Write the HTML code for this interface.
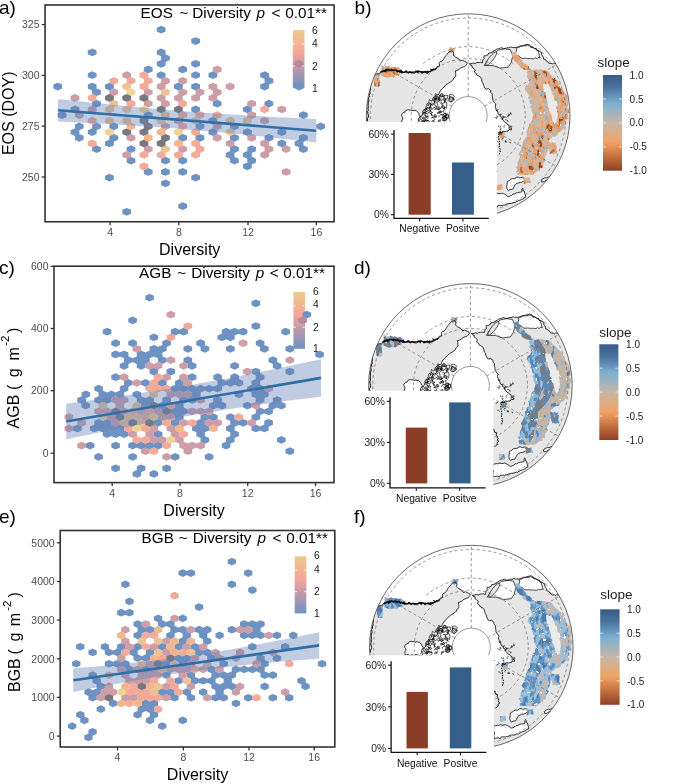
<!DOCTYPE html>
<html><head><meta charset="utf-8"><style>html,body{margin:0;padding:0;background:#fff;}svg{display:block;}</style></head>
<body><svg width="685" height="784" viewBox="0 0 685 784" style="will-change:transform">
<rect width="685" height="784" fill="#fff"/>
<defs><linearGradient id="lga" x1="0" y1="1" x2="0" y2="0"><stop offset="0" stop-color="#6e92c3"/><stop offset="0.38" stop-color="#c79aa8"/><stop offset="0.6" stop-color="#f4a69b"/><stop offset="0.77" stop-color="#f2b794"/><stop offset="1" stop-color="#ebcb8e"/></linearGradient></defs>
<rect x="292.8" y="30.2" width="11.699999999999989" height="57.7" fill="url(#lga)"/>
<text x="312" y="33.8" font-family="Liberation Sans, sans-serif" font-size="10.3" fill="#1a1a1a">6</text>
<text x="312" y="47.1" font-family="Liberation Sans, sans-serif" font-size="10.3" fill="#1a1a1a">4</text>
<text x="312" y="70.0" font-family="Liberation Sans, sans-serif" font-size="10.3" fill="#1a1a1a">2</text>
<text x="312" y="91.5" font-family="Liberation Sans, sans-serif" font-size="10.3" fill="#1a1a1a">1</text>
<path fill="#6e93c3" d="M92.20,48.53L96.59,50.46L96.59,54.34L92.20,56.27L87.81,54.34L87.81,50.46ZM92.20,71.30L96.59,73.24L96.59,77.11L92.20,79.04L87.81,77.11L87.81,73.24ZM57.72,82.69L62.11,84.62L62.11,88.49L57.72,90.43L53.34,88.49L53.34,84.62ZM92.20,82.69L96.59,84.62L96.59,88.49L92.20,90.43L87.81,88.49L87.81,84.62ZM96.51,88.38L100.90,90.32L100.90,94.19L96.51,96.12L92.12,94.19L92.12,90.32ZM109.44,82.69L113.83,84.62L113.83,88.49L109.44,90.43L105.05,88.49L105.05,84.62ZM96.51,99.77L100.90,101.70L100.90,105.57L96.51,107.51L92.12,105.57L92.12,101.70ZM74.96,105.46L79.35,107.39L79.35,111.27L74.96,113.20L70.58,111.27L70.58,107.39ZM62.03,111.15L66.42,113.09L66.42,116.96L62.03,118.89L57.65,116.96L57.65,113.09ZM79.27,122.54L83.66,124.47L83.66,128.34L79.27,130.28L74.89,128.34L74.89,124.47ZM96.51,122.54L100.90,124.47L100.90,128.34L96.51,130.28L92.12,128.34L92.12,124.47ZM113.75,122.54L118.14,124.47L118.14,128.34L113.75,130.28L109.36,128.34L109.36,124.47ZM74.96,128.23L79.35,130.17L79.35,134.04L74.96,135.97L70.58,134.04L70.58,130.17ZM92.20,128.23L96.59,130.17L96.59,134.04L92.20,135.97L87.81,134.04L87.81,130.17ZM79.27,133.92L83.66,135.86L83.66,139.73L79.27,141.67L74.89,139.73L74.89,135.86ZM113.75,133.92L118.14,135.86L118.14,139.73L113.75,141.67L109.36,139.73L109.36,135.86ZM109.44,139.62L113.83,141.55L113.83,145.42L109.44,147.36L105.05,145.42L105.05,141.55ZM96.51,145.31L100.90,147.25L100.90,151.12L96.51,153.05L92.12,151.12L92.12,147.25ZM130.99,145.31L135.38,147.25L135.38,151.12L130.99,153.05L126.61,151.12L126.61,147.25ZM130.99,156.70L135.38,158.63L135.38,162.50L130.99,164.44L126.61,162.50L126.61,158.63ZM148.23,168.08L152.61,170.02L152.61,173.89L148.23,175.82L143.84,173.89L143.84,170.02ZM109.44,173.78L113.83,175.71L113.83,179.58L109.44,181.52L105.05,179.58L105.05,175.71ZM126.68,207.93L131.06,209.87L131.06,213.74L126.68,215.67L122.30,213.74L122.30,209.87ZM161.16,25.76L165.54,27.69L165.54,31.56L161.16,33.50L156.78,31.56L156.78,27.69ZM195.64,37.14L200.02,39.08L200.02,42.95L195.64,44.88L191.25,42.95L191.25,39.08ZM161.16,48.53L165.54,50.46L165.54,54.34L161.16,56.27L156.78,54.34L156.78,50.46ZM165.47,54.22L169.85,56.16L169.85,60.03L165.47,61.96L161.09,60.03L161.09,56.16ZM161.16,59.92L165.54,61.85L165.54,65.72L161.16,67.66L156.78,65.72L156.78,61.85ZM148.23,65.61L152.61,67.54L152.61,71.41L148.23,73.35L143.84,71.41L143.84,67.54ZM182.71,65.61L187.09,67.54L187.09,71.41L182.71,73.35L178.32,71.41L178.32,67.54ZM195.64,59.92L200.02,61.85L200.02,65.72L195.64,67.66L191.25,65.72L191.25,61.85ZM161.16,71.30L165.54,73.24L165.54,77.11L161.16,79.04L156.78,77.11L156.78,73.24ZM195.64,71.30L200.02,73.24L200.02,77.11L195.64,79.04L191.25,77.11L191.25,73.24ZM212.88,71.30L217.26,73.24L217.26,77.11L212.88,79.04L208.50,77.11L208.50,73.24ZM178.40,82.69L182.78,84.62L182.78,88.49L178.40,90.43L174.01,88.49L174.01,84.62ZM195.64,82.69L200.02,84.62L200.02,88.49L195.64,90.43L191.25,88.49L191.25,84.62ZM217.19,99.77L221.57,101.70L221.57,105.57L217.19,107.51L212.81,105.57L212.81,101.70ZM195.64,105.46L200.02,107.39L200.02,111.27L195.64,113.20L191.25,111.27L191.25,107.39ZM148.23,111.15L152.61,113.09L152.61,116.96L148.23,118.89L143.84,116.96L143.84,113.09ZM212.88,116.85L217.26,118.78L217.26,122.65L212.88,124.59L208.50,122.65L208.50,118.78ZM199.95,122.54L204.33,124.47L204.33,128.34L199.95,130.28L195.56,128.34L195.56,124.47ZM234.43,122.54L238.81,124.47L238.81,128.34L234.43,130.28L230.05,128.34L230.05,124.47ZM212.88,128.23L217.26,130.17L217.26,134.04L212.88,135.97L208.50,134.04L208.50,130.17ZM182.71,133.92L187.09,135.86L187.09,139.73L182.71,141.67L178.32,139.73L178.32,135.86ZM199.95,133.92L204.33,135.86L204.33,139.73L199.95,141.67L195.56,139.73L195.56,135.86ZM234.43,133.92L238.81,135.86L238.81,139.73L234.43,141.67L230.05,139.73L230.05,135.86ZM234.43,145.31L238.81,147.25L238.81,151.12L234.43,153.05L230.05,151.12L230.05,147.25ZM230.12,151.00L234.50,152.94L234.50,156.81L230.12,158.74L225.74,156.81L225.74,152.94ZM165.47,156.70L169.85,158.63L169.85,162.50L165.47,164.44L161.09,162.50L161.09,158.63ZM182.71,156.70L187.09,158.63L187.09,162.50L182.71,164.44L178.32,162.50L178.32,158.63ZM234.43,156.70L238.81,158.63L238.81,162.50L234.43,164.44L230.05,162.50L230.05,158.63ZM165.47,168.08L169.85,170.02L169.85,173.89L165.47,175.82L161.09,173.89L161.09,170.02ZM182.71,168.08L187.09,170.02L187.09,173.89L182.71,175.82L178.32,173.89L178.32,170.02ZM195.64,173.78L200.02,175.71L200.02,179.58L195.64,181.52L191.25,179.58L191.25,175.71ZM165.47,179.47L169.85,181.40L169.85,185.27L165.47,187.21L161.09,185.27L161.09,181.40ZM182.71,202.24L187.09,204.18L187.09,208.05L182.71,209.98L178.32,208.05L178.32,204.18ZM264.60,71.30L268.98,73.24L268.98,77.11L264.60,79.04L260.21,77.11L260.21,73.24ZM268.91,76.99L273.29,78.93L273.29,82.80L268.91,84.74L264.52,82.80L264.52,78.93ZM264.60,82.69L268.98,84.62L268.98,88.49L264.60,90.43L260.21,88.49L260.21,84.62ZM299.08,82.69L303.46,84.62L303.46,88.49L299.08,90.43L294.69,88.49L294.69,84.62ZM268.91,99.77L273.29,101.70L273.29,105.57L268.91,107.51L264.52,105.57L264.52,101.70ZM247.36,105.46L251.75,107.39L251.75,111.27L247.36,113.20L242.98,111.27L242.98,107.39ZM303.39,111.15L307.77,113.09L307.77,116.96L303.39,118.89L299.00,116.96L299.00,113.09ZM320.63,122.54L325.01,124.47L325.01,128.34L320.63,130.28L316.25,128.34L316.25,124.47ZM247.36,128.23L251.75,130.17L251.75,134.04L247.36,135.97L242.98,134.04L242.98,130.17ZM281.84,128.23L286.22,130.17L286.22,134.04L281.84,135.97L277.45,134.04L277.45,130.17ZM268.91,133.92L273.29,135.86L273.29,139.73L268.91,141.67L264.52,139.73L264.52,135.86ZM303.39,133.92L307.77,135.86L307.77,139.73L303.39,141.67L299.00,139.73L299.00,135.86ZM281.84,139.62L286.22,141.55L286.22,145.42L281.84,147.36L277.45,145.42L277.45,141.55ZM299.08,139.62L303.46,141.55L303.46,145.42L299.08,147.36L294.69,145.42L294.69,141.55ZM251.67,145.31L256.06,147.25L256.06,151.12L251.67,153.05L247.29,151.12L247.29,147.25ZM303.39,145.31L307.77,147.25L307.77,151.12L303.39,153.05L299.00,151.12L299.00,147.25ZM247.36,151.00L251.75,152.94L251.75,156.81L247.36,158.74L242.98,156.81L242.98,152.94ZM251.67,156.70L256.06,158.63L256.06,162.50L251.67,164.44L247.29,162.50L247.29,158.63ZM247.36,162.39L251.75,164.32L251.75,168.20L247.36,170.13L242.98,168.20L242.98,164.32Z"/>
<path fill="#f4aa98" d="M113.75,76.99L118.14,78.93L118.14,82.80L113.75,84.74L109.36,82.80L109.36,78.93ZM130.99,76.99L135.38,78.93L135.38,82.80L130.99,84.74L126.61,82.80L126.61,78.93ZM143.92,71.30L148.31,73.24L148.31,77.11L143.92,79.04L139.54,77.11L139.54,73.24ZM143.92,82.69L148.31,84.62L148.31,88.49L143.92,90.43L139.54,88.49L139.54,84.62ZM92.20,94.07L96.59,96.01L96.59,99.88L92.20,101.81L87.81,99.88L87.81,96.01ZM130.99,99.77L135.38,101.70L135.38,105.57L130.99,107.51L126.61,105.57L126.61,101.70ZM92.20,116.85L96.59,118.78L96.59,122.65L92.20,124.59L87.81,122.65L87.81,118.78ZM92.20,139.62L96.59,141.55L96.59,145.42L92.20,147.36L87.81,145.42L87.81,141.55ZM143.92,151.00L148.31,152.94L148.31,156.81L143.92,158.74L139.54,156.81L139.54,152.94ZM143.92,162.39L148.31,164.32L148.31,168.20L143.92,170.13L139.54,168.20L139.54,164.32ZM148.23,76.99L152.61,78.93L152.61,82.80L148.23,84.74L143.84,82.80L143.84,78.93ZM182.71,99.77L187.09,101.70L187.09,105.57L182.71,107.51L178.32,105.57L178.32,101.70ZM182.71,111.15L187.09,113.09L187.09,116.96L182.71,118.89L178.32,116.96L178.32,113.09ZM199.95,111.15L204.33,113.09L204.33,116.96L199.95,118.89L195.56,116.96L195.56,113.09ZM217.19,111.15L221.57,113.09L221.57,116.96L217.19,118.89L212.81,116.96L212.81,113.09ZM182.71,122.54L187.09,124.47L187.09,128.34L182.71,130.28L178.32,128.34L178.32,124.47ZM195.64,128.23L200.02,130.17L200.02,134.04L195.64,135.97L191.25,134.04L191.25,130.17ZM195.64,139.62L200.02,141.55L200.02,145.42L195.64,147.36L191.25,145.42L191.25,141.55ZM199.95,145.31L204.33,147.25L204.33,151.12L199.95,153.05L195.56,151.12L195.56,147.25ZM161.16,151.00L165.54,152.94L165.54,156.81L161.16,158.74L156.78,156.81L156.78,152.94ZM178.40,151.00L182.78,152.94L182.78,156.81L178.40,158.74L174.01,156.81L174.01,152.94ZM195.64,151.00L200.02,152.94L200.02,156.81L195.64,158.74L191.25,156.81L191.25,152.94ZM264.60,105.46L268.98,107.39L268.98,111.27L264.60,113.20L260.21,111.27L260.21,107.39Z"/>
<path fill="#cd9ea8" d="M126.68,71.30L131.06,73.24L131.06,77.11L126.68,79.04L122.30,77.11L122.30,73.24ZM113.75,88.38L118.14,90.32L118.14,94.19L113.75,96.12L109.36,94.19L109.36,90.32ZM74.96,94.07L79.35,96.01L79.35,99.88L74.96,101.81L70.58,99.88L70.58,96.01ZM92.20,105.46L96.59,107.39L96.59,111.27L92.20,113.20L87.81,111.27L87.81,107.39ZM79.27,111.15L83.66,113.09L83.66,116.96L79.27,118.89L74.89,116.96L74.89,113.09ZM130.99,133.92L135.38,135.86L135.38,139.73L130.99,141.67L126.61,139.73L126.61,135.86ZM126.68,151.00L131.06,152.94L131.06,156.81L126.68,158.74L122.30,156.81L122.30,152.94ZM217.19,65.61L221.57,67.54L221.57,71.41L217.19,73.35L212.81,71.41L212.81,67.54ZM165.47,76.99L169.85,78.93L169.85,82.80L165.47,84.74L161.09,82.80L161.09,78.93ZM182.71,76.99L187.09,78.93L187.09,82.80L182.71,84.74L178.32,82.80L178.32,78.93ZM161.16,82.69L165.54,84.62L165.54,88.49L161.16,90.43L156.78,88.49L156.78,84.62ZM212.88,82.69L217.26,84.62L217.26,88.49L212.88,90.43L208.50,88.49L208.50,84.62ZM230.12,82.69L234.50,84.62L234.50,88.49L230.12,90.43L225.74,88.49L225.74,84.62ZM148.23,88.38L152.61,90.32L152.61,94.19L148.23,96.12L143.84,94.19L143.84,90.32ZM182.71,88.38L187.09,90.32L187.09,94.19L182.71,96.12L178.32,94.19L178.32,90.32ZM199.95,88.38L204.33,90.32L204.33,94.19L199.95,96.12L195.56,94.19L195.56,90.32ZM217.19,88.38L221.57,90.32L221.57,94.19L217.19,96.12L212.81,94.19L212.81,90.32ZM161.16,94.07L165.54,96.01L165.54,99.88L161.16,101.81L156.78,99.88L156.78,96.01ZM178.40,94.07L182.78,96.01L182.78,99.88L178.40,101.81L174.01,99.88L174.01,96.01ZM195.64,94.07L200.02,96.01L200.02,99.88L195.64,101.81L191.25,99.88L191.25,96.01ZM212.88,94.07L217.26,96.01L217.26,99.88L212.88,101.81L208.50,99.88L208.50,96.01ZM148.23,99.77L152.61,101.70L152.61,105.57L148.23,107.51L143.84,105.57L143.84,101.70ZM165.47,99.77L169.85,101.70L169.85,105.57L165.47,107.51L161.09,105.57L161.09,101.70ZM178.40,116.85L182.78,118.78L182.78,122.65L178.40,124.59L174.01,122.65L174.01,118.78ZM165.47,122.54L169.85,124.47L169.85,128.34L165.47,130.28L161.09,128.34L161.09,124.47ZM217.19,122.54L221.57,124.47L221.57,128.34L217.19,130.28L212.81,128.34L212.81,124.47ZM217.19,133.92L221.57,135.86L221.57,139.73L217.19,141.67L212.81,139.73L212.81,135.86ZM230.12,139.62L234.50,141.55L234.50,145.42L230.12,147.36L225.74,145.42L225.74,141.55ZM148.23,145.31L152.61,147.25L152.61,151.12L148.23,153.05L143.84,151.12L143.84,147.25ZM182.71,145.31L187.09,147.25L187.09,151.12L182.71,153.05L178.32,151.12L178.32,147.25ZM251.67,99.77L256.06,101.70L256.06,105.57L251.67,107.51L247.29,105.57L247.29,101.70ZM281.84,105.46L286.22,107.39L286.22,111.27L281.84,113.20L277.45,111.27L277.45,107.39ZM251.67,111.15L256.06,113.09L256.06,116.96L251.67,118.89L247.29,116.96L247.29,113.09ZM264.60,116.85L268.98,118.78L268.98,122.65L264.60,124.59L260.21,122.65L260.21,118.78ZM251.67,133.92L256.06,135.86L256.06,139.73L251.67,141.67L247.29,139.73L247.29,135.86ZM264.60,139.62L268.98,141.55L268.98,145.42L264.60,147.36L260.21,145.42L260.21,141.55ZM268.91,145.31L273.29,147.25L273.29,151.12L268.91,153.05L264.52,151.12L264.52,147.25ZM286.15,145.31L290.53,147.25L290.53,151.12L286.15,153.05L281.76,151.12L281.76,147.25ZM264.60,151.00L268.98,152.94L268.98,156.81L264.60,158.74L260.21,156.81L260.21,152.94ZM286.15,168.08L290.53,170.02L290.53,173.89L286.15,175.82L281.76,173.89L281.76,170.02Z"/>
<path fill="#edc393" d="M126.68,82.69L131.06,84.62L131.06,88.49L126.68,90.43L122.30,88.49L122.30,84.62ZM113.75,99.77L118.14,101.70L118.14,105.57L113.75,107.51L109.36,105.57L109.36,101.70ZM109.44,105.46L113.83,107.39L113.83,111.27L109.44,113.20L105.05,111.27L105.05,107.39ZM126.68,105.46L131.06,107.39L131.06,111.27L126.68,113.20L122.30,111.27L122.30,107.39ZM109.44,116.85L113.83,118.78L113.83,122.65L109.44,124.59L105.05,122.65L105.05,118.78ZM126.68,116.85L131.06,118.78L131.06,122.65L126.68,124.59L122.30,122.65L122.30,118.78ZM165.47,88.38L169.85,90.32L169.85,94.19L165.47,96.12L161.09,94.19L161.09,90.32ZM165.47,111.15L169.85,113.09L169.85,116.96L165.47,118.89L161.09,116.96L161.09,113.09ZM161.16,116.85L165.54,118.78L165.54,122.65L161.16,124.59L156.78,122.65L156.78,118.78ZM195.64,116.85L200.02,118.78L200.02,122.65L195.64,124.59L191.25,122.65L191.25,118.78ZM230.12,116.85L234.50,118.78L234.50,122.65L230.12,124.59L225.74,122.65L225.74,118.78ZM230.12,128.23L234.50,130.17L234.50,134.04L230.12,135.97L225.74,134.04L225.74,130.17ZM165.47,145.31L169.85,147.25L169.85,151.12L165.47,153.05L161.09,151.12L161.09,147.25ZM247.36,116.85L251.75,118.78L251.75,122.65L247.36,124.59L242.98,122.65L242.98,118.78Z"/>
<path fill="#eed592" d="M130.99,88.38L135.38,90.32L135.38,94.19L130.99,96.12L126.61,94.19L126.61,90.32ZM143.92,105.46L148.31,107.39L148.31,111.27L143.92,113.20L139.54,111.27L139.54,107.39ZM109.44,128.23L113.83,130.17L113.83,134.04L109.44,135.97L105.05,134.04L105.05,130.17ZM178.40,128.23L182.78,130.17L182.78,134.04L178.40,135.97L174.01,134.04L174.01,130.17Z"/>
<path fill="#78787c" d="M109.44,94.07L113.83,96.01L113.83,99.88L109.44,101.81L105.05,99.88L105.05,96.01ZM126.68,94.07L131.06,96.01L131.06,99.88L126.68,101.81L122.30,99.88L122.30,96.01ZM143.92,94.07L148.31,96.01L148.31,99.88L143.92,101.81L139.54,99.88L139.54,96.01ZM143.92,116.85L148.31,118.78L148.31,122.65L143.92,124.59L139.54,122.65L139.54,118.78ZM126.68,128.23L131.06,130.17L131.06,134.04L126.68,135.97L122.30,134.04L122.30,130.17ZM143.92,128.23L148.31,130.17L148.31,134.04L143.92,135.97L139.54,134.04L139.54,130.17ZM143.92,139.62L148.31,141.55L148.31,145.42L143.92,147.36L139.54,145.42L139.54,141.55ZM161.16,105.46L165.54,107.39L165.54,111.27L161.16,113.20L156.78,111.27L156.78,107.39ZM178.40,105.46L182.78,107.39L182.78,111.27L178.40,113.20L174.01,111.27L174.01,107.39ZM148.23,122.54L152.61,124.47L152.61,128.34L148.23,130.28L143.84,128.34L143.84,124.47ZM165.47,133.92L169.85,135.86L169.85,139.73L165.47,141.67L161.09,139.73L161.09,135.86ZM161.16,139.62L165.54,141.55L165.54,145.42L161.16,147.36L156.78,145.42L156.78,141.55Z"/>
<path fill="#f3b58c" d="M130.99,122.54L135.38,124.47L135.38,128.34L130.99,130.28L126.61,128.34L126.61,124.47ZM161.16,128.23L165.54,130.17L165.54,134.04L161.16,135.97L156.78,134.04L156.78,130.17ZM148.23,133.92L152.61,135.86L152.61,139.73L148.23,141.67L143.84,139.73L143.84,135.86ZM178.40,139.62L182.78,141.55L182.78,145.42L178.40,147.36L174.01,145.42L174.01,141.55Z"/>
<path fill="#b98a9e" d="M299.08,59.92L303.46,61.85L303.46,65.72L299.08,67.66L294.69,65.72L294.69,61.85Z"/>
<path d="M292.8,66.0h2.3M302.2,66.0h2.3" stroke="#fff" stroke-width="0.8"/>
<path d="M292.8,44.1h2.3M302.2,44.1h2.3" stroke="#fff" stroke-width="0.8"/>
<path fill="#6180b6" fill-opacity="0.4" d="M58.0,98.9L68.8,100.1L79.5,101.3L90.3,102.5L101.1,103.6L111.8,104.7L122.6,105.8L133.3,106.8L144.1,107.8L154.9,108.8L165.6,109.7L176.4,110.6L187.2,111.4L197.9,112.2L208.7,113.0L219.4,113.7L230.2,114.4L241.0,115.1L251.7,115.7L262.5,116.3L273.2,116.9L284.0,117.4L294.8,117.9L305.5,118.4L316.3,118.9L316.3,142.5L305.5,141.3L294.8,140.1L284.0,138.9L273.2,137.7L262.5,136.5L251.7,135.4L241.0,134.3L230.2,133.3L219.4,132.3L208.7,131.3L197.9,130.4L187.2,129.5L176.4,128.6L165.6,127.8L154.9,127.0L144.1,126.3L133.3,125.6L122.6,124.9L111.8,124.2L101.1,123.6L90.3,123.1L79.5,122.5L68.8,122.0L58.0,121.5Z"/>
<line x1="58" y1="110.2" x2="316.3" y2="130.7" stroke="#2f6fa8" stroke-width="2.6"/>
<rect x="45.05" y="5.0" width="289.05" height="216.75" fill="none" stroke="#333333" stroke-width="1.6"/>
<line x1="41.75" y1="24.6" x2="45.05" y2="24.6" stroke="#333333" stroke-width="1.3"/>
<text x="39.55" y="28.4" font-family="Liberation Sans, sans-serif" font-size="10.5" fill="#4d4d4d" text-anchor="end">325</text>
<line x1="41.75" y1="75.4" x2="45.05" y2="75.4" stroke="#333333" stroke-width="1.3"/>
<text x="39.55" y="79.2" font-family="Liberation Sans, sans-serif" font-size="10.5" fill="#4d4d4d" text-anchor="end">300</text>
<line x1="41.75" y1="126.2" x2="45.05" y2="126.2" stroke="#333333" stroke-width="1.3"/>
<text x="39.55" y="129.9" font-family="Liberation Sans, sans-serif" font-size="10.5" fill="#4d4d4d" text-anchor="end">275</text>
<line x1="41.75" y1="177.0" x2="45.05" y2="177.0" stroke="#333333" stroke-width="1.3"/>
<text x="39.55" y="180.8" font-family="Liberation Sans, sans-serif" font-size="10.5" fill="#4d4d4d" text-anchor="end">250</text>
<line x1="110.1" y1="221.75" x2="110.1" y2="225.25" stroke="#333333" stroke-width="1.3"/>
<text x="110.1" y="235.9" font-family="Liberation Sans, sans-serif" font-size="10.5" fill="#4d4d4d" text-anchor="middle">4</text>
<line x1="178.8" y1="221.75" x2="178.8" y2="225.25" stroke="#333333" stroke-width="1.3"/>
<text x="178.8" y="235.9" font-family="Liberation Sans, sans-serif" font-size="10.5" fill="#4d4d4d" text-anchor="middle">8</text>
<line x1="248" y1="221.75" x2="248" y2="225.25" stroke="#333333" stroke-width="1.3"/>
<text x="248" y="235.9" font-family="Liberation Sans, sans-serif" font-size="10.5" fill="#4d4d4d" text-anchor="middle">12</text>
<line x1="316.4" y1="221.75" x2="316.4" y2="225.25" stroke="#333333" stroke-width="1.3"/>
<text x="316.4" y="235.9" font-family="Liberation Sans, sans-serif" font-size="10.5" fill="#4d4d4d" text-anchor="middle">16</text>
<text x="189.7" y="254.8" font-family="Liberation Sans, sans-serif" font-size="16" fill="#000" text-anchor="middle">Diversity</text>
<text transform="translate(14.2,113.3) rotate(-90)" font-family="Liberation Sans, sans-serif" font-size="16" fill="#000" text-anchor="middle">EOS (DOY)</text>
<text x="-1" y="14" font-family="Liberation Sans, sans-serif" font-size="19" fill="#000">a)</text>
<text x="140.6" y="17.8" font-family="Liberation Sans, sans-serif" font-size="15.3" fill="#000" >EOS</text>
<text x="179.6" y="17.8" font-family="Liberation Sans, sans-serif" font-size="15.3" fill="#000" >~</text>
<text x="192.3" y="17.8" font-family="Liberation Sans, sans-serif" font-size="15.3" fill="#000" >Diversity</text>
<text x="256.5" y="17.8" font-family="Liberation Sans, sans-serif" font-size="15.3" fill="#000" font-style="italic">p</text>
<text x="271.6" y="17.8" font-family="Liberation Sans, sans-serif" font-size="15.3" fill="#000" >&lt;</text>
<text x="285.2" y="17.8" font-family="Liberation Sans, sans-serif" font-size="15.3" fill="#000" >0.01**</text>
<defs><linearGradient id="lgc" x1="0" y1="1" x2="0" y2="0"><stop offset="0" stop-color="#6e92c3"/><stop offset="0.38" stop-color="#c79aa8"/><stop offset="0.6" stop-color="#f4a69b"/><stop offset="0.77" stop-color="#f2b794"/><stop offset="1" stop-color="#ebcb8e"/></linearGradient></defs>
<rect x="293.4" y="292" width="11.600000000000023" height="56.80000000000001" fill="url(#lgc)"/>
<text x="313" y="294.9" font-family="Liberation Sans, sans-serif" font-size="10.3" fill="#1a1a1a">6</text>
<text x="313" y="308.1" font-family="Liberation Sans, sans-serif" font-size="10.3" fill="#1a1a1a">4</text>
<text x="313" y="330.6" font-family="Liberation Sans, sans-serif" font-size="10.3" fill="#1a1a1a">2</text>
<text x="313" y="352.4" font-family="Liberation Sans, sans-serif" font-size="10.3" fill="#1a1a1a">1</text>
<path fill="#6e93c3" d="M132.60,316.47L136.92,318.41L136.92,322.27L132.60,324.21L128.28,322.27L128.28,318.41ZM107.10,327.85L111.42,329.79L111.42,333.65L107.10,335.59L102.77,333.65L102.77,329.79ZM115.60,339.23L119.92,341.17L119.92,345.03L115.60,346.97L111.27,345.03L111.27,341.17ZM132.60,339.23L136.92,341.17L136.92,345.03L132.60,346.97L128.28,345.03L128.28,341.17ZM115.60,350.61L119.92,352.55L119.92,356.41L115.60,358.35L111.27,356.41L111.27,352.55ZM124.10,350.61L128.42,352.55L128.42,356.41L124.10,358.35L119.77,356.41L119.77,352.55ZM141.10,350.61L145.42,352.55L145.42,356.41L141.10,358.35L136.78,356.41L136.78,352.55ZM128.35,356.30L132.67,358.24L132.67,362.10L128.35,364.04L124.02,362.10L124.02,358.24ZM153.85,333.54L158.17,335.48L158.17,339.34L153.85,341.28L149.53,339.34L149.53,335.48ZM153.85,344.92L158.17,346.86L158.17,350.72L153.85,352.66L149.53,350.72L149.53,346.86ZM149.60,350.61L153.92,352.55L153.92,356.41L149.60,358.35L145.28,356.41L145.28,352.55ZM158.10,350.61L162.42,352.55L162.42,356.41L158.10,358.35L153.78,356.41L153.78,352.55ZM136.85,356.30L141.17,358.24L141.17,362.10L136.85,364.04L132.53,362.10L132.53,358.24ZM145.35,356.30L149.67,358.24L149.67,362.10L145.35,364.04L141.03,362.10L141.03,358.24ZM124.10,361.99L128.42,363.93L128.42,367.79L124.10,369.73L119.77,367.79L119.77,363.93ZM141.10,361.99L145.42,363.93L145.42,367.79L141.10,369.73L136.78,367.79L136.78,363.93ZM153.85,367.68L158.17,369.62L158.17,373.48L153.85,375.42L149.53,373.48L149.53,369.62ZM115.60,373.37L119.92,375.31L119.92,379.17L115.60,381.11L111.27,379.17L111.27,375.31ZM128.35,379.06L132.67,381.00L132.67,384.86L128.35,386.80L124.02,384.86L124.02,381.00ZM145.35,379.06L149.67,381.00L149.67,384.86L145.35,386.80L141.03,384.86L141.03,381.00ZM162.35,379.06L166.67,381.00L166.67,384.86L162.35,386.80L158.03,384.86L158.03,381.00ZM98.60,384.75L102.92,386.69L102.92,390.55L98.60,392.49L94.27,390.55L94.27,386.69ZM124.10,384.75L128.42,386.69L128.42,390.55L124.10,392.49L119.77,390.55L119.77,386.69ZM149.60,293.71L153.92,295.65L153.92,299.51L149.60,301.45L145.28,299.51L145.28,295.65ZM175.10,327.85L179.42,329.79L179.42,333.65L175.10,335.59L170.78,333.65L170.78,329.79ZM183.60,327.85L187.92,329.79L187.92,333.65L183.60,335.59L179.28,333.65L179.28,329.79ZM166.60,339.23L170.92,341.17L170.92,345.03L166.60,346.97L162.28,345.03L162.28,341.17ZM200.60,339.23L204.92,341.17L204.92,345.03L200.60,346.97L196.28,345.03L196.28,341.17ZM204.85,344.92L209.17,346.86L209.17,350.72L204.85,352.66L200.53,350.72L200.53,346.86ZM187.85,344.92L192.17,346.86L192.17,350.72L187.85,352.66L183.53,350.72L183.53,346.86ZM162.35,344.92L166.67,346.86L166.67,350.72L162.35,352.66L158.03,350.72L158.03,346.86ZM187.85,356.30L192.17,358.24L192.17,362.10L187.85,364.04L183.53,362.10L183.53,358.24ZM162.35,356.30L166.67,358.24L166.67,362.10L162.35,364.04L158.03,362.10L158.03,358.24ZM255.85,299.40L260.18,301.34L260.18,305.20L255.85,307.14L251.53,305.20L251.53,301.34ZM255.85,322.16L260.18,324.10L260.18,327.96L255.85,329.90L251.53,327.96L251.53,324.10ZM226.10,327.85L230.42,329.79L230.42,333.65L226.10,335.59L221.78,333.65L221.78,329.79ZM234.60,327.85L238.92,329.79L238.92,333.65L234.60,335.59L230.28,333.65L230.28,329.79ZM243.10,327.85L247.42,329.79L247.42,333.65L243.10,335.59L238.78,333.65L238.78,329.79ZM221.85,333.54L226.17,335.48L226.17,339.34L221.85,341.28L217.53,339.34L217.53,335.48ZM230.35,333.54L234.67,335.48L234.67,339.34L230.35,341.28L226.03,339.34L226.03,335.48ZM285.60,327.85L289.93,329.79L289.93,333.65L285.60,335.59L281.28,333.65L281.28,329.79ZM260.10,339.23L264.43,341.17L264.43,345.03L260.10,346.97L255.78,345.03L255.78,341.17ZM264.35,344.92L268.68,346.86L268.68,350.72L264.35,352.66L260.03,350.72L260.03,346.86ZM230.35,344.92L234.67,346.86L234.67,350.72L230.35,352.66L226.03,350.72L226.03,346.86ZM289.85,344.92L294.18,346.86L294.18,350.72L289.85,352.66L285.53,350.72L285.53,346.86ZM272.85,356.30L277.18,358.24L277.18,362.10L272.85,364.04L268.53,362.10L268.53,358.24ZM306.85,310.78L311.18,312.72L311.18,316.58L306.85,318.52L302.53,316.58L302.53,312.72ZM319.60,350.61L323.93,352.55L323.93,356.41L319.60,358.35L315.28,356.41L315.28,352.55ZM277.10,361.99L281.43,363.93L281.43,367.79L277.10,369.73L272.78,367.79L272.78,363.93ZM234.60,361.99L238.92,363.93L238.92,367.79L234.60,369.73L230.28,367.79L230.28,363.93ZM255.85,367.68L260.18,369.62L260.18,373.48L255.85,375.42L251.53,373.48L251.53,369.62ZM260.10,373.37L264.43,375.31L264.43,379.17L260.10,381.11L255.78,379.17L255.78,375.31ZM289.85,367.68L294.18,369.62L294.18,373.48L289.85,375.42L285.53,373.48L285.53,369.62ZM192.10,361.99L196.42,363.93L196.42,367.79L192.10,369.73L187.78,367.79L187.78,363.93ZM170.85,367.68L175.17,369.62L175.17,373.48L170.85,375.42L166.53,373.48L166.53,369.62ZM192.10,373.37L196.42,375.31L196.42,379.17L192.10,381.11L187.78,379.17L187.78,375.31ZM179.35,379.06L183.67,381.00L183.67,384.86L179.35,386.80L175.03,384.86L175.03,381.00ZM175.10,384.75L179.42,386.69L179.42,390.55L175.10,392.49L170.78,390.55L170.78,386.69ZM183.60,384.75L187.92,386.69L187.92,390.55L183.60,392.49L179.28,390.55L179.28,386.69ZM192.10,384.75L196.42,386.69L196.42,390.55L192.10,392.49L187.78,390.55L187.78,386.69ZM200.60,384.75L204.92,386.69L204.92,390.55L200.60,392.49L196.28,390.55L196.28,386.69ZM209.10,384.75L213.42,386.69L213.42,390.55L209.10,392.49L204.78,390.55L204.78,386.69ZM136.85,390.44L141.17,392.38L141.17,396.24L136.85,398.18L132.53,396.24L132.53,392.38ZM196.35,390.44L200.67,392.38L200.67,396.24L196.35,398.18L192.03,396.24L192.03,392.38ZM141.10,396.13L145.42,398.07L145.42,401.93L141.10,403.87L136.78,401.93L136.78,398.07ZM149.60,396.13L153.92,398.07L153.92,401.93L149.60,403.87L145.28,401.93L145.28,398.07ZM166.60,396.13L170.92,398.07L170.92,401.93L166.60,403.87L162.28,401.93L162.28,398.07ZM183.60,396.13L187.92,398.07L187.92,401.93L183.60,403.87L179.28,401.93L179.28,398.07ZM192.10,396.13L196.42,398.07L196.42,401.93L192.10,403.87L187.78,401.93L187.78,398.07ZM145.35,401.82L149.67,403.76L149.67,407.62L145.35,409.56L141.03,407.62L141.03,403.76ZM162.35,401.82L166.67,403.76L166.67,407.62L162.35,409.56L158.03,407.62L158.03,403.76ZM179.35,401.82L183.67,403.76L183.67,407.62L179.35,409.56L175.03,407.62L175.03,403.76ZM175.10,407.51L179.42,409.45L179.42,413.31L175.10,415.25L170.78,413.31L170.78,409.45ZM183.60,407.51L187.92,409.45L187.92,413.31L183.60,415.25L179.28,413.31L179.28,409.45ZM179.35,413.20L183.67,415.14L183.67,419.00L179.35,420.94L175.03,419.00L175.03,415.14ZM204.85,413.20L209.17,415.14L209.17,419.00L204.85,420.94L200.53,419.00L200.53,415.14ZM158.10,418.89L162.42,420.83L162.42,424.69L158.10,426.63L153.78,424.69L153.78,420.83ZM175.10,418.89L179.42,420.83L179.42,424.69L175.10,426.63L170.78,424.69L170.78,420.83ZM200.60,418.89L204.92,420.83L204.92,424.69L200.60,426.63L196.28,424.69L196.28,420.83ZM85.85,390.44L90.17,392.38L90.17,396.24L85.85,398.18L81.52,396.24L81.52,392.38ZM102.85,390.44L107.17,392.38L107.17,396.24L102.85,398.18L98.52,396.24L98.52,392.38ZM111.35,390.44L115.67,392.38L115.67,396.24L111.35,398.18L107.02,396.24L107.02,392.38ZM119.85,390.44L124.17,392.38L124.17,396.24L119.85,398.18L115.52,396.24L115.52,392.38ZM81.60,396.13L85.92,398.07L85.92,401.93L81.60,403.87L77.27,401.93L77.27,398.07ZM98.60,396.13L102.92,398.07L102.92,401.93L98.60,403.87L94.27,401.93L94.27,398.07ZM107.10,396.13L111.42,398.07L111.42,401.93L107.10,403.87L102.77,401.93L102.77,398.07ZM85.85,401.82L90.17,403.76L90.17,407.62L85.85,409.56L81.52,407.62L81.52,403.76ZM98.60,418.89L102.92,420.83L102.92,424.69L98.60,426.63L94.27,424.69L94.27,420.83ZM107.10,418.89L111.42,420.83L111.42,424.69L107.10,426.63L102.77,424.69L102.77,420.83ZM77.35,424.58L81.67,426.52L81.67,430.38L77.35,432.32L73.02,430.38L73.02,426.52ZM94.35,424.58L98.67,426.52L98.67,430.38L94.35,432.32L90.02,430.38L90.02,426.52ZM102.85,424.58L107.17,426.52L107.17,430.38L102.85,432.32L98.52,430.38L98.52,426.52ZM111.35,424.58L115.67,426.52L115.67,430.38L111.35,432.32L107.02,430.38L107.02,426.52ZM119.85,424.58L124.17,426.52L124.17,430.38L119.85,432.32L115.52,430.38L115.52,426.52ZM107.10,430.27L111.42,432.21L111.42,436.07L107.10,438.01L102.77,436.07L102.77,432.21ZM115.60,430.27L119.92,432.21L119.92,436.07L115.60,438.01L111.27,436.07L111.27,432.21ZM124.10,430.27L128.42,432.21L128.42,436.07L124.10,438.01L119.77,436.07L119.77,432.21ZM196.35,424.58L200.67,426.52L200.67,430.38L196.35,432.32L192.03,430.38L192.03,426.52ZM158.10,430.27L162.42,432.21L162.42,436.07L158.10,438.01L153.78,436.07L153.78,432.21ZM200.60,430.27L204.92,432.21L204.92,436.07L200.60,438.01L196.28,436.07L196.28,432.21ZM90.10,441.65L94.42,443.59L94.42,447.45L90.10,449.39L85.77,447.45L85.77,443.59ZM115.60,441.65L119.92,443.59L119.92,447.45L115.60,449.39L111.27,447.45L111.27,443.59ZM132.60,441.65L136.92,443.59L136.92,447.45L132.60,449.39L128.28,447.45L128.28,443.59ZM141.10,441.65L145.42,443.59L145.42,447.45L141.10,449.39L136.78,447.45L136.78,443.59ZM149.60,441.65L153.92,443.59L153.92,447.45L149.60,449.39L145.28,447.45L145.28,443.59ZM158.10,441.65L162.42,443.59L162.42,447.45L158.10,449.39L153.78,447.45L153.78,443.59ZM98.60,453.03L102.92,454.97L102.92,458.83L98.60,460.77L94.27,458.83L94.27,454.97ZM132.60,453.03L136.92,454.97L136.92,458.83L132.60,460.77L128.28,458.83L128.28,454.97ZM175.10,453.03L179.42,454.97L179.42,458.83L175.10,460.77L170.78,458.83L170.78,454.97ZM115.60,464.41L119.92,466.35L119.92,470.21L115.60,472.15L111.27,470.21L111.27,466.35ZM141.10,464.41L145.42,466.35L145.42,470.21L141.10,472.15L136.78,470.21L136.78,466.35ZM166.60,464.41L170.92,466.35L170.92,470.21L166.60,472.15L162.28,470.21L162.28,466.35ZM136.85,470.10L141.17,472.04L141.17,475.90L136.85,477.84L132.53,475.90L132.53,472.04ZM153.85,470.10L158.17,472.04L158.17,475.90L153.85,477.84L149.53,475.90L149.53,472.04ZM213.35,413.20L217.67,415.14L217.67,419.00L213.35,420.94L209.03,419.00L209.03,415.14ZM230.35,413.20L234.67,415.14L234.67,419.00L230.35,420.94L226.03,419.00L226.03,415.14ZM255.85,413.20L260.18,415.14L260.18,419.00L255.85,420.94L251.53,419.00L251.53,415.14ZM234.60,418.89L238.92,420.83L238.92,424.69L234.60,426.63L230.28,424.69L230.28,420.83ZM243.10,418.89L247.42,420.83L247.42,424.69L243.10,426.63L238.78,424.69L238.78,420.83ZM204.85,424.58L209.17,426.52L209.17,430.38L204.85,432.32L200.53,430.38L200.53,426.52ZM230.35,424.58L234.67,426.52L234.67,430.38L230.35,432.32L226.03,430.38L226.03,426.52ZM255.85,424.58L260.18,426.52L260.18,430.38L255.85,432.32L251.53,430.38L251.53,426.52ZM264.35,424.58L268.68,426.52L268.68,430.38L264.35,432.32L260.03,430.38L260.03,426.52ZM234.60,430.27L238.92,432.21L238.92,436.07L234.60,438.01L230.28,436.07L230.28,432.21ZM204.85,435.96L209.17,437.90L209.17,441.76L204.85,443.70L200.53,441.76L200.53,437.90ZM230.35,435.96L234.67,437.90L234.67,441.76L230.35,443.70L226.03,441.76L226.03,437.90ZM226.10,441.65L230.42,443.59L230.42,447.45L226.10,449.39L221.78,447.45L221.78,443.59ZM209.10,453.03L213.42,454.97L213.42,458.83L209.10,460.77L204.78,458.83L204.78,454.97ZM217.60,373.37L221.92,375.31L221.92,379.17L217.60,381.11L213.28,379.17L213.28,375.31ZM234.60,373.37L238.92,375.31L238.92,379.17L234.60,381.11L230.28,379.17L230.28,375.31ZM221.85,379.06L226.17,381.00L226.17,384.86L221.85,386.80L217.53,384.86L217.53,381.00ZM230.35,379.06L234.67,381.00L234.67,384.86L230.35,386.80L226.03,384.86L226.03,381.00ZM238.85,379.06L243.17,381.00L243.17,384.86L238.85,386.80L234.53,384.86L234.53,381.00ZM255.85,379.06L260.18,381.00L260.18,384.86L255.85,386.80L251.53,384.86L251.53,381.00ZM217.60,384.75L221.92,386.69L221.92,390.55L217.60,392.49L213.28,390.55L213.28,386.69ZM251.60,384.75L255.92,386.69L255.92,390.55L251.60,392.49L247.28,390.55L247.28,386.69ZM260.10,384.75L264.43,386.69L264.43,390.55L260.10,392.49L255.78,390.55L255.78,386.69ZM238.85,390.44L243.17,392.38L243.17,396.24L238.85,398.18L234.53,396.24L234.53,392.38ZM255.85,390.44L260.18,392.38L260.18,396.24L255.85,398.18L251.53,396.24L251.53,392.38ZM217.60,396.13L221.92,398.07L221.92,401.93L217.60,403.87L213.28,401.93L213.28,398.07ZM260.10,396.13L264.43,398.07L264.43,401.93L260.10,403.87L255.78,401.93L255.78,398.07ZM213.35,401.82L217.67,403.76L217.67,407.62L213.35,409.56L209.03,407.62L209.03,403.76ZM221.85,401.82L226.17,403.76L226.17,407.62L221.85,409.56L217.53,407.62L217.53,403.76ZM247.35,401.82L251.67,403.76L251.67,407.62L247.35,409.56L243.03,407.62L243.03,403.76ZM260.10,407.51L264.43,409.45L264.43,413.31L260.10,415.25L255.78,413.31L255.78,409.45ZM264.35,390.44L268.68,392.38L268.68,396.24L264.35,398.18L260.03,396.24L260.03,392.38ZM277.10,396.13L281.43,398.07L281.43,401.93L277.10,403.87L272.78,401.93L272.78,398.07ZM272.85,401.82L277.18,403.76L277.18,407.62L272.85,409.56L268.53,407.62L268.53,403.76ZM281.35,401.82L285.68,403.76L285.68,407.62L281.35,409.56L277.03,407.62L277.03,403.76ZM268.60,407.51L272.93,409.45L272.93,413.31L268.60,415.25L264.28,413.31L264.28,409.45ZM268.60,418.89L272.93,420.83L272.93,424.69L268.60,426.63L264.28,424.69L264.28,420.83ZM281.35,435.96L285.68,437.90L285.68,441.76L281.35,443.70L277.03,441.76L277.03,437.90ZM289.85,447.34L294.18,449.28L294.18,453.14L289.85,455.08L285.53,453.14L285.53,449.28Z"/>
<path fill="#cd9ea8" d="M136.85,344.92L141.17,346.86L141.17,350.72L136.85,352.66L132.53,350.72L132.53,346.86ZM149.60,361.99L153.92,363.93L153.92,367.79L149.60,369.73L145.28,367.79L145.28,363.93ZM158.10,361.99L162.42,363.93L162.42,367.79L158.10,369.73L153.78,367.79L153.78,363.93ZM124.10,373.37L128.42,375.31L128.42,379.17L124.10,381.11L119.77,379.17L119.77,375.31ZM136.85,379.06L141.17,381.00L141.17,384.86L136.85,386.80L132.53,384.86L132.53,381.00ZM170.85,310.78L175.17,312.72L175.17,316.58L170.85,318.52L166.53,316.58L166.53,312.72ZM170.85,356.30L175.17,358.24L175.17,362.10L170.85,364.04L166.53,362.10L166.53,358.24ZM243.10,339.23L247.42,341.17L247.42,345.03L243.10,346.97L238.78,345.03L238.78,341.17ZM289.85,356.30L294.18,358.24L294.18,362.10L289.85,364.04L285.53,362.10L285.53,358.24ZM247.35,367.68L251.67,369.62L251.67,373.48L247.35,375.42L243.03,373.48L243.03,369.62ZM183.60,361.99L187.92,363.93L187.92,367.79L183.60,369.73L179.28,367.79L179.28,363.93ZM166.60,373.37L170.92,375.31L170.92,379.17L166.60,381.11L162.28,379.17L162.28,375.31ZM183.60,373.37L187.92,375.31L187.92,379.17L183.60,381.11L179.28,379.17L179.28,375.31ZM187.85,379.06L192.17,381.00L192.17,384.86L187.85,386.80L183.53,384.86L183.53,381.00ZM170.85,390.44L175.17,392.38L175.17,396.24L170.85,398.18L166.53,396.24L166.53,392.38ZM179.35,390.44L183.67,392.38L183.67,396.24L179.35,398.18L175.03,396.24L175.03,392.38ZM187.85,390.44L192.17,392.38L192.17,396.24L187.85,398.18L183.53,396.24L183.53,392.38ZM200.60,396.13L204.92,398.07L204.92,401.93L200.60,403.87L196.28,401.93L196.28,398.07ZM141.10,407.51L145.42,409.45L145.42,413.31L141.10,415.25L136.78,413.31L136.78,409.45ZM158.10,407.51L162.42,409.45L162.42,413.31L158.10,415.25L153.78,413.31L153.78,409.45ZM192.10,407.51L196.42,409.45L196.42,413.31L192.10,415.25L187.78,413.31L187.78,409.45ZM200.60,407.51L204.92,409.45L204.92,413.31L200.60,415.25L196.28,413.31L196.28,409.45ZM209.10,407.51L213.42,409.45L213.42,413.31L209.10,415.25L204.78,413.31L204.78,409.45ZM162.35,413.20L166.67,415.14L166.67,419.00L162.35,420.94L158.03,419.00L158.03,415.14ZM170.85,413.20L175.17,415.14L175.17,419.00L170.85,420.94L166.53,419.00L166.53,415.14ZM183.60,418.89L187.92,420.83L187.92,424.69L183.60,426.63L179.28,424.69L179.28,420.83ZM209.10,418.89L213.42,420.83L213.42,424.69L209.10,426.63L204.78,424.69L204.78,420.83ZM115.60,396.13L119.92,398.07L119.92,401.93L115.60,403.87L111.27,401.93L111.27,398.07ZM124.10,396.13L128.42,398.07L128.42,401.93L124.10,403.87L119.77,401.93L119.77,398.07ZM119.85,401.82L124.17,403.76L124.17,407.62L119.85,409.56L115.52,407.62L115.52,403.76ZM98.60,407.51L102.92,409.45L102.92,413.31L98.60,415.25L94.27,413.31L94.27,409.45ZM107.10,407.51L111.42,409.45L111.42,413.31L107.10,415.25L102.77,413.31L102.77,409.45ZM124.10,407.51L128.42,409.45L128.42,413.31L124.10,415.25L119.77,413.31L119.77,409.45ZM68.85,413.20L73.17,415.14L73.17,419.00L68.85,420.94L64.52,419.00L64.52,415.14ZM111.35,413.20L115.67,415.14L115.67,419.00L111.35,420.94L107.02,419.00L107.02,415.14ZM81.60,418.89L85.92,420.83L85.92,424.69L81.60,426.63L77.27,424.69L77.27,420.83ZM115.60,418.89L119.92,420.83L119.92,424.69L115.60,426.63L111.27,424.69L111.27,420.83ZM68.85,424.58L73.17,426.52L73.17,430.38L68.85,432.32L64.52,430.38L64.52,426.52ZM132.60,430.27L136.92,432.21L136.92,436.07L132.60,438.01L128.28,436.07L128.28,432.21ZM153.85,424.58L158.17,426.52L158.17,430.38L153.85,432.32L149.53,430.38L149.53,426.52ZM170.85,424.58L175.17,426.52L175.17,430.38L170.85,432.32L166.53,430.38L166.53,426.52ZM149.60,430.27L153.92,432.21L153.92,436.07L149.60,438.01L145.28,436.07L145.28,432.21ZM175.10,430.27L179.42,432.21L179.42,436.07L175.10,438.01L170.78,436.07L170.78,432.21ZM153.85,435.96L158.17,437.90L158.17,441.76L153.85,443.70L149.53,441.76L149.53,437.90ZM162.35,435.96L166.67,437.90L166.67,441.76L162.35,443.70L158.03,441.76L158.03,437.90ZM179.35,435.96L183.67,437.90L183.67,441.76L179.35,443.70L175.03,441.76L175.03,437.90ZM81.60,441.65L85.92,443.59L85.92,447.45L81.60,449.39L77.27,447.45L77.27,443.59ZM183.60,441.65L187.92,443.59L187.92,447.45L183.60,449.39L179.28,447.45L179.28,443.59ZM192.10,441.65L196.42,443.59L196.42,447.45L192.10,449.39L187.78,447.45L187.78,443.59ZM200.60,441.65L204.92,443.59L204.92,447.45L200.60,449.39L196.28,447.45L196.28,443.59ZM145.35,447.34L149.67,449.28L149.67,453.14L145.35,455.08L141.03,453.14L141.03,449.28ZM187.85,447.34L192.17,449.28L192.17,453.14L187.85,455.08L183.53,453.14L183.53,449.28ZM166.60,453.03L170.92,454.97L170.92,458.83L166.60,460.77L162.28,458.83L162.28,454.97ZM217.60,418.89L221.92,420.83L221.92,424.69L217.60,426.63L213.28,424.69L213.28,420.83ZM251.60,418.89L255.92,420.83L255.92,424.69L251.60,426.63L247.28,424.69L247.28,420.83ZM255.85,401.82L260.18,403.76L260.18,407.62L255.85,409.56L251.53,407.62L251.53,403.76ZM268.60,384.75L272.93,386.69L272.93,390.55L268.60,392.49L264.28,390.55L264.28,386.69Z"/>
<path fill="#f4aa98" d="M158.10,373.37L162.42,375.31L162.42,379.17L158.10,381.11L153.78,379.17L153.78,375.31ZM153.85,379.06L158.17,381.00L158.17,384.86L153.85,386.80L149.53,384.86L149.53,381.00ZM149.60,384.75L153.92,386.69L153.92,390.55L149.60,392.49L145.28,390.55L145.28,386.69ZM158.10,384.75L162.42,386.69L162.42,390.55L158.10,392.49L153.78,390.55L153.78,386.69ZM187.85,322.16L192.17,324.10L192.17,327.96L187.85,329.90L183.53,327.96L183.53,324.10ZM170.85,333.54L175.17,335.48L175.17,339.34L170.85,341.28L166.53,339.34L166.53,335.48ZM166.60,384.75L170.92,386.69L170.92,390.55L166.60,392.49L162.28,390.55L162.28,386.69ZM170.85,401.82L175.17,403.76L175.17,407.62L170.85,409.56L166.53,407.62L166.53,403.76ZM132.60,407.51L136.92,409.45L136.92,413.31L132.60,415.25L128.28,413.31L128.28,409.45ZM149.60,407.51L153.92,409.45L153.92,413.31L149.60,415.25L145.28,413.31L145.28,409.45ZM145.35,413.20L149.67,415.14L149.67,419.00L145.35,420.94L141.03,419.00L141.03,415.14ZM166.60,418.89L170.92,420.83L170.92,424.69L166.60,426.63L162.28,424.69L162.28,420.83ZM192.10,418.89L196.42,420.83L196.42,424.69L192.10,426.63L187.78,424.69L187.78,420.83ZM128.35,424.58L132.67,426.52L132.67,430.38L128.35,432.32L124.02,430.38L124.02,426.52ZM145.35,424.58L149.67,426.52L149.67,430.38L145.35,432.32L141.03,430.38L141.03,426.52ZM183.60,430.27L187.92,432.21L187.92,436.07L183.60,438.01L179.28,436.07L179.28,432.21ZM136.85,435.96L141.17,437.90L141.17,441.76L136.85,443.70L132.53,441.76L132.53,437.90ZM145.35,435.96L149.67,437.90L149.67,441.76L145.35,443.70L141.03,441.76L141.03,437.90ZM166.60,441.65L170.92,443.59L170.92,447.45L166.60,449.39L162.28,447.45L162.28,443.59ZM153.85,447.34L158.17,449.28L158.17,453.14L153.85,455.08L149.53,453.14L149.53,449.28ZM238.85,413.20L243.17,415.14L243.17,419.00L238.85,420.94L234.53,419.00L234.53,415.14Z"/>
<path fill="#b98a9e" d="M302.60,316.47L306.93,318.41L306.93,322.27L302.60,324.21L298.28,322.27L298.28,318.41Z"/>
<path fill="#edc393" d="M153.85,390.44L158.17,392.38L158.17,396.24L153.85,398.18L149.53,396.24L149.53,392.38ZM136.85,401.82L141.17,403.76L141.17,407.62L136.85,409.56L132.53,407.62L132.53,403.76ZM128.35,413.20L132.67,415.14L132.67,419.00L128.35,420.94L124.02,419.00L124.02,415.14ZM136.85,413.20L141.17,415.14L141.17,419.00L136.85,420.94L132.53,419.00L132.53,415.14ZM141.10,418.89L145.42,420.83L145.42,424.69L141.10,426.63L136.78,424.69L136.78,420.83ZM102.85,401.82L107.17,403.76L107.17,407.62L102.85,409.56L98.52,407.62L98.52,403.76ZM124.10,418.89L128.42,420.83L128.42,424.69L124.10,426.63L119.77,424.69L119.77,420.83Z"/>
<path fill="#78787c" d="M153.85,401.82L158.17,403.76L158.17,407.62L153.85,409.56L149.53,407.62L149.53,403.76ZM166.60,407.51L170.92,409.45L170.92,413.31L166.60,415.25L162.28,413.31L162.28,409.45ZM132.60,418.89L136.92,420.83L136.92,424.69L132.60,426.63L128.28,424.69L128.28,420.83ZM149.60,418.89L153.92,420.83L153.92,424.69L149.60,426.63L145.28,424.69L145.28,420.83ZM115.60,407.51L119.92,409.45L119.92,413.31L115.60,415.25L111.27,413.31L111.27,409.45ZM119.85,413.20L124.17,415.14L124.17,419.00L119.85,420.94L115.52,419.00L115.52,415.14Z"/>
<path fill="#eed592" d="M153.85,413.20L158.17,415.14L158.17,419.00L153.85,420.94L149.53,419.00L149.53,415.14ZM102.85,413.20L107.17,415.14L107.17,419.00L102.85,420.94L98.52,419.00L98.52,415.14ZM136.85,424.58L141.17,426.52L141.17,430.38L136.85,432.32L132.53,430.38L132.53,426.52ZM170.85,435.96L175.17,437.90L175.17,441.76L170.85,443.70L166.53,441.76L166.53,437.90Z"/>
<path fill="#f3b58c" d="M179.35,424.58L183.67,426.52L183.67,430.38L179.35,432.32L175.03,430.38L175.03,426.52ZM213.35,424.58L217.67,426.52L217.67,430.38L213.35,432.32L209.03,430.38L209.03,426.52Z"/>
<path d="M293.4,327.2h2.3M302.7,327.2h2.3" stroke="#fff" stroke-width="0.8"/>
<path d="M293.4,305.6h2.3M302.7,305.6h2.3" stroke="#fff" stroke-width="0.8"/>
<path fill="#6180b6" fill-opacity="0.4" d="M66.2,403.6L76.8,402.2L87.4,400.8L98.1,399.3L108.7,397.8L119.3,396.2L129.9,394.7L140.5,393.0L151.1,391.4L161.8,389.7L172.4,388.0L183.0,386.2L193.6,384.4L204.2,382.5L214.8,380.6L225.4,378.7L236.1,376.7L246.7,374.6L257.3,372.5L267.9,370.4L278.5,368.3L289.2,366.1L299.8,363.8L310.4,361.5L321.0,359.2L321.0,396.6L310.4,397.9L299.8,399.3L289.2,400.6L278.5,402.1L267.9,403.5L257.3,405.1L246.7,406.6L236.1,408.2L225.4,409.8L214.8,411.5L204.2,413.2L193.6,415.0L183.0,416.8L172.4,418.7L161.8,420.6L151.1,422.5L140.5,424.5L129.9,426.5L119.3,428.6L108.7,430.7L98.1,432.8L87.4,435.0L76.8,437.1L66.2,439.4Z"/>
<line x1="66.2" y1="421.5" x2="321" y2="377.9" stroke="#2f6fa8" stroke-width="2.6"/>
<rect x="54" y="266.2" width="280" height="216.40000000000003" fill="none" stroke="#333333" stroke-width="1.6"/>
<line x1="50.7" y1="266.3" x2="54" y2="266.3" stroke="#333333" stroke-width="1.3"/>
<text x="48.5" y="270.1" font-family="Liberation Sans, sans-serif" font-size="10.5" fill="#4d4d4d" text-anchor="end">600</text>
<line x1="50.7" y1="328.5" x2="54" y2="328.5" stroke="#333333" stroke-width="1.3"/>
<text x="48.5" y="332.2" font-family="Liberation Sans, sans-serif" font-size="10.5" fill="#4d4d4d" text-anchor="end">400</text>
<line x1="50.7" y1="390.7" x2="54" y2="390.7" stroke="#333333" stroke-width="1.3"/>
<text x="48.5" y="394.4" font-family="Liberation Sans, sans-serif" font-size="10.5" fill="#4d4d4d" text-anchor="end">200</text>
<line x1="50.7" y1="453.2" x2="54" y2="453.2" stroke="#333333" stroke-width="1.3"/>
<text x="48.5" y="456.9" font-family="Liberation Sans, sans-serif" font-size="10.5" fill="#4d4d4d" text-anchor="end">0</text>
<line x1="112.2" y1="482.6" x2="112.2" y2="486.1" stroke="#333333" stroke-width="1.3"/>
<text x="112.2" y="496.8" font-family="Liberation Sans, sans-serif" font-size="10.5" fill="#4d4d4d" text-anchor="middle">4</text>
<line x1="180" y1="482.6" x2="180" y2="486.1" stroke="#333333" stroke-width="1.3"/>
<text x="180" y="496.8" font-family="Liberation Sans, sans-serif" font-size="10.5" fill="#4d4d4d" text-anchor="middle">8</text>
<line x1="247.7" y1="482.6" x2="247.7" y2="486.1" stroke="#333333" stroke-width="1.3"/>
<text x="247.7" y="496.8" font-family="Liberation Sans, sans-serif" font-size="10.5" fill="#4d4d4d" text-anchor="middle">12</text>
<line x1="315.5" y1="482.6" x2="315.5" y2="486.1" stroke="#333333" stroke-width="1.3"/>
<text x="315.5" y="496.8" font-family="Liberation Sans, sans-serif" font-size="10.5" fill="#4d4d4d" text-anchor="middle">16</text>
<text x="194" y="515.6" font-family="Liberation Sans, sans-serif" font-size="16" fill="#000" text-anchor="middle">Diversity</text>
<text transform="translate(19.1,428.4) rotate(-90)" font-family="Liberation Sans, sans-serif" font-size="16" fill="#000">AGB</text>
<text transform="translate(19.1,390.1) rotate(-90)" font-family="Liberation Sans, sans-serif" font-size="16" fill="#000">(</text>
<text transform="translate(19.1,377.3) rotate(-90)" font-family="Liberation Sans, sans-serif" font-size="16" fill="#000">g</text>
<text transform="translate(19.1,360.6) rotate(-90)" font-family="Liberation Sans, sans-serif" font-size="16" fill="#000">m</text>
<text transform="translate(9.2,345.8) rotate(-90)" font-family="Liberation Sans, sans-serif" font-size="11.5" fill="#000">-2</text>
<text transform="translate(19.1,333.0) rotate(-90)" font-family="Liberation Sans, sans-serif" font-size="16" fill="#000">)</text>
<text x="-1" y="274.3" font-family="Liberation Sans, sans-serif" font-size="19" fill="#000">c)</text>
<text x="139.1" y="278.4" font-family="Liberation Sans, sans-serif" font-size="15.3" fill="#000" >AGB</text>
<text x="177.3" y="278.4" font-family="Liberation Sans, sans-serif" font-size="15.3" fill="#000" >~</text>
<text x="191.2" y="278.4" font-family="Liberation Sans, sans-serif" font-size="15.3" fill="#000" >Diversity</text>
<text x="255.7" y="278.4" font-family="Liberation Sans, sans-serif" font-size="15.3" fill="#000" font-style="italic">p</text>
<text x="269.7" y="278.4" font-family="Liberation Sans, sans-serif" font-size="15.3" fill="#000" >&lt;</text>
<text x="283.2" y="278.4" font-family="Liberation Sans, sans-serif" font-size="15.3" fill="#000" >0.01**</text>
<defs><linearGradient id="lge" x1="0" y1="1" x2="0" y2="0"><stop offset="0" stop-color="#6e92c3"/><stop offset="0.38" stop-color="#c79aa8"/><stop offset="0.6" stop-color="#f4a69b"/><stop offset="0.77" stop-color="#f2b794"/><stop offset="1" stop-color="#ebcb8e"/></linearGradient></defs>
<rect x="294.7" y="556.3" width="11.600000000000023" height="57.10000000000002" fill="url(#lge)"/>
<text x="313.9" y="559.4" font-family="Liberation Sans, sans-serif" font-size="10.3" fill="#1a1a1a">6</text>
<text x="313.9" y="572.8" font-family="Liberation Sans, sans-serif" font-size="10.3" fill="#1a1a1a">4</text>
<text x="313.9" y="594.7" font-family="Liberation Sans, sans-serif" font-size="10.3" fill="#1a1a1a">2</text>
<text x="313.9" y="617.0" font-family="Liberation Sans, sans-serif" font-size="10.3" fill="#1a1a1a">1</text>
<path fill="#6e93c3" d="M125.37,580.50L129.54,582.43L129.54,586.29L125.37,588.22L121.20,586.29L121.20,582.43ZM129.46,597.51L133.63,599.44L133.63,603.30L129.46,605.23L125.29,603.30L125.29,599.44ZM121.27,608.86L125.44,610.78L125.44,614.64L121.27,616.57L117.10,614.64L117.10,610.78ZM129.46,608.86L133.63,610.78L133.63,614.64L129.46,616.57L125.29,614.64L125.29,610.78ZM158.14,614.52L162.31,616.45L162.31,620.31L158.14,622.24L153.97,620.31L153.97,616.45ZM231.86,557.82L236.03,559.75L236.03,563.61L231.86,565.53L227.69,563.61L227.69,559.75ZM182.71,569.16L186.88,571.09L186.88,574.95L182.71,576.88L178.54,574.95L178.54,571.09ZM190.90,569.16L195.07,571.09L195.07,574.95L190.90,576.88L186.73,574.95L186.73,571.09ZM248.25,569.16L252.42,571.09L252.42,574.95L248.25,576.88L244.08,574.95L244.08,571.09ZM231.86,580.50L236.03,582.43L236.03,586.29L231.86,588.22L227.69,586.29L227.69,582.43ZM252.34,586.17L256.51,588.10L256.51,591.96L252.34,593.88L248.17,591.96L248.17,588.10ZM199.10,603.18L203.27,605.11L203.27,608.97L199.10,610.89L194.93,608.97L194.93,605.11ZM182.71,614.52L186.88,616.45L186.88,620.31L182.71,622.24L178.54,620.31L178.54,616.45ZM80.31,642.88L84.48,644.80L84.48,648.66L80.31,650.59L76.14,648.66L76.14,644.80ZM104.89,642.88L109.06,644.80L109.06,648.66L104.89,650.59L100.72,648.66L100.72,644.80ZM121.27,642.88L125.44,644.80L125.44,648.66L121.27,650.59L117.10,648.66L117.10,644.80ZM92.60,648.54L96.77,650.47L96.77,654.33L92.60,656.25L88.43,654.33L88.43,650.47ZM108.98,648.54L113.16,650.47L113.16,654.33L108.98,656.25L104.81,654.33L104.81,650.47ZM117.18,648.54L121.35,650.47L121.35,654.33L117.18,656.25L113.00,654.33L113.00,650.47ZM76.22,659.88L80.39,661.81L80.39,665.67L76.22,667.60L72.04,665.67L72.04,661.81ZM108.98,659.88L113.16,661.81L113.16,665.67L108.98,667.60L104.81,665.67L104.81,661.81ZM117.18,659.88L121.35,661.81L121.35,665.67L117.18,667.60L113.00,665.67L113.00,661.81ZM92.60,671.22L96.77,673.15L96.77,677.01L92.60,678.93L88.43,677.01L88.43,673.15ZM137.66,620.19L141.83,622.12L141.83,625.98L137.66,627.90L133.49,625.98L133.49,622.12ZM162.23,620.19L166.40,622.12L166.40,625.98L162.23,627.90L158.06,625.98L158.06,622.12ZM170.42,620.19L174.59,622.12L174.59,625.98L170.42,627.90L166.25,625.98L166.25,622.12ZM141.75,625.87L145.92,627.79L145.92,631.65L141.75,633.58L137.58,631.65L137.58,627.79ZM149.94,625.87L154.11,627.79L154.11,631.65L149.94,633.58L145.77,631.65L145.77,627.79ZM174.52,625.87L178.69,627.79L178.69,631.65L174.52,633.58L170.35,631.65L170.35,627.79ZM137.66,631.53L141.83,633.46L141.83,637.32L137.66,639.25L133.49,637.32L133.49,633.46ZM170.42,631.53L174.59,633.46L174.59,637.32L170.42,639.25L166.25,637.32L166.25,633.46ZM137.66,642.88L141.83,644.80L141.83,648.66L137.66,650.59L133.49,648.66L133.49,644.80ZM162.23,642.88L166.40,644.80L166.40,648.66L162.23,650.59L158.06,648.66L158.06,644.80ZM133.56,648.54L137.73,650.47L137.73,654.33L133.56,656.25L129.39,654.33L129.39,650.47ZM149.94,648.54L154.11,650.47L154.11,654.33L149.94,656.25L145.77,654.33L145.77,650.47ZM137.66,654.21L141.83,656.14L141.83,660.00L137.66,661.92L133.49,660.00L133.49,656.14ZM145.85,654.21L150.02,656.14L150.02,660.00L145.85,661.92L141.68,660.00L141.68,656.14ZM125.37,659.88L129.54,661.81L129.54,665.67L125.37,667.60L121.20,665.67L121.20,661.81ZM166.33,659.88L170.50,661.81L170.50,665.67L166.33,667.60L162.16,665.67L162.16,661.81ZM129.46,665.55L133.63,667.48L133.63,671.34L129.46,673.26L125.29,671.34L125.29,667.48ZM145.85,665.55L150.02,667.48L150.02,671.34L145.85,673.26L141.68,671.34L141.68,667.48ZM182.71,625.87L186.88,627.79L186.88,631.65L182.71,633.58L178.54,631.65L178.54,627.79ZM199.10,625.87L203.27,627.79L203.27,631.65L199.10,633.58L194.93,631.65L194.93,627.79ZM207.29,625.87L211.46,627.79L211.46,631.65L207.29,633.58L203.12,631.65L203.12,627.79ZM231.86,625.87L236.03,627.79L236.03,631.65L231.86,633.58L227.69,631.65L227.69,627.79ZM186.81,631.53L190.98,633.46L190.98,637.32L186.81,639.25L182.64,637.32L182.64,633.46ZM203.19,631.53L207.36,633.46L207.36,637.32L203.19,639.25L199.02,637.32L199.02,633.46ZM219.58,631.53L223.75,633.46L223.75,637.32L219.58,639.25L215.41,637.32L215.41,633.46ZM182.71,637.20L186.88,639.13L186.88,642.99L182.71,644.91L178.54,642.99L178.54,639.13ZM207.29,637.20L211.46,639.13L211.46,642.99L207.29,644.91L203.12,642.99L203.12,639.13ZM178.62,642.88L182.79,644.80L182.79,648.66L178.62,650.59L174.44,648.66L174.44,644.80ZM195.00,642.88L199.17,644.80L199.17,648.66L195.00,650.59L190.83,648.66L190.83,644.80ZM199.10,648.54L203.27,650.47L203.27,654.33L199.10,656.25L194.93,654.33L194.93,650.47ZM207.29,648.54L211.46,650.47L211.46,654.33L207.29,656.25L203.12,654.33L203.12,650.47ZM178.62,654.21L182.79,656.14L182.79,660.00L178.62,661.92L174.44,660.00L174.44,656.14ZM186.81,654.21L190.98,656.14L190.98,660.00L186.81,661.92L182.64,660.00L182.64,656.14ZM211.38,654.21L215.56,656.14L215.56,660.00L211.38,661.92L207.21,660.00L207.21,656.14ZM223.67,659.88L227.84,661.81L227.84,665.67L223.67,667.60L219.50,665.67L219.50,661.81ZM244.15,620.19L248.32,622.12L248.32,625.98L244.15,627.90L239.98,625.98L239.98,622.12ZM252.34,620.19L256.51,622.12L256.51,625.98L252.34,627.90L248.17,625.98L248.17,622.12ZM260.54,620.19L264.71,622.12L264.71,625.98L260.54,627.90L256.37,625.98L256.37,622.12ZM256.44,625.87L260.61,627.79L260.61,631.65L256.44,633.58L252.27,631.65L252.27,627.79ZM244.15,631.53L248.32,633.46L248.32,637.32L244.15,639.25L239.98,637.32L239.98,633.46ZM252.34,631.53L256.51,633.46L256.51,637.32L252.34,639.25L248.17,637.32L248.17,633.46ZM260.54,631.53L264.71,633.46L264.71,637.32L260.54,639.25L256.37,637.32L256.37,633.46ZM276.92,631.53L281.09,633.46L281.09,637.32L276.92,639.25L272.75,637.32L272.75,633.46ZM252.34,642.88L256.51,644.80L256.51,648.66L252.34,650.59L248.17,648.66L248.17,644.80ZM285.11,642.88L289.28,644.80L289.28,648.66L285.11,650.59L280.94,648.66L280.94,644.80ZM260.54,654.21L264.71,656.14L264.71,660.00L260.54,661.92L256.37,660.00L256.37,656.14ZM276.92,654.21L281.09,656.14L281.09,660.00L276.92,661.92L272.75,660.00L272.75,656.14ZM264.63,659.88L268.80,661.81L268.80,665.67L264.63,667.60L260.46,665.67L260.46,661.81ZM235.96,665.55L240.13,667.48L240.13,671.34L235.96,673.26L231.79,671.34L231.79,667.48ZM244.15,665.55L248.32,667.48L248.32,671.34L244.15,673.26L239.98,671.34L239.98,667.48ZM252.34,665.55L256.51,667.48L256.51,671.34L252.34,673.26L248.17,671.34L248.17,667.48ZM260.54,665.55L264.71,667.48L264.71,671.34L260.54,673.26L256.37,671.34L256.37,667.48ZM293.30,631.53L297.47,633.46L297.47,637.32L293.30,639.25L289.13,637.32L289.13,633.46ZM321.98,659.88L326.15,661.81L326.15,665.67L321.98,667.60L317.81,665.67L317.81,661.81ZM272.82,671.22L276.99,673.15L276.99,677.01L272.82,678.93L268.65,677.01L268.65,673.15ZM301.50,676.89L305.67,678.82L305.67,682.68L301.50,684.61L297.32,682.68L297.32,678.82ZM305.59,682.56L309.76,684.49L309.76,688.35L305.59,690.27L301.42,688.35L301.42,684.49ZM166.33,671.22L170.50,673.15L170.50,677.01L166.33,678.93L162.16,677.01L162.16,673.15ZM162.23,688.23L166.40,690.16L166.40,694.02L162.23,695.94L158.06,694.02L158.06,690.16ZM170.42,688.23L174.59,690.16L174.59,694.02L170.42,695.94L166.25,694.02L166.25,690.16ZM174.52,693.90L178.69,695.83L178.69,699.69L174.52,701.62L170.35,699.69L170.35,695.83ZM113.08,699.57L117.25,701.50L117.25,705.36L113.08,707.28L108.91,705.36L108.91,701.50ZM145.85,699.57L150.02,701.50L150.02,705.36L145.85,707.28L141.68,705.36L141.68,701.50ZM154.04,699.57L158.21,701.50L158.21,705.36L154.04,707.28L149.87,705.36L149.87,701.50ZM141.75,705.25L145.92,707.17L145.92,711.03L141.75,712.96L137.58,711.03L137.58,707.17ZM149.94,705.25L154.11,707.17L154.11,711.03L149.94,712.96L145.77,711.03L145.77,707.17ZM137.66,710.91L141.83,712.84L141.83,716.70L137.66,718.62L133.49,716.70L133.49,712.84ZM154.04,710.91L158.21,712.84L158.21,716.70L154.04,718.62L149.87,716.70L149.87,712.84ZM149.94,716.58L154.11,718.51L154.11,722.37L149.94,724.29L145.77,722.37L145.77,718.51ZM162.23,722.25L166.40,724.18L166.40,728.04L162.23,729.97L158.06,728.04L158.06,724.18ZM96.70,676.89L100.87,678.82L100.87,682.68L96.70,684.61L92.52,682.68L92.52,678.82ZM100.79,682.56L104.96,684.49L104.96,688.35L100.79,690.27L96.62,688.35L96.62,684.49ZM88.50,688.23L92.67,690.16L92.67,694.02L88.50,695.94L84.33,694.02L84.33,690.16ZM96.70,688.23L100.87,690.16L100.87,694.02L96.70,695.94L92.52,694.02L92.52,690.16ZM92.60,693.90L96.77,695.83L96.77,699.69L92.60,701.62L88.43,699.69L88.43,695.83ZM100.79,705.25L104.96,707.17L104.96,711.03L100.79,712.96L96.62,711.03L96.62,707.17ZM80.31,710.91L84.48,712.84L84.48,716.70L80.31,718.62L76.14,716.70L76.14,712.84ZM84.41,716.58L88.58,718.51L88.58,722.37L84.41,724.29L80.24,722.37L80.24,718.51ZM72.12,722.25L76.29,724.18L76.29,728.04L72.12,729.97L67.95,728.04L67.95,724.18ZM92.60,727.92L96.77,729.85L96.77,733.71L92.60,735.63L88.43,733.71L88.43,729.85ZM88.50,733.59L92.67,735.52L92.67,739.38L88.50,741.30L84.33,739.38L84.33,735.52ZM211.38,665.55L215.56,667.48L215.56,671.34L211.38,673.26L207.21,671.34L207.21,667.48ZM190.90,671.22L195.07,673.15L195.07,677.01L190.90,678.93L186.73,677.01L186.73,673.15ZM215.48,671.22L219.65,673.15L219.65,677.01L215.48,678.93L211.31,677.01L211.31,673.15ZM223.67,671.22L227.84,673.15L227.84,677.01L223.67,678.93L219.50,677.01L219.50,673.15ZM178.62,676.89L182.79,678.82L182.79,682.68L178.62,684.61L174.44,682.68L174.44,678.82ZM195.00,676.89L199.17,678.82L199.17,682.68L195.00,684.61L190.83,682.68L190.83,678.82ZM203.19,676.89L207.36,678.82L207.36,682.68L203.19,684.61L199.02,682.68L199.02,678.82ZM211.38,676.89L215.56,678.82L215.56,682.68L211.38,684.61L207.21,682.68L207.21,678.82ZM227.77,676.89L231.94,678.82L231.94,682.68L227.77,684.61L223.60,682.68L223.60,678.82ZM215.48,682.56L219.65,684.49L219.65,688.35L215.48,690.27L211.31,688.35L211.31,684.49ZM223.67,682.56L227.84,684.49L227.84,688.35L223.67,690.27L219.50,688.35L219.50,684.49ZM186.81,688.23L190.98,690.16L190.98,694.02L186.81,695.94L182.64,694.02L182.64,690.16ZM203.19,688.23L207.36,690.16L207.36,694.02L203.19,695.94L199.02,694.02L199.02,690.16ZM219.58,688.23L223.75,690.16L223.75,694.02L219.58,695.94L215.41,694.02L215.41,690.16ZM190.90,693.90L195.07,695.83L195.07,699.69L190.90,701.62L186.73,699.69L186.73,695.83ZM215.48,693.90L219.65,695.83L219.65,699.69L215.48,701.62L211.31,699.69L211.31,695.83ZM223.67,693.90L227.84,695.83L227.84,699.69L223.67,701.62L219.50,699.69L219.50,695.83ZM182.71,716.58L186.88,718.51L186.88,722.37L182.71,724.29L178.54,722.37L178.54,718.51ZM231.86,671.22L236.03,673.15L236.03,677.01L231.86,678.93L227.69,677.01L227.69,673.15ZM264.63,671.22L268.80,673.15L268.80,677.01L264.63,678.93L260.46,677.01L260.46,673.15ZM231.86,682.56L236.03,684.49L236.03,688.35L231.86,690.27L227.69,688.35L227.69,684.49ZM264.63,682.56L268.80,684.49L268.80,688.35L264.63,690.27L260.46,688.35L260.46,684.49ZM248.25,693.90L252.42,695.83L252.42,699.69L248.25,701.62L244.08,699.69L244.08,695.83ZM272.82,693.90L276.99,695.83L276.99,699.69L272.82,701.62L268.65,699.69L268.65,695.83ZM289.21,693.90L293.38,695.83L293.38,699.69L289.21,701.62L285.04,699.69L285.04,695.83ZM235.96,699.57L240.13,701.50L240.13,705.36L235.96,707.28L231.79,705.36L231.79,701.50ZM182.71,659.88L186.88,661.81L186.88,665.67L182.71,667.60L178.54,665.67L178.54,661.81Z"/>
<path fill="#f4aa98" d="M174.52,591.84L178.69,593.77L178.69,597.63L174.52,599.55L170.35,597.63L170.35,593.77ZM108.98,671.22L113.16,673.15L113.16,677.01L108.98,678.93L104.81,677.01L104.81,673.15ZM145.85,631.53L150.02,633.46L150.02,637.32L145.85,639.25L141.68,637.32L141.68,633.46ZM154.04,631.53L158.21,633.46L158.21,637.32L154.04,639.25L149.87,637.32L149.87,633.46ZM145.85,642.88L150.02,644.80L150.02,648.66L145.85,650.59L141.68,648.66L141.68,644.80ZM125.37,648.54L129.54,650.47L129.54,654.33L125.37,656.25L121.20,654.33L121.20,650.47ZM162.23,654.21L166.40,656.14L166.40,660.00L162.23,661.92L158.06,660.00L158.06,656.14ZM182.71,648.54L186.88,650.47L186.88,654.33L182.71,656.25L178.54,654.33L178.54,650.47ZM289.21,659.88L293.38,661.81L293.38,665.67L289.21,667.60L285.04,665.67L285.04,661.81ZM154.04,676.89L158.21,678.82L158.21,682.68L154.04,684.61L149.87,682.68L149.87,678.82ZM170.42,676.89L174.59,678.82L174.59,682.68L170.42,684.61L166.25,682.68L166.25,678.82ZM133.56,682.56L137.73,684.49L137.73,688.35L133.56,690.27L129.39,688.35L129.39,684.49ZM174.52,682.56L178.69,684.49L178.69,688.35L174.52,690.27L170.35,688.35L170.35,684.49ZM129.46,688.23L133.63,690.16L133.63,694.02L129.46,695.94L125.29,694.02L125.29,690.16ZM137.66,688.23L141.83,690.16L141.83,694.02L137.66,695.94L133.49,694.02L133.49,690.16ZM145.85,688.23L150.02,690.16L150.02,694.02L145.85,695.94L141.68,694.02L141.68,690.16ZM141.75,693.90L145.92,695.83L145.92,699.69L141.75,701.62L137.58,699.69L137.58,695.83ZM149.94,693.90L154.11,695.83L154.11,699.69L149.94,701.62L145.77,699.69L145.77,695.83ZM158.14,693.90L162.31,695.83L162.31,699.69L158.14,701.62L153.97,699.69L153.97,695.83ZM129.46,699.57L133.63,701.50L133.63,705.36L129.46,707.28L125.29,705.36L125.29,701.50ZM158.14,705.25L162.31,707.17L162.31,711.03L158.14,712.96L153.97,711.03L153.97,707.17ZM195.00,665.55L199.17,667.48L199.17,671.34L195.00,673.26L190.83,671.34L190.83,667.48ZM178.62,688.23L182.79,690.16L182.79,694.02L178.62,695.94L174.44,694.02L174.44,690.16ZM256.44,693.90L260.61,695.83L260.61,699.69L256.44,701.62L252.27,699.69L252.27,695.83ZM207.29,659.88L211.46,661.81L211.46,665.67L207.29,667.60L203.12,665.67L203.12,661.81Z"/>
<path fill="#cd9ea8" d="M174.52,614.52L178.69,616.45L178.69,620.31L174.52,622.24L170.35,620.31L170.35,616.45ZM121.27,654.21L125.44,656.14L125.44,660.00L121.27,661.92L117.10,660.00L117.10,656.14ZM145.85,620.19L150.02,622.12L150.02,625.98L145.85,627.90L141.68,625.98L141.68,622.12ZM125.37,625.87L129.54,627.79L129.54,631.65L125.37,633.58L121.20,631.65L121.20,627.79ZM125.37,637.20L129.54,639.13L129.54,642.99L125.37,644.91L121.20,642.99L121.20,639.13ZM166.33,637.20L170.50,639.13L170.50,642.99L166.33,644.91L162.16,642.99L162.16,639.13ZM129.46,642.88L133.63,644.80L133.63,648.66L129.46,650.59L125.29,648.66L125.29,644.80ZM154.04,642.88L158.21,644.80L158.21,648.66L154.04,650.59L149.87,648.66L149.87,644.80ZM166.33,648.54L170.50,650.47L170.50,654.33L166.33,656.25L162.16,654.33L162.16,650.47ZM149.94,659.88L154.11,661.81L154.11,665.67L149.94,667.60L145.77,665.67L145.77,661.81ZM137.66,665.55L141.83,667.48L141.83,671.34L137.66,673.26L133.49,671.34L133.49,667.48ZM190.90,625.87L195.07,627.79L195.07,631.65L190.90,633.58L186.73,631.65L186.73,627.79ZM186.81,642.88L190.98,644.80L190.98,648.66L186.81,650.59L182.64,648.66L182.64,644.80ZM203.19,642.88L207.36,644.80L207.36,648.66L203.19,650.59L199.02,648.66L199.02,644.80ZM215.48,648.54L219.65,650.47L219.65,654.33L215.48,656.25L211.31,654.33L211.31,650.47ZM195.00,654.21L199.17,656.14L199.17,660.00L195.00,661.92L190.83,660.00L190.83,656.14ZM240.06,625.87L244.23,627.79L244.23,631.65L240.06,633.58L235.89,631.65L235.89,627.79ZM248.25,625.87L252.42,627.79L252.42,631.65L248.25,633.58L244.08,631.65L244.08,627.79ZM268.73,631.53L272.90,633.46L272.90,637.32L268.73,639.25L264.56,637.32L264.56,633.46ZM240.06,648.54L244.23,650.47L244.23,654.33L240.06,656.25L235.89,654.33L235.89,650.47ZM272.82,648.54L276.99,650.47L276.99,654.33L272.82,656.25L268.65,654.33L268.65,650.47ZM235.96,654.21L240.13,656.14L240.13,660.00L235.96,661.92L231.79,660.00L231.79,656.14ZM256.44,659.88L260.61,661.81L260.61,665.67L256.44,667.60L252.27,665.67L252.27,661.81ZM121.27,665.55L125.44,667.48L125.44,671.34L121.27,673.26L117.10,671.34L117.10,667.48ZM154.04,665.55L158.21,667.48L158.21,671.34L154.04,673.26L149.87,671.34L149.87,667.48ZM170.42,665.55L174.59,667.48L174.59,671.34L170.42,673.26L166.25,671.34L166.25,667.48ZM125.37,671.22L129.54,673.15L129.54,677.01L125.37,678.93L121.20,677.01L121.20,673.15ZM141.75,671.22L145.92,673.15L145.92,677.01L141.75,678.93L137.58,677.01L137.58,673.15ZM149.94,671.22L154.11,673.15L154.11,677.01L149.94,678.93L145.77,677.01L145.77,673.15ZM158.14,671.22L162.31,673.15L162.31,677.01L158.14,678.93L153.97,677.01L153.97,673.15ZM129.46,676.89L133.63,678.82L133.63,682.68L129.46,684.61L125.29,682.68L125.29,678.82ZM137.66,676.89L141.83,678.82L141.83,682.68L137.66,684.61L133.49,682.68L133.49,678.82ZM145.85,676.89L150.02,678.82L150.02,682.68L145.85,684.61L141.68,682.68L141.68,678.82ZM166.33,682.56L170.50,684.49L170.50,688.35L166.33,690.27L162.16,688.35L162.16,684.49ZM113.08,688.23L117.25,690.16L117.25,694.02L113.08,695.94L108.91,694.02L108.91,690.16ZM125.37,693.90L129.54,695.83L129.54,699.69L125.37,701.62L121.20,699.69L121.20,695.83ZM133.56,693.90L137.73,695.83L137.73,699.69L133.56,701.62L129.39,699.69L129.39,695.83ZM166.33,693.90L170.50,695.83L170.50,699.69L166.33,701.62L162.16,699.69L162.16,695.83ZM108.98,682.56L113.16,684.49L113.16,688.35L108.98,690.27L104.81,688.35L104.81,684.49ZM104.89,688.23L109.06,690.16L109.06,694.02L104.89,695.94L100.72,694.02L100.72,690.16ZM100.79,693.90L104.96,695.83L104.96,699.69L100.79,701.62L96.62,699.69L96.62,695.83ZM178.62,665.55L182.79,667.48L182.79,671.34L178.62,673.26L174.44,671.34L174.44,667.48ZM186.81,665.55L190.98,667.48L190.98,671.34L186.81,673.26L182.64,671.34L182.64,667.48ZM203.19,665.55L207.36,667.48L207.36,671.34L203.19,673.26L199.02,671.34L199.02,667.48ZM219.58,665.55L223.75,667.48L223.75,671.34L219.58,673.26L215.41,671.34L215.41,667.48ZM182.71,671.22L186.88,673.15L186.88,677.01L182.71,678.93L178.54,677.01L178.54,673.15ZM190.90,682.56L195.07,684.49L195.07,688.35L190.90,690.27L186.73,688.35L186.73,684.49ZM207.29,693.90L211.46,695.83L211.46,699.69L207.29,701.62L203.12,699.69L203.12,695.83ZM240.06,682.56L244.23,684.49L244.23,688.35L240.06,690.27L235.89,688.35L235.89,684.49ZM235.96,688.23L240.13,690.16L240.13,694.02L235.96,695.94L231.79,694.02L231.79,690.16ZM285.11,688.23L289.28,690.16L289.28,694.02L285.11,695.94L280.94,694.02L280.94,690.16ZM190.90,659.88L195.07,661.81L195.07,665.67L190.90,667.60L186.73,665.67L186.73,661.81ZM219.58,654.21L223.75,656.14L223.75,660.00L219.58,661.92L215.41,660.00L215.41,656.14Z"/>
<path fill="#f3b58c" d="M121.27,631.53L125.44,633.46L125.44,637.32L121.27,639.25L117.10,637.32L117.10,633.46ZM158.14,625.87L162.31,627.79L162.31,631.65L158.14,633.58L153.97,631.65L153.97,627.79ZM174.52,637.20L178.69,639.13L178.69,642.99L174.52,644.91L170.35,642.99L170.35,639.13ZM170.42,642.88L174.59,644.80L174.59,648.66L170.42,650.59L166.25,648.66L166.25,644.80ZM174.52,648.54L178.69,650.47L178.69,654.33L174.52,656.25L170.35,654.33L170.35,650.47ZM154.04,654.21L158.21,656.14L158.21,660.00L154.04,661.92L149.87,660.00L149.87,656.14ZM190.90,637.20L195.07,639.13L195.07,642.99L190.90,644.91L186.73,642.99L186.73,639.13ZM125.37,682.56L129.54,684.49L129.54,688.35L125.37,690.27L121.20,688.35L121.20,684.49ZM149.94,682.56L154.11,684.49L154.11,688.35L149.94,690.27L145.77,688.35L145.77,684.49ZM121.27,699.57L125.44,701.50L125.44,705.36L121.27,707.28L117.10,705.36L117.10,701.50ZM137.66,699.57L141.83,701.50L141.83,705.36L137.66,707.28L133.49,705.36L133.49,701.50Z"/>
<path fill="#edc393" d="M141.75,637.20L145.92,639.13L145.92,642.99L141.75,644.91L137.58,642.99L137.58,639.13ZM158.14,637.20L162.31,639.13L162.31,642.99L158.14,644.91L153.97,642.99L153.97,639.13ZM158.14,648.54L162.31,650.47L162.31,654.33L158.14,656.25L153.97,654.33L153.97,650.47ZM141.75,659.88L145.92,661.81L145.92,665.67L141.75,667.60L137.58,665.67L137.58,661.81ZM174.52,659.88L178.69,661.81L178.69,665.67L174.52,667.60L170.35,665.67L170.35,661.81ZM190.90,648.54L195.07,650.47L195.07,654.33L190.90,656.25L186.73,654.33L186.73,650.47ZM162.23,665.55L166.40,667.48L166.40,671.34L162.23,673.26L158.06,671.34L158.06,667.48ZM158.14,682.56L162.31,684.49L162.31,688.35L158.14,690.27L153.97,688.35L153.97,684.49ZM154.04,688.23L158.21,690.16L158.21,694.02L154.04,695.94L149.87,694.02L149.87,690.16ZM186.81,676.89L190.98,678.82L190.98,682.68L186.81,684.61L182.64,682.68L182.64,678.82Z"/>
<path fill="#78787c" d="M170.42,654.21L174.59,656.14L174.59,660.00L170.42,661.92L166.25,660.00L166.25,656.14ZM158.14,659.88L162.31,661.81L162.31,665.67L158.14,667.60L153.97,665.67L153.97,661.81ZM141.75,682.56L145.92,684.49L145.92,688.35L141.75,690.27L137.58,688.35L137.58,684.49ZM108.98,693.90L113.16,695.83L113.16,699.69L108.98,701.62L104.81,699.69L104.81,695.83Z"/>
<path fill="#eed592" d="M121.27,688.23L125.44,690.16L125.44,694.02L121.27,695.94L117.10,694.02L117.10,690.16Z"/>
<path d="M294.7,591.7h2.3M304.0,591.7h2.3" stroke="#fff" stroke-width="0.8"/>
<path d="M294.7,570.0h2.3M304.0,570.0h2.3" stroke="#fff" stroke-width="0.8"/>
<path fill="#6180b6" fill-opacity="0.4" d="M73.3,668.5L83.5,667.6L93.8,666.7L104.0,665.7L114.3,664.7L124.5,663.7L134.8,662.6L145.0,661.4L155.2,660.3L165.5,659.0L175.7,657.7L186.0,656.3L196.2,654.8L206.4,653.3L216.7,651.7L226.9,649.9L237.2,648.2L247.4,646.3L257.7,644.4L267.9,642.5L278.1,640.5L288.4,638.4L298.6,636.4L308.9,634.3L319.1,632.2L319.1,658.6L308.9,659.4L298.6,660.2L288.4,661.1L278.1,662.0L267.9,662.9L257.7,663.8L247.4,664.8L237.2,665.9L226.9,667.0L216.7,668.2L206.4,669.5L196.2,670.9L186.0,672.3L175.7,673.8L165.5,675.4L155.2,677.1L145.0,678.8L134.8,680.6L124.5,682.4L114.3,684.3L104.0,686.2L93.8,688.1L83.5,690.1L73.3,692.1Z"/>
<line x1="73.3" y1="680.3" x2="319.1" y2="645.4" stroke="#2f6fa8" stroke-width="2.6"/>
<rect x="60.2" y="530.5" width="274.6" height="216.5" fill="none" stroke="#333333" stroke-width="1.6"/>
<line x1="56.900000000000006" y1="542.8" x2="60.2" y2="542.8" stroke="#333333" stroke-width="1.3"/>
<text x="54.7" y="546.5" font-family="Liberation Sans, sans-serif" font-size="10.5" fill="#4d4d4d" text-anchor="end">5000</text>
<line x1="56.900000000000006" y1="581.5" x2="60.2" y2="581.5" stroke="#333333" stroke-width="1.3"/>
<text x="54.7" y="585.2" font-family="Liberation Sans, sans-serif" font-size="10.5" fill="#4d4d4d" text-anchor="end">4000</text>
<line x1="56.900000000000006" y1="620.1" x2="60.2" y2="620.1" stroke="#333333" stroke-width="1.3"/>
<text x="54.7" y="623.9" font-family="Liberation Sans, sans-serif" font-size="10.5" fill="#4d4d4d" text-anchor="end">3000</text>
<line x1="56.900000000000006" y1="658.8" x2="60.2" y2="658.8" stroke="#333333" stroke-width="1.3"/>
<text x="54.7" y="662.5" font-family="Liberation Sans, sans-serif" font-size="10.5" fill="#4d4d4d" text-anchor="end">2000</text>
<line x1="56.900000000000006" y1="697.4" x2="60.2" y2="697.4" stroke="#333333" stroke-width="1.3"/>
<text x="54.7" y="701.1" font-family="Liberation Sans, sans-serif" font-size="10.5" fill="#4d4d4d" text-anchor="end">1000</text>
<line x1="56.900000000000006" y1="736.1" x2="60.2" y2="736.1" stroke="#333333" stroke-width="1.3"/>
<text x="54.7" y="739.9" font-family="Liberation Sans, sans-serif" font-size="10.5" fill="#4d4d4d" text-anchor="end">0</text>
<line x1="117.5" y1="747" x2="117.5" y2="750.5" stroke="#333333" stroke-width="1.3"/>
<text x="117.5" y="761.2" font-family="Liberation Sans, sans-serif" font-size="10.5" fill="#4d4d4d" text-anchor="middle">4</text>
<line x1="183.4" y1="747" x2="183.4" y2="750.5" stroke="#333333" stroke-width="1.3"/>
<text x="183.4" y="761.2" font-family="Liberation Sans, sans-serif" font-size="10.5" fill="#4d4d4d" text-anchor="middle">8</text>
<line x1="249" y1="747" x2="249" y2="750.5" stroke="#333333" stroke-width="1.3"/>
<text x="249" y="761.2" font-family="Liberation Sans, sans-serif" font-size="10.5" fill="#4d4d4d" text-anchor="middle">12</text>
<line x1="314.2" y1="747" x2="314.2" y2="750.5" stroke="#333333" stroke-width="1.3"/>
<text x="314.2" y="761.2" font-family="Liberation Sans, sans-serif" font-size="10.5" fill="#4d4d4d" text-anchor="middle">16</text>
<text x="197.5" y="779.8" font-family="Liberation Sans, sans-serif" font-size="16" fill="#000" text-anchor="middle">Diversity</text>
<text transform="translate(20.4,692.0) rotate(-90)" font-family="Liberation Sans, sans-serif" font-size="16" fill="#000">BGB</text>
<text transform="translate(20.4,654.5) rotate(-90)" font-family="Liberation Sans, sans-serif" font-size="16" fill="#000">(</text>
<text transform="translate(20.4,641.4) rotate(-90)" font-family="Liberation Sans, sans-serif" font-size="16" fill="#000">g</text>
<text transform="translate(20.4,626.3) rotate(-90)" font-family="Liberation Sans, sans-serif" font-size="16" fill="#000">m</text>
<text transform="translate(10.7,610.8) rotate(-90)" font-family="Liberation Sans, sans-serif" font-size="11.5" fill="#000">-2</text>
<text transform="translate(20.4,597.6) rotate(-90)" font-family="Liberation Sans, sans-serif" font-size="16" fill="#000">)</text>
<text x="-1" y="522.6" font-family="Liberation Sans, sans-serif" font-size="19" fill="#000">e)</text>
<text x="141.6" y="542.9" font-family="Liberation Sans, sans-serif" font-size="15.3" fill="#000" >BGB</text>
<text x="178.8" y="542.9" font-family="Liberation Sans, sans-serif" font-size="15.3" fill="#000" >~</text>
<text x="192.7" y="542.9" font-family="Liberation Sans, sans-serif" font-size="15.3" fill="#000" >Diversity</text>
<text x="257.5" y="542.9" font-family="Liberation Sans, sans-serif" font-size="15.3" fill="#000" font-style="italic">p</text>
<text x="272.6" y="542.9" font-family="Liberation Sans, sans-serif" font-size="15.3" fill="#000" >&lt;</text>
<text x="286.2" y="542.9" font-family="Liberation Sans, sans-serif" font-size="15.3" fill="#000" >0.01**</text>
<g transform="translate(468.2,115.6)">
<defs><clipPath id="mcb"><circle r="101.8"/></clipPath></defs>
<g clip-path="url(#mcb)">
<path fill="#e6e6e6" d="M-97.0,-36.0L-95.8,-39.6L-88.0,-43.0L-80.0,-46.0L-74.0,-45.0L-68.0,-44.4L-57.0,-43.0L-48.0,-44.0L-41.0,-43.0L-31.5,-47.3L-26.3,-54.3L-21.0,-61.3L-17.0,-64.5L-15.8,-64.8L-14.0,-59.6L-8.8,-56.1L-3.5,-54.3L-1.0,-52.0L-3.5,-49.0L-8.8,-46.4L-13.1,-44.7L-12.3,-39.4L-15.8,-35.0L-21.0,-31.5L-26.3,-26.3L-28.9,-22.8L-33.3,-19.3L-36.8,-14.0L-40.3,-8.8L-43.8,-3.5L-49.0,1.8L-50.8,7.0L-50.8,20.0L-110.0,20.0L-110.0,-36.0Z"/>
<path fill="#e6e6e6" d="M1.0,-52.0L5.3,-52.6L14.0,-52.6L15.7,-58.5L20.5,-62.5L28.5,-66.5L39.7,-68.1L47.8,-68.1L54.2,-69.7L59.0,-71.3L63.8,-68.9L70.3,-64.9L73.5,-63.3L75.1,-58.5L81.5,-52.0L87.9,-52.0L95.0,-50.0L110.0,-50.0L110.0,110.0L18.0,110.0L18.0,18.0L30.0,17.0L43.4,14.2L38.4,7.6L31.8,0.9L28.0,-5.0L26.8,-12.3L24.5,-17.5L21.8,-25.6L16.6,-27.3L14.0,-33.3L12.3,-38.5L8.8,-40.3L5.3,-47.3L1.8,-50.8L1.0,-52.0Z"/>
<path fill="#fff" stroke="#000" stroke-width="0.7" d="M16.0,-50.0L20.0,-56.0L26.0,-62.0L30.0,-65.5L36.0,-66.8L42.0,-66.0L44.5,-60.0L43.0,-53.0L40.0,-48.5L32.0,-47.5L25.0,-50.0Z"/>
<path fill="#fff" stroke="#000" stroke-width="0.7" d="M47.8,-67.3L49.3,-67.7L51.4,-68.6L52.3,-69.2L53.7,-69.7L55.4,-69.6L58.0,-69.8L59.0,-70.5L60.3,-69.9L62.1,-69.3L62.7,-68.0L64.8,-68.2L65.5,-67.5L68.0,-66.8L69.0,-65.0L70.3,-64.9L70.1,-63.2L71.1,-60.8L71.1,-59.8L71.9,-57.7L70.0,-58.1L68.9,-57.0L67.0,-57.8L65.7,-56.8L63.8,-56.9L62.4,-57.2L61.0,-57.0L59.1,-57.2L57.1,-57.4L56.2,-57.3L54.0,-57.2L52.6,-57.7L51.4,-59.3L49.0,-60.2L47.8,-60.9L47.2,-62.2L48.0,-64.0L48.4,-65.9L47.8,-67.3Z"/>
<ellipse cx="23" cy="-57" rx="8.5" ry="2.2" transform="rotate(-52 23 -57)" fill="#e6e6e6" stroke="#000" stroke-width="0.6"/>
<path fill="#fff" stroke="#000" stroke-width="0.8" d="M39.1,66.0L40.0,65.4L41.2,65.0L42.7,63.5L44.0,63.0L46.1,63.1L47.6,62.5L48.0,61.7L50.0,61.5L51.1,62.1L52.2,62.2L54.0,61.6L56.0,62.0L56.5,63.8L56.5,65.0L55.0,65.8L53.6,66.5L52.0,67.0L50.1,67.2L48.7,68.1L47.9,68.1L47.0,69.0L45.9,71.0L44.9,72.1L45.4,72.3L44.0,74.0L43.2,73.8L41.6,74.1L40.0,75.0L39.2,73.7L38.8,72.9L38.5,71.0L38.9,68.6L39.0,67.0L39.1,66.0Z"/>
<path fill="#fff" stroke="#000" stroke-width="0.8" d="M22.8,78.7L24.2,78.7L26.1,78.1L26.7,78.6L28.4,77.9L29.6,77.7L30.7,78.1L33.2,78.0L34.0,77.6L35.5,78.1L36.4,78.6L38.2,79.6L39.1,80.7L40.1,81.0L41.6,80.6L43.4,79.8L44.8,78.4L46.0,78.5L47.6,77.7L48.4,77.1L49.1,77.1L50.3,76.8L52.4,76.6L53.7,76.0L53.7,73.2L54.5,72.5L54.8,73.2L55.0,75.4L56.2,75.9L56.5,77.8L56.8,78.7L57.5,80.7L57.0,82.0L55.6,82.0L54.8,83.5L53.4,83.8L52.7,84.3L50.2,85.0L49.4,85.8L48.7,85.6L47.1,87.1L45.9,86.7L43.9,87.7L43.0,87.9L40.8,87.9L40.0,88.0L38.9,88.1L36.5,89.5L35.6,89.3L34.0,89.9L32.6,89.8L30.8,89.8L29.6,90.1L29.0,91.7L27.1,90.6L25.8,90.9L24.0,91.1L22.8,92.0L22.8,90.0L22.4,88.9L22.7,88.7L22.9,87.1L23.2,85.4L22.1,83.3L22.2,82.7L22.5,82.0L22.3,79.4L22.8,78.7Z"/>
<path fill="#fff" stroke="#000" stroke-width="0.8" d="M72.9,64.5L75.0,63.1L76.4,62.4L77.0,62.0L78.6,62.4L80.1,61.5L82.0,61.3L81.0,63.5L79.2,64.9L79.3,64.2L76.6,65.3L76.0,66.0L73.5,66.4L72.9,64.5Z"/>
<path fill="#fff" stroke="#000" stroke-width="0.8" d="M-66.0,-2.0L-64.9,-3.1L-62.9,-3.5L-63.1,-3.9L-61.9,-5.5L-60.0,-5.8L-59.3,-5.5L-56.8,-5.4L-56.4,-4.8L-54.1,-5.5L-53.7,-4.9L-52.0,-5.0L-50.2,-3.1L-49.4,-2.2L-49.4,-1.1L-48.0,0.0L-48.3,1.6L-48.4,2.2L-47.9,3.3L-48.9,5.1L-48.1,6.1L-49.0,8.0L-50.2,8.7L-51.4,8.7L-53.1,7.9L-54.4,7.8L-55.8,7.3L-56.1,8.4L-57.9,8.1L-59.9,7.6L-60.0,8.5L-62.1,8.4L-62.7,7.3L-64.9,7.8L-66.0,8.0L-66.3,6.6L-66.3,4.5L-65.4,3.6L-65.5,1.7L-66.3,0.8L-66.7,-0.7L-66.0,-2.0Z"/>
<path fill="none" stroke="#000" stroke-width="0.9" d="M22.5,44.0L24.1,44.5L23.7,45.2L24.5,47.0L26.1,47.2L25.9,49.2L26.0,50.0L27.0,50.8L26.7,51.8L27.5,53.0L26.9,53.6L27.7,55.6L28.5,56.0L27.9,56.1L26.5,57.7L27.0,59.0L27.1,58.6L24.9,60.9L24.0,61.0"/>
<clipPath id="dcb"><path d="M59.7,-45.4L60.9,-45.2L64.2,-46.0L65.2,-45.5L68.0,-46.5L71.0,-46.2L72.5,-46.6L73.4,-46.0L76.9,-45.4L78.8,-45.1L81.1,-43.2L81.4,-42.3L83.8,-39.7L86.5,-37.7L87.5,-36.6L86.7,-36.0L89.3,-35.2L90.7,-32.8L92.9,-31.5L91.8,-28.7L92.7,-26.8L94.5,-26.1L95.2,-24.6L95.8,-24.1L97.6,-21.3L98.9,-20.1L99.1,-18.2L100.0,-14.5L99.8,-13.0L99.7,-11.1L99.9,-9.8L98.9,-8.0L100.8,-6.8L101.0,-3.1L99.7,-2.6L99.8,-0.6L99.9,1.6L100.4,3.2L97.1,4.4L98.2,8.6L96.8,9.2L96.2,11.8L95.3,13.1L93.2,14.8L92.7,16.2L90.3,16.4L89.4,19.7L88.4,20.0L86.4,21.2L84.7,20.8L82.4,23.6L82.6,23.4L80.3,24.6L80.6,26.9L80.9,29.5L79.4,31.4L80.6,32.2L79.2,33.8L79.7,35.6L78.0,36.8L78.8,38.4L76.2,42.0L76.9,43.0L77.2,44.8L76.9,45.5L74.9,47.9L74.9,49.4L74.6,52.1L71.8,52.8L72.2,55.7L70.1,55.5L67.7,56.7L65.5,58.8L64.6,59.2L63.0,59.5L59.8,58.8L60.0,60.3L58.1,59.8L55.0,59.7L54.1,59.0L51.3,58.9L49.3,59.5L48.2,56.7L49.1,53.6L49.1,54.2L47.6,51.5L49.5,50.3L49.3,47.6L50.0,45.0L50.1,44.8L51.9,40.7L50.2,38.7L50.6,37.6L51.4,36.7L52.8,33.8L53.8,31.0L54.2,29.8L54.7,27.7L54.5,25.8L55.6,25.4L56.7,21.9L57.8,22.2L58.6,20.2L58.5,17.7L57.9,15.8L58.7,14.8L59.6,12.9L60.4,11.1L61.2,7.6L62.1,6.5L64.1,4.6L63.7,3.5L64.3,1.6L65.2,-1.3L64.1,-2.0L64.2,-2.7L62.9,-5.2L63.2,-7.4L61.8,-8.6L63.9,-11.6L62.0,-11.8L61.2,-16.0L62.0,-16.7L59.9,-17.4L60.7,-19.9L59.4,-22.5L58.5,-23.0L57.2,-24.7L56.2,-25.9L57.1,-28.3L57.3,-29.5L59.0,-30.5L60.8,-32.8L61.2,-34.0L59.8,-37.1L59.2,-38.2L59.0,-40.0L59.6,-40.6L58.4,-43.7L59.7,-45.4Z"/><path d="M44.0,-63.0L48.0,-63.5L52.0,-57.0L58.0,-51.0L63.0,-46.5L59.7,-45.4L54.0,-47.0L48.0,-53.0L44.0,-59.0Z"/><path d="M80.0,27.0L88.0,27.0L88.5,38.0L81.0,38.0Z"/><path d="M55.0,62.0L62.0,62.0L62.0,68.0L55.0,68.0Z"/><path d="M28.4,68.9L34.0,68.9L34.0,74.0L28.4,74.0Z"/><path d="M31.0,16.0L36.0,16.0L36.0,22.5L31.0,22.5Z"/><path d="M-87.0,-49.0L-80.0,-50.0L-68.0,-47.0L-68.0,-40.0L-80.0,-38.0L-87.0,-40.0Z"/><path d="M-94.5,-42.0L-88.0,-42.0L-89.0,-29.0L-93.5,-29.0Z"/><path d="M-19.0,-68.0L-14.0,-68.0L-14.0,-62.5L-19.0,-62.5Z"/></clipPath>
<filter id="nzb0" x="-100" y="-80" width="200" height="160" filterUnits="userSpaceOnUse" color-interpolation-filters="sRGB"><feTurbulence type="fractalNoise" baseFrequency="0.2 0.12" numOctaves="2" seed="10"/><feColorMatrix type="matrix" values="1 0 0 0 0 1 0 0 0 0 1 0 0 0 0 0 0 0 0 1"/><feComponentTransfer><feFuncR type="table" tableValues="0.761 0.761 0.761 0.761 0.761 0.761 0.929 0.929 0.929 0.929 0.824 0.824 0.824 0.824 0.824 0.824 0.824 0.824 0.824 0.824 0.824 0.824 0.824 0.824 0.824"/><feFuncG type="table" tableValues="0.443 0.443 0.443 0.443 0.443 0.443 0.627 0.627 0.627 0.627 0.702 0.702 0.702 0.702 0.702 0.702 0.702 0.702 0.702 0.702 0.702 0.702 0.702 0.702 0.702"/><feFuncB type="table" tableValues="0.247 0.247 0.247 0.247 0.247 0.247 0.404 0.404 0.404 0.404 0.620 0.620 0.620 0.620 0.620 0.620 0.620 0.620 0.620 0.620 0.620 0.620 0.620 0.620 0.620"/></feComponentTransfer></filter>
<clipPath id="zcb0"><path d="M65.9,-46.5L57.6,-45.0L57.5,-43.5L57.3,-42.0L57.1,-40.5L57.3,-39.0L57.6,-37.5L58.0,-36.0L58.4,-34.5L58.8,-33.0L57.9,-31.5L56.9,-30.0L55.9,-28.5L54.9,-27.0L54.5,-25.5L55.4,-24.0L56.3,-22.5L57.3,-21.0L58.2,-19.5L59.2,-18.0L60.0,-16.5L60.2,-15.0L60.4,-13.5L60.6,-12.0L60.8,-10.5L61.0,-9.0L61.2,-7.5L61.3,-6.0L61.5,-4.5L61.7,-3.0L61.9,-1.5L62.1,0.0L62.3,1.5L61.8,3.0L61.3,4.5L60.7,6.0L60.2,7.5L59.6,9.0L59.1,10.5L58.5,12.0L58.0,13.5L57.5,15.0L56.9,16.5L56.4,18.0L55.9,19.5L55.3,21.0L54.8,22.5L54.3,24.0L53.7,25.5L53.2,27.0L52.7,28.5L52.1,30.0L51.6,31.5L51.1,33.0L50.6,34.5L50.2,36.0L49.9,37.5L49.5,39.0L49.1,40.5L48.7,42.0L48.3,43.5L48.0,45.0L47.6,46.5L47.3,48.0L47.1,49.5L46.9,51.0L46.7,52.5L46.5,54.0L46.3,55.5L46.3,57.0L46.9,58.5L47.3,59.5L53.1,59.5L53.3,58.5L53.6,57.0L54.3,55.5L55.0,54.0L55.8,52.5L56.2,51.0L56.4,49.5L56.6,48.0L57.0,46.5L57.4,45.0L57.7,43.5L58.1,42.0L58.5,40.5L58.9,39.0L59.3,37.5L59.6,36.0L60.0,34.5L60.4,33.0L60.9,31.5L61.3,30.0L61.7,28.5L62.2,27.0L62.6,25.5L63.3,24.0L64.4,22.5L65.5,21.0L66.5,19.5L67.4,18.0L68.2,16.5L69.0,15.0L69.8,13.5L70.4,12.0L71.0,10.5L71.5,9.0L72.1,7.5L72.6,6.0L73.2,4.5L73.7,3.0L74.3,1.5L74.1,0.0L74.0,-1.5L73.9,-3.0L73.7,-4.5L73.6,-6.0L73.4,-7.5L73.3,-9.0L73.1,-10.5L72.9,-12.0L72.7,-13.5L72.5,-15.0L72.3,-16.5L71.6,-18.0L70.8,-19.5L70.0,-21.0L69.1,-22.5L68.2,-24.0L67.3,-25.5L67.4,-27.0L67.8,-28.5L68.3,-30.0L68.8,-31.5L69.1,-33.0L68.4,-34.5L67.7,-36.0L67.0,-37.5L66.3,-39.0L65.7,-40.5L65.4,-42.0L65.0,-43.5L64.6,-45.0L68.0,-46.5Z"/></clipPath>
<g clip-path="url(#dcb)"><g clip-path="url(#zcb0)"><rect x="40" y="-75" width="62" height="150" filter="url(#nzb0)"/></g></g>
<filter id="nzb1" x="-100" y="-80" width="200" height="160" filterUnits="userSpaceOnUse" color-interpolation-filters="sRGB"><feTurbulence type="fractalNoise" baseFrequency="0.2 0.12" numOctaves="2" seed="10"/><feColorMatrix type="matrix" values="1 0 0 0 0 1 0 0 0 0 1 0 0 0 0 0 0 0 0 1"/><feComponentTransfer><feFuncR type="table" tableValues="0.557 0.557 0.557 0.557 0.557 0.557 0.557 0.557 0.761 0.761 0.929 0.929 0.929 0.824 0.824 0.824 0.824 0.824 0.824 0.824 0.824 0.824 0.824 0.824 0.824"/><feFuncG type="table" tableValues="0.290 0.290 0.290 0.290 0.290 0.290 0.290 0.290 0.443 0.443 0.627 0.627 0.627 0.702 0.702 0.702 0.702 0.702 0.702 0.702 0.702 0.702 0.702 0.702 0.702"/><feFuncB type="table" tableValues="0.188 0.188 0.188 0.188 0.188 0.188 0.188 0.188 0.247 0.247 0.404 0.404 0.404 0.620 0.620 0.620 0.620 0.620 0.620 0.620 0.620 0.620 0.620 0.620 0.620"/></feComponentTransfer></filter>
<clipPath id="zcb1"><path d="M68.0,-46.5L64.6,-45.0L65.0,-43.5L65.4,-42.0L65.7,-40.5L66.3,-39.0L67.0,-37.5L67.7,-36.0L68.4,-34.5L69.1,-33.0L68.8,-31.5L68.3,-30.0L67.8,-28.5L67.4,-27.0L67.3,-25.5L68.2,-24.0L69.1,-22.5L70.0,-21.0L70.8,-19.5L71.6,-18.0L72.3,-16.5L72.5,-15.0L72.7,-13.5L72.9,-12.0L73.1,-10.5L73.3,-9.0L73.4,-7.5L73.6,-6.0L73.7,-4.5L73.9,-3.0L74.0,-1.5L74.1,0.0L74.3,1.5L73.7,3.0L73.2,4.5L72.6,6.0L72.1,7.5L71.5,9.0L71.0,10.5L70.4,12.0L69.8,13.5L69.0,15.0L68.2,16.5L67.4,18.0L66.5,19.5L65.5,21.0L64.4,22.5L63.3,24.0L62.6,25.5L62.2,27.0L61.7,28.5L61.3,30.0L60.9,31.5L60.4,33.0L60.0,34.5L59.6,36.0L59.3,37.5L58.9,39.0L58.5,40.5L58.1,42.0L57.7,43.5L57.4,45.0L57.0,46.5L56.6,48.0L56.4,49.5L56.2,51.0L55.8,52.5L55.0,54.0L54.3,55.5L53.6,57.0L53.3,58.5L53.1,59.5L57.8,59.5L58.7,58.5L60.0,57.0L61.5,55.5L62.9,54.0L64.4,52.5L65.0,51.0L65.3,49.5L65.6,48.0L66.0,46.5L66.3,45.0L66.7,43.5L67.1,42.0L67.5,40.5L67.9,39.0L68.2,37.5L68.6,36.0L69.0,34.5L69.3,33.0L69.6,31.5L70.0,30.0L70.3,28.5L70.6,27.0L70.9,25.5L71.8,24.0L73.7,22.5L75.5,21.0L77.1,19.5L78.2,18.0L79.4,16.5L80.5,15.0L81.6,13.5L82.4,12.0L82.9,10.5L83.5,9.0L84.1,7.5L84.7,6.0L85.3,4.5L85.8,3.0L86.4,1.5L86.3,0.0L86.2,-1.5L86.2,-3.0L86.1,-4.5L86.0,-6.0L85.9,-7.5L85.9,-9.0L85.7,-10.5L85.5,-12.0L85.2,-13.5L84.9,-15.0L84.7,-16.5L84.2,-18.0L83.6,-19.5L83.1,-21.0L82.2,-22.5L81.3,-24.0L80.4,-25.5L80.0,-27.0L79.8,-28.5L79.7,-30.0L79.5,-31.5L79.2,-33.0L78.1,-34.5L77.1,-36.0L76.0,-37.5L74.9,-39.0L73.8,-40.5L72.8,-42.0L71.7,-43.5L70.7,-45.0L68.0,-46.5Z"/></clipPath>
<g clip-path="url(#dcb)"><g clip-path="url(#zcb1)"><rect x="40" y="-75" width="62" height="150" filter="url(#nzb1)"/></g></g>
<filter id="nzb2" x="-100" y="-80" width="200" height="160" filterUnits="userSpaceOnUse" color-interpolation-filters="sRGB"><feTurbulence type="fractalNoise" baseFrequency="0.2 0.12" numOctaves="2" seed="10"/><feColorMatrix type="matrix" values="1 0 0 0 0 1 0 0 0 0 1 0 0 0 0 0 0 0 0 1"/><feComponentTransfer><feFuncR type="table" tableValues="0.557 0.557 0.557 0.557 0.557 0.557 0.557 0.557 0.557 0.761 0.929 0.929 0.929 0.824 0.824 0.824 0.824 0.824 0.824 0.824 0.824 0.824 0.824 0.824 0.824"/><feFuncG type="table" tableValues="0.290 0.290 0.290 0.290 0.290 0.290 0.290 0.290 0.290 0.443 0.627 0.627 0.627 0.702 0.702 0.702 0.702 0.702 0.702 0.702 0.702 0.702 0.702 0.702 0.702"/><feFuncB type="table" tableValues="0.188 0.188 0.188 0.188 0.188 0.188 0.188 0.188 0.188 0.247 0.404 0.404 0.404 0.620 0.620 0.620 0.620 0.620 0.620 0.620 0.620 0.620 0.620 0.620 0.620"/></feComponentTransfer></filter>
<clipPath id="zcb2"><path d="M68.0,-46.5L70.7,-45.0L71.7,-43.5L72.8,-42.0L73.8,-40.5L74.9,-39.0L76.0,-37.5L77.1,-36.0L78.1,-34.5L79.2,-33.0L79.5,-31.5L79.7,-30.0L79.8,-28.5L80.0,-27.0L80.4,-25.5L81.3,-24.0L82.2,-22.5L83.1,-21.0L83.6,-19.5L84.2,-18.0L84.7,-16.5L84.9,-15.0L85.2,-13.5L85.5,-12.0L85.7,-10.5L85.9,-9.0L85.9,-7.5L86.0,-6.0L86.1,-4.5L86.2,-3.0L86.2,-1.5L86.3,0.0L86.4,1.5L85.8,3.0L85.3,4.5L84.7,6.0L84.1,7.5L83.5,9.0L82.9,10.5L82.4,12.0L81.6,13.5L80.5,15.0L79.4,16.5L78.2,18.0L77.1,19.5L75.5,21.0L73.7,22.5L71.8,24.0L70.9,25.5L70.6,27.0L70.3,28.5L70.0,30.0L69.6,31.5L69.3,33.0L69.0,34.5L68.6,36.0L68.2,37.5L67.9,39.0L67.5,40.5L67.1,42.0L66.7,43.5L66.3,45.0L66.0,46.5L65.6,48.0L65.3,49.5L65.0,51.0L64.4,52.5L62.9,54.0L61.5,55.5L60.0,57.0L58.7,58.5L57.8,59.5L65.0,59.5L66.7,58.5L69.2,57.0L71.5,55.5L73.7,54.0L76.0,52.5L76.9,51.0L77.3,49.5L77.6,48.0L78.0,46.5L78.4,45.0L78.8,43.5L79.1,42.0L79.5,40.5L79.9,39.0L80.3,37.5L80.6,36.0L81.0,34.5L81.3,33.0L81.5,31.5L81.7,30.0L81.8,28.5L82.0,27.0L82.2,25.5L83.3,24.0L86.0,22.5L88.6,21.0L90.9,19.5L92.4,18.0L93.9,16.5L95.4,15.0L96.9,13.5L97.7,12.0L98.3,10.5L98.9,9.0L99.5,7.5L100.1,6.0L100.7,4.5L101.3,3.0L101.9,1.5L101.9,0.0L101.9,-1.5L101.9,-3.0L101.9,-4.5L101.9,-6.0L101.9,-7.5L101.9,-9.0L101.8,-10.5L101.5,-12.0L101.2,-13.5L100.9,-15.0L100.6,-16.5L100.3,-18.0L100.0,-19.5L99.7,-21.0L98.9,-22.5L98.0,-24.0L97.1,-25.5L96.2,-27.0L95.3,-28.5L94.4,-30.0L93.5,-31.5L92.5,-33.0L91.0,-34.5L89.5,-36.0L88.0,-37.5L86.5,-39.0L84.8,-40.5L83.0,-42.0L81.2,-43.5L79.4,-45.0L70.1,-46.5Z"/></clipPath>
<g clip-path="url(#dcb)"><g clip-path="url(#zcb2)"><rect x="40" y="-75" width="62" height="150" filter="url(#nzb2)"/></g></g>
<filter id="spb0" x="-100" y="-80" width="200" height="160" filterUnits="userSpaceOnUse" color-interpolation-filters="sRGB"><feTurbulence type="fractalNoise" baseFrequency="0.25" numOctaves="2" seed="60"/><feColorMatrix type="matrix" values="0 0 0 0 0.584 0 0 0 0 0.722 0 0 0 0 0.812 1 0 0 0 0"/><feComponentTransfer><feFuncA type="discrete" tableValues="0 0 0 0 0 0 0 0 0 0 0 0 0 0 0 0 0 0 0 0 0 0 0 0 0 0 0 1 1 1 1 1 1 1 1 1 1 1 1 1"/></feComponentTransfer></filter>
<g clip-path="url(#dcb)"><rect x="40" y="-75" width="62" height="150" filter="url(#spb0)"/></g>
<filter id="spb1" x="-100" y="-80" width="200" height="160" filterUnits="userSpaceOnUse" color-interpolation-filters="sRGB"><feTurbulence type="fractalNoise" baseFrequency="0.25" numOctaves="2" seed="61"/><feColorMatrix type="matrix" values="0 0 0 0 0.902 0 0 0 0 0.902 0 0 0 0 0.902 1 0 0 0 0"/><feComponentTransfer><feFuncA type="discrete" tableValues="0 0 0 0 0 0 0 0 0 0 0 0 0 0 0 0 0 0 0 0 0 0 0 0 0 0 0 0 0 0 1 1 1 1 1 1 1 1 1 1"/></feComponentTransfer></filter>
<g clip-path="url(#dcb)"><rect x="40" y="-75" width="62" height="150" filter="url(#spb1)"/></g>
<filter id="nzbx" x="-100" y="-80" width="200" height="160" filterUnits="userSpaceOnUse" color-interpolation-filters="sRGB"><feTurbulence type="fractalNoise" baseFrequency="0.2 0.12" numOctaves="2" seed="19"/><feColorMatrix type="matrix" values="1 0 0 0 0 1 0 0 0 0 1 0 0 0 0 0 0 0 0 1"/><feComponentTransfer><feFuncR type="table" tableValues="0.557 0.557 0.557 0.557 0.557 0.557 0.557 0.557 0.761 0.761 0.929 0.929 0.929 0.824 0.824 0.824 0.824 0.824 0.824 0.824 0.824 0.824 0.824 0.824 0.824"/><feFuncG type="table" tableValues="0.290 0.290 0.290 0.290 0.290 0.290 0.290 0.290 0.443 0.443 0.627 0.627 0.627 0.702 0.702 0.702 0.702 0.702 0.702 0.702 0.702 0.702 0.702 0.702 0.702"/><feFuncB type="table" tableValues="0.188 0.188 0.188 0.188 0.188 0.188 0.188 0.188 0.247 0.247 0.404 0.404 0.404 0.620 0.620 0.620 0.620 0.620 0.620 0.620 0.620 0.620 0.620 0.620 0.620"/></feComponentTransfer></filter>
<clipPath id="xcb"><path d="M44.0,-63.0L46.1,-63.6L48.0,-63.5L48.0,-61.9L49.1,-61.3L50.2,-59.3L52.1,-58.4L52.0,-57.0L54.1,-54.9L53.9,-55.4L55.0,-52.8L57.0,-51.4L58.0,-51.0L60.1,-49.6L60.6,-49.5L60.9,-47.1L63.0,-46.5L61.7,-45.5L59.7,-45.4L57.9,-45.6L56.1,-45.8L54.0,-47.0L52.1,-48.2L51.3,-48.8L51.1,-51.0L48.4,-52.3L48.0,-53.0L46.7,-54.0L45.8,-55.6L44.6,-57.5L44.0,-59.0L43.4,-60.7L44.0,-63.0Z"/><path d="M80.0,27.0L80.7,26.3L83.0,27.3L84.1,26.3L85.9,27.5L88.0,27.0L87.4,29.0L88.4,29.5L88.3,31.6L88.1,34.2L87.6,34.0L89.2,36.3L88.5,38.0L86.5,37.7L85.3,38.8L83.5,37.5L82.7,38.1L81.0,38.0L81.7,37.0L80.5,34.3L81.2,34.2L79.6,32.1L80.9,30.4L79.6,29.1L80.0,27.0Z"/><path d="M55.0,62.0L56.0,61.5L58.1,62.7L60.2,62.4L62.0,62.0L61.3,63.5L62.6,65.0L62.8,67.2L62.0,68.0L60.0,67.1L59.0,67.3L55.9,68.4L55.0,68.0L55.6,67.1L55.8,64.5L54.2,62.8L55.0,62.0Z"/><path d="M28.4,68.9L30.4,69.1L32.7,68.5L34.0,68.9L34.3,71.3L34.7,71.7L34.0,74.0L32.4,74.2L30.3,74.8L28.4,74.0L28.5,72.2L29.2,70.8L28.4,68.9Z"/><path d="M31.0,16.0L32.7,16.2L35.0,16.7L36.0,16.0L36.7,17.4L36.8,19.1L35.7,20.1L36.0,22.5L34.4,21.9L32.3,22.7L31.0,22.5L31.5,21.3L30.3,18.5L30.6,17.7L31.0,16.0Z"/><path d="M-87.0,-49.0L-85.2,-48.8L-83.1,-48.8L-82.1,-48.9L-80.0,-50.0L-78.4,-49.2L-76.5,-48.5L-75.9,-49.1L-73.6,-48.3L-72.0,-48.4L-70.2,-48.6L-69.1,-47.6L-68.0,-47.0L-68.9,-44.9L-68.8,-44.0L-68.3,-42.4L-68.0,-40.0L-70.1,-40.5L-70.4,-40.3L-73.1,-40.0L-73.3,-38.9L-74.9,-37.9L-77.0,-38.7L-78.7,-38.7L-80.0,-38.0L-81.6,-37.7L-83.5,-38.5L-84.5,-38.9L-87.0,-40.0L-86.7,-41.4L-87.7,-43.2L-86.4,-44.6L-86.7,-46.4L-86.9,-48.0L-87.0,-49.0Z"/><path d="M-94.5,-42.0L-93.2,-41.1L-90.4,-41.2L-89.1,-41.3L-88.0,-42.0L-89.0,-40.1L-88.7,-38.3L-88.5,-37.0L-88.4,-35.4L-88.0,-33.0L-89.0,-31.7L-88.2,-30.8L-89.0,-29.0L-91.2,-29.0L-91.5,-29.0L-93.5,-29.0L-94.2,-30.3L-94.1,-31.6L-94.5,-33.7L-94.2,-34.6L-94.8,-36.4L-94.4,-39.0L-94.9,-40.4L-94.5,-42.0Z"/><path d="M-19.0,-68.0L-17.0,-68.7L-15.5,-67.4L-14.0,-68.0L-13.4,-66.1L-13.8,-64.6L-14.0,-62.5L-15.6,-63.2L-17.0,-62.3L-19.0,-62.5L-19.4,-64.6L-18.6,-66.3L-19.0,-68.0Z"/></clipPath>
<g clip-path="url(#xcb)"><rect x="-100" y="-75" width="200" height="150" filter="url(#nzbx)"/></g>
<path fill="#ebebeb" d="M74.9,-31.9L76.4,-32.3L77.8,-31.2L80.0,-31.9L80.7,-30.1L81.3,-29.0L82.2,-27.2L82.8,-25.5L83.5,-24.3L83.6,-22.7L83.8,-21.8L85.4,-20.3L86.0,-18.1L85.8,-16.4L86.5,-14.8L88.5,-14.4L88.7,-12.5L89.2,-10.4L88.4,-8.8L88.6,-6.7L89.7,-4.9L88.8,-4.3L89.7,-2.3L89.7,-0.5L88.8,1.6L89.7,2.2L88.3,4.4L88.7,5.8L87.2,7.2L86.0,8.0L85.4,6.3L84.1,4.3L84.2,3.7L83.6,2.2L83.3,0.9L82.9,-1.6L81.5,-3.5L81.5,-4.4L80.4,-5.3L81.3,-7.0L79.7,-8.7L79.4,-9.9L79.9,-11.6L79.4,-13.7L79.4,-14.3L78.5,-16.6L77.6,-18.2L78.0,-19.2L77.0,-21.1L77.5,-22.8L75.8,-23.6L75.5,-24.7L75.4,-26.8L75.0,-27.8L74.9,-29.6L74.9,-31.9Z"/>
<path stroke="#000" stroke-width="0.8" fill="none" stroke-linejoin="round" d="M-97.0,-36.0L-96.5,-37.7L-95.8,-39.6L-93.4,-40.3L-92.7,-40.8L-91.8,-41.6L-89.3,-41.7L-88.0,-43.0L-87.2,-44.0L-85.6,-43.6L-82.8,-45.7L-80.6,-44.5L-80.0,-46.0L-77.7,-45.4L-76.7,-46.3L-74.0,-45.0L-71.9,-45.7L-70.6,-45.1L-68.0,-44.4L-67.1,-44.2L-64.5,-43.2L-62.5,-43.4L-60.7,-43.1L-58.9,-43.7L-57.0,-43.0L-54.2,-42.2L-52.7,-43.0L-52.0,-44.1L-50.2,-44.7L-48.0,-44.0L-45.7,-43.9L-43.8,-43.7L-41.8,-42.6L-41.0,-43.0L-40.4,-44.3L-37.0,-44.5L-35.3,-45.4L-35.5,-45.6L-32.5,-47.0L-31.5,-47.3L-31.3,-49.0L-28.5,-49.6L-29.1,-52.0L-28.1,-53.8L-26.3,-54.3L-24.6,-56.3L-24.1,-57.2L-23.7,-58.0L-22.8,-59.6L-21.0,-61.3L-20.4,-62.5L-18.9,-63.9L-17.0,-64.5L-15.8,-64.8L-14.3,-62.5L-15.0,-60.6L-14.0,-59.6L-12.8,-58.6L-9.8,-57.0L-8.8,-56.1L-7.8,-54.5L-5.8,-55.4L-3.5,-54.3L-1.7,-53.5L-1.0,-52.0"/>
<path stroke="#000" stroke-width="1.3" fill="none" d="M-88.0,-43.0L-86.1,-44.4L-85.5,-44.4L-84.0,-45.1L-83.2,-44.1L-82.3,-43.9L-82.5,-45.6L-80.6,-46.1L-80.0,-46.0L-79.5,-46.4L-77.3,-44.9L-76.4,-46.1L-75.2,-45.3L-75.5,-45.3L-74.0,-45.0L-73.2,-45.7L-71.9,-45.1L-70.9,-43.8L-69.7,-44.8L-68.3,-43.5L-68.0,-44.4L-67.0,-43.4L-67.0,-44.9L-65.7,-43.1L-63.6,-43.5L-63.4,-43.8L-61.2,-44.4L-61.8,-44.4L-60.1,-42.7L-58.9,-43.5L-58.0,-43.8L-57.0,-43.0L-55.1,-43.4L-55.5,-43.6L-53.4,-43.7L-52.2,-43.8L-52.1,-44.4L-50.2,-43.1L-50.1,-44.5L-49.0,-44.1L-48.0,-44.0L-46.3,-43.0L-45.5,-44.1L-45.9,-42.8L-43.1,-44.1L-43.0,-43.3L-41.0,-44.1L-41.0,-43.0L-40.9,-42.7L-39.0,-43.9L-37.6,-44.1L-36.8,-45.2L-37.1,-46.1L-35.6,-45.3L-34.6,-46.3L-33.2,-46.0L-32.3,-47.2L-31.5,-47.3"/>
<path stroke="#000" stroke-width="1.0" fill="none" d="M-95.8,-39.0L-96.3,-37.4L-96.5,-35.9L-96.8,-34.0L-97.3,-32.4L-97.2,-31.0L-98.2,-29.5L-98.0,-28.0L-97.8,-26.0L-98.4,-24.0L-98.2,-21.8L-99.1,-20.2L-98.5,-19.0L-99.8,-17.7L-99.3,-16.0L-99.3,-14.5L-100.0,-12.8L-100.1,-10.3L-99.9,-9.0L-100.2,-7.4L-99.9,-4.9L-100.5,-4.4L-100.3,-2.0L-99.7,0.3L-100.0,1.7L-100.9,3.1L-100.6,5.4"/>
<path stroke="#000" stroke-width="0.8" fill="none" stroke-linejoin="round" d="M-1.0,-52.0L-2.3,-50.2L-3.5,-49.0L-5.0,-48.8L-7.9,-47.5L-8.8,-46.4L-11.4,-45.0L-13.1,-44.7L-12.5,-42.8L-12.5,-40.9L-12.3,-39.4L-14.1,-38.0L-15.2,-35.7L-15.8,-35.0L-18.3,-33.3L-20.0,-32.3L-21.0,-31.5L-22.6,-30.4L-23.0,-29.8L-25.8,-26.9L-26.3,-26.3L-27.6,-25.3L-28.9,-22.8L-29.5,-20.8L-32.5,-20.6L-33.3,-19.3L-35.1,-17.9L-35.4,-16.4L-36.8,-14.0L-37.6,-13.1L-39.7,-10.0L-40.3,-8.8L-41.6,-7.2L-42.5,-5.3L-43.8,-3.5L-45.3,-3.0L-46.0,-0.0L-46.8,0.8L-49.0,1.8L-49.9,3.3L-49.9,5.6L-50.8,7.0"/>
<path stroke="#000" stroke-width="0.8" fill="none" stroke-linejoin="round" d="M1.0,-52.0L2.7,-51.9L5.3,-52.6L7.4,-51.9L8.2,-53.1L9.8,-53.1L12.7,-53.3L14.0,-52.6L14.5,-54.6L14.4,-55.7L16.0,-56.8L15.7,-58.5L15.9,-59.9L17.4,-59.8L19.9,-60.9L20.5,-62.5L22.8,-62.8L24.6,-63.5L24.8,-64.2L26.9,-65.2L28.5,-66.5L30.2,-66.9L31.4,-67.1L32.9,-68.0L35.5,-66.8L37.5,-67.3L38.2,-67.4L39.7,-68.1L40.6,-67.7L42.8,-68.7L44.0,-68.1L45.7,-68.2L47.8,-68.1L49.6,-68.7L50.3,-68.9L52.1,-69.8L54.2,-69.7L55.2,-70.5L56.5,-70.5L59.0,-71.3L61.5,-70.7L62.6,-68.8L63.8,-68.9L64.2,-68.8L67.0,-66.6L68.0,-67.2L68.8,-65.0L70.3,-64.9L72.7,-63.5L73.5,-63.3L73.4,-61.0L74.3,-59.7L75.1,-58.5L75.4,-56.5L77.4,-55.9L77.7,-55.0L79.5,-54.0L80.2,-52.6L81.5,-52.0L82.8,-52.4L84.0,-51.6L85.5,-52.5L87.9,-52.0L88.8,-51.2L91.6,-50.9L92.3,-50.6L95.0,-50.0"/>
<path stroke="#000" stroke-width="0.8" fill="none" stroke-linejoin="round" d="M30.0,17.0L30.9,17.1L33.7,17.2L34.6,15.5L37.2,15.9L38.0,15.6L39.8,15.5L41.0,14.0L43.4,14.2L43.2,12.6L40.9,12.2L40.7,9.5L39.5,9.2L38.4,7.6L36.4,6.6L35.0,4.6L33.6,3.0L34.1,2.0L31.8,0.9L31.8,-0.7L30.1,-1.3L29.3,-4.3L28.0,-5.0L27.9,-6.6L26.8,-9.5L27.8,-10.4L26.8,-12.3L25.4,-14.1L24.7,-15.2L24.5,-17.5L24.0,-19.9L24.1,-21.6L22.4,-23.3L22.8,-24.8L21.8,-25.6L20.1,-27.0L18.3,-26.4L16.6,-27.3L16.0,-28.9L15.3,-30.4L14.8,-32.6L14.0,-33.3L13.4,-35.6L13.6,-35.9L12.3,-38.5L9.7,-40.1L8.8,-40.3L8.3,-41.9L6.1,-43.4L7.1,-45.7L5.3,-47.3L3.8,-48.3L3.8,-50.1L1.8,-50.8L1.0,-52.0"/>
<path fill="#e6e6e6" stroke="#000" stroke-width="0.6" d="M-23.8,-19.8L-24.9,-19.2L-26.5,-18.8L-28.4,-18.9L-28.5,-19.6L-28.2,-20.7L-26.6,-21.8L-24.8,-20.9ZM-27.7,-16.5L-28.2,-15.5L-29.5,-16.0L-30.2,-16.4L-29.5,-17.3L-28.3,-17.2ZM-28.4,-17.3L-29.2,-15.8L-30.3,-16.0L-31.3,-16.7L-32.3,-16.7L-31.8,-17.8L-31.2,-18.6L-30.1,-18.7L-29.4,-18.3ZM-21.3,-11.1L-21.8,-7.3L-23.1,-8.5L-26.5,-8.5L-25.6,-9.7L-26.6,-11.2L-25.7,-11.9L-23.0,-14.2L-21.5,-12.4ZM-42.2,4.0L-43.0,5.3L-44.0,5.6L-45.1,6.4L-47.1,4.2L-46.5,3.7L-45.0,1.8L-44.5,1.2L-42.8,3.2ZM-22.1,-0.5L-22.0,1.3L-24.1,0.9L-25.4,0.9L-24.7,-1.3L-23.9,-2.3L-21.9,-2.3ZM-33.2,1.3L-33.1,1.9L-34.1,2.7L-35.3,2.3L-34.8,1.6L-35.4,1.0L-34.4,0.1L-33.7,0.5L-32.5,0.6ZM-28.3,-17.7L-29.5,-15.5L-30.9,-14.7L-33.4,-15.2L-34.3,-17.0L-32.5,-18.2L-32.5,-19.9L-30.1,-18.6ZM-14.3,-16.6L-15.5,-14.8L-17.5,-13.6L-19.2,-16.3L-18.4,-19.1L-15.0,-17.8ZM-31.9,-16.9L-32.3,-16.1L-33.1,-16.0L-33.4,-16.5L-33.5,-17.2L-32.9,-17.8L-32.2,-17.3ZM-23.7,-8.9L-23.6,-6.4L-25.3,-7.6L-26.0,-7.6L-27.0,-8.6L-26.5,-9.2L-25.8,-10.6L-25.2,-10.0L-24.2,-9.6ZM-39.9,-2.3L-40.4,-2.2L-40.8,-1.4L-41.7,-1.7L-42.0,-2.6L-42.9,-2.8L-42.2,-3.7L-40.6,-4.4L-39.6,-3.5ZM-28.8,-7.4L-29.0,-6.2L-30.1,-5.5L-30.9,-6.4L-31.5,-7.0L-30.7,-7.9L-29.9,-8.0L-29.3,-7.8ZM-33.9,-13.2L-34.7,-11.4L-36.0,-10.4L-38.0,-12.0L-39.4,-13.4L-38.9,-15.9L-36.8,-14.5L-34.8,-15.9ZM-38.8,5.7L-40.7,8.0L-42.2,10.0L-44.9,7.5L-44.0,6.3L-42.5,4.0L-40.9,5.1ZM-35.9,-3.3L-37.1,-2.1L-38.1,-2.1L-38.6,-3.2L-38.2,-4.5L-36.8,-3.8ZM-24.2,-17.5L-25.5,-16.0L-27.5,-14.7L-29.5,-15.6L-28.7,-17.3L-29.0,-18.3L-28.8,-20.2L-26.7,-19.3L-24.8,-19.2ZM-29.3,-3.0L-29.4,-2.3L-30.1,-2.0L-30.5,-1.8L-31.1,-2.7L-30.7,-3.0L-30.6,-3.4L-30.0,-3.7L-28.9,-3.4ZM-28.7,-8.1L-29.3,-7.5L-31.0,-6.4L-32.1,-9.1L-30.8,-9.2L-29.6,-9.4ZM-26.8,-3.5L-27.5,-3.2L-28.6,-2.7L-29.1,-3.5L-28.2,-4.5L-27.3,-4.5ZM-23.3,3.8L-22.9,5.2L-24.9,4.9L-25.9,4.9L-25.9,3.8L-25.7,2.9L-25.1,2.7L-23.3,3.6ZM-42.2,5.1L-43.1,6.0L-43.8,6.5L-44.9,5.3L-45.3,4.6L-44.1,4.3L-42.2,4.3ZM-31.2,-18.2L-31.6,-17.0L-32.9,-16.6L-33.4,-18.1L-33.0,-19.1L-31.9,-19.2ZM-21.1,2.5L-21.3,3.8L-22.3,3.7L-23.8,3.0L-23.8,2.3L-22.5,1.7L-21.7,2.2ZM-13.8,-19.3L-14.4,-18.1L-16.7,-15.4L-18.1,-16.7L-18.6,-17.5L-18.8,-19.2L-18.8,-21.0L-16.8,-21.2L-15.1,-20.7ZM-25.6,-20.6L-25.5,-19.6L-26.5,-19.5L-26.7,-19.3L-27.6,-19.9L-27.3,-20.8L-27.6,-21.3L-26.2,-22.0L-25.2,-21.1ZM-27.5,4.9L-27.5,5.5L-29.0,5.8L-29.0,4.6L-28.5,4.0L-27.6,4.1ZM-34.0,5.6L-35.1,6.4L-35.5,6.7L-36.6,6.4L-36.2,5.3L-35.7,4.9L-34.9,5.4ZM-42.4,-4.1L-43.3,-3.6L-43.5,-2.3L-45.8,-3.5L-45.7,-4.1L-44.8,-5.4L-44.2,-6.3L-43.0,-6.2ZM-19.3,0.9L-19.9,1.7L-20.9,2.3L-22.8,1.5L-22.7,0.5L-22.3,-0.6L-20.5,-1.6L-20.2,-1.5ZM-37.0,-6.1L-37.8,-5.2L-39.8,-5.2L-42.2,-6.1L-40.3,-7.4L-37.5,-7.9ZM-30.9,-20.8L-31.7,-20.6L-32.6,-19.9L-33.1,-20.4L-33.2,-21.3L-32.5,-21.8L-31.7,-21.4ZM-26.8,-2.9L-27.7,-2.6L-28.7,-2.2L-29.5,-3.3L-28.7,-4.2L-27.3,-4.8ZM-21.2,4.1L-22.3,4.8L-24.2,5.6L-25.2,3.3L-24.3,3.0L-22.6,1.7ZM-42.0,-4.2L-42.9,-3.1L-44.2,-2.4L-45.1,-2.3L-44.2,-4.4L-44.0,-6.0L-42.5,-4.7ZM-37.4,-10.6L-37.6,-9.3L-38.3,-6.9L-40.0,-7.5L-42.1,-9.0L-41.8,-11.3L-40.8,-12.1L-39.0,-12.8L-38.2,-11.2ZM-28.3,-14.7L-29.4,-14.4L-31.3,-12.8L-31.7,-13.4L-33.9,-14.3L-34.2,-16.7L-31.8,-16.0L-30.6,-17.0L-29.4,-17.2ZM-19.8,0.5L-19.3,2.5L-22.3,2.3L-23.3,1.3L-23.4,0.5L-22.3,-0.6L-19.5,-0.5ZM-20.7,-18.2L-20.8,-17.1L-22.5,-16.0L-23.6,-17.6L-24.1,-18.4L-24.2,-20.1L-22.7,-20.2L-20.2,-20.1ZM-22.3,-15.6L-22.3,-14.9L-22.9,-14.5L-24.4,-14.5L-24.5,-15.2L-24.5,-15.9L-24.2,-17.0L-23.7,-16.6L-22.3,-17.2ZM-41.6,2.0L-43.0,2.3L-43.5,3.0L-45.5,3.0L-46.2,2.2L-47.1,0.8L-45.9,-0.4L-44.6,-1.7L-42.1,0.5ZM-32.2,-9.1L-33.3,-8.4L-36.1,-6.3L-37.9,-9.8L-35.9,-11.8L-33.6,-11.1ZM-13.5,-16.5L-15.9,-14.1L-17.8,-13.5L-20.5,-15.4L-17.8,-18.8L-15.7,-17.1ZM-44.0,5.9L-44.5,6.2L-44.9,6.7L-46.6,6.2L-46.7,5.9L-45.9,5.3L-45.0,4.6L-44.1,4.5ZM-22.3,-1.5L-22.4,0.5L-24.1,-0.1L-24.2,-0.7L-24.7,-1.7L-24.0,-2.2L-22.3,-2.2ZM-31.7,0.4L-31.5,1.4L-33.2,1.6L-33.8,0.2L-33.9,-0.8L-32.2,-0.9Z"/>
<path fill="none" stroke="#000" stroke-width="0.7" d="M-39.7,5.6L-40.4,4.7L-39.8,4.7L-41.0,5.1L-42.2,6.0M-29.3,1.7L-28.9,1.2L-29.2,0.9L-28.0,-0.3L-26.8,-1.7M-24.4,-5.5L-24.7,-4.3L-25.5,-4.4L-25.4,-3.7L-24.7,-3.2M-37.6,-9.8L-38.7,-8.8L-38.2,-8.1L-39.2,-8.3L-38.4,-8.0M-43.0,-6.4L-41.8,-7.2L-42.7,-7.8L-42.1,-6.8L-43.2,-7.8M-40.1,-9.8L-40.0,-10.9L-40.5,-11.8L-39.1,-11.1L-40.3,-9.7M-22.4,1.9L-21.7,1.7L-22.6,2.1L-23.8,1.2L-24.1,-0.2M-36.4,1.8L-35.8,1.8L-35.4,1.7L-36.5,2.0L-36.8,2.7M-24.2,-7.2L-24.0,-6.5L-24.2,-7.3L-23.6,-6.2L-22.7,-5.6M-25.5,-1.0L-25.1,-1.1L-25.7,-0.8L-26.9,-1.0L-26.0,-0.4M-30.9,-11.7L-31.1,-11.9L-30.8,-12.2L-30.2,-10.9L-31.2,-10.4M-27.3,-8.3L-27.4,-6.9L-28.7,-6.7L-29.8,-5.9L-28.4,-5.8M-43.6,-3.6L-43.5,-3.0L-43.4,-2.6L-42.4,-2.5L-42.7,-1.2M-41.0,-0.9L-41.3,-0.1L-42.4,1.4L-42.8,0.0L-43.5,-0.3M-35.9,-0.5L-36.4,-1.2L-37.2,-0.5L-35.9,-0.4L-36.7,0.5M-36.6,-12.7L-37.7,-11.9L-36.8,-11.5L-36.9,-11.3L-37.7,-9.9M-37.5,-2.0L-36.6,-1.1L-36.7,-1.7L-36.5,-2.8L-35.5,-3.3M-25.6,-11.3L-26.0,-12.1L-26.2,-13.0L-27.7,-12.3L-28.3,-13.1M-38.8,-6.0L-39.0,-5.6L-38.5,-6.0L-37.2,-4.9L-38.5,-4.0M-24.3,1.6L-25.3,2.6L-24.9,1.1L-26.4,2.5L-25.9,1.7M-40.4,1.4L-40.9,0.4L-39.6,1.2L-40.6,2.4L-40.3,3.3M-30.0,4.3L-29.1,5.4L-30.0,5.9L-29.9,6.7L-30.1,7.8M-32.7,-11.4L-33.5,-12.5L-33.5,-13.8L-33.6,-14.9L-33.6,-14.9M-33.1,3.6L-34.5,4.6L-34.6,4.8L-34.1,5.8L-34.5,5.6M-22.9,-16.1L-22.5,-15.7L-23.9,-15.4L-23.4,-14.1L-23.9,-12.6M-33.7,-5.9L-32.6,-7.3L-31.9,-6.9L-32.4,-5.8L-32.8,-5.9"/>
<path fill="none" stroke="#000" stroke-width="1.0" d="M30.5,18.0l0.4,1.6M30.4,20.4l-0.1,1.6M30.7,22.8l0.1,1.6M31.3,25.2l-0.3,1.6M31.4,27.6l-0.2,1.6M31.3,30.0l-0.4,1.6M31.4,32.4l0.8,1.6M31.7,34.8l0.5,1.6M31.5,37.2l-0.3,1.6"/>
<path fill="none" stroke="#000" stroke-width="0.5" d="M31.7,15.5L32.1,16.4L30.7,17.0L31.9,17.2L30.5,16.6M26.1,1.6L27.4,2.0L27.9,2.8L29.1,3.2L29.4,3.6M39.2,15.9L39.8,15.0L40.3,14.9L41.1,13.7L40.1,12.3M40.7,27.0L41.2,26.6L42.2,27.5L42.3,26.7L41.7,26.5M32.1,10.1L32.5,11.4L31.1,11.6L29.8,10.4L30.7,10.7M43.5,10.6L42.0,10.3L42.3,11.6L43.7,11.5L43.5,10.3M38.2,2.4L37.2,1.0L35.7,1.5L34.6,2.9L33.3,4.0M28.5,-4.4L29.1,-5.2L29.8,-6.1L28.5,-5.3L29.1,-4.2M39.9,-2.0L40.3,-1.4L40.1,-0.1L39.4,1.3L40.0,-0.2M26.3,17.8L27.2,16.5L26.7,17.2L25.7,18.3L25.6,17.0M33.0,15.1L32.8,15.7L31.7,16.5L31.3,17.0L31.7,16.7M33.3,22.5L34.7,23.4L34.9,22.7L33.5,24.2L34.2,25.2M32.3,16.2L33.7,17.2L34.0,16.6L33.8,17.8L33.5,18.3M37.4,26.4L38.4,25.7L36.9,25.0L36.6,25.3L37.6,26.4M26.8,24.2L27.7,25.3L28.0,24.6L29.0,25.5L29.6,26.7M32.6,-2.0L32.8,-1.1L31.9,-0.4L33.1,-1.2L33.5,-0.6M34.8,2.2L34.1,3.0L35.0,2.9L33.7,3.8L34.6,3.0M37.0,26.4L38.2,26.5L38.1,26.7L37.2,25.8L36.2,26.4M32.9,14.8L32.6,14.8L31.5,13.4L33.0,13.1L31.9,13.5M41.0,0.5L41.3,0.0L41.3,-1.4L39.9,0.0L41.0,-0.0M36.8,4.2L37.6,3.9L39.0,4.7L39.9,6.1L39.2,4.7M29.8,1.3L28.6,-0.0L28.7,1.1L28.6,2.4L29.8,1.1M37.4,8.9L36.2,10.3L35.5,10.5L35.9,11.8L36.4,11.5M34.5,0.6L35.9,2.1L35.1,0.7L34.3,0.2L35.6,1.5M41.9,-3.4L42.8,-2.7L43.2,-1.3L41.9,-2.3L42.6,-1.0"/>
</g>
<g fill="none" stroke="#555" stroke-width="0.6" stroke-dasharray="3,2.6">
<circle r="97.6"/><circle r="57"/>
<path d="M-45,-52 Q0,-86 45,-52"/>
<line x1="0.0" y1="-19.0" x2="0.0" y2="-101.8"/>
<line x1="16.5" y1="-9.5" x2="88.2" y2="-50.9"/>
<line x1="16.5" y1="9.5" x2="88.2" y2="50.9"/>
<line x1="0.0" y1="19.0" x2="0.0" y2="101.8"/>
<line x1="-16.5" y1="9.5" x2="-88.2" y2="50.9"/>
<line x1="-16.5" y1="-9.5" x2="-88.2" y2="-50.9"/>
</g>
<circle r="19" fill="#fff" stroke="#555" stroke-width="0.6"/>
<circle r="101.8" fill="none" stroke="#444" stroke-width="0.8"/>
</g>
<rect x="355" y="122" width="141.8" height="116.19999999999999" fill="#fff"/>
<rect x="408.6" y="133" width="22.099999999999966" height="81.69999999999999" fill="#8c3d27"/>
<rect x="452" y="162.5" width="21.899999999999977" height="52.19999999999999" fill="#355f89"/>
<path d="M394,130.1V218.4H488.8" fill="none" stroke="#111" stroke-width="1.3"/>
<line x1="391" y1="214.7" x2="394" y2="214.7" stroke="#111" stroke-width="1.1"/>
<text x="389" y="218.4" font-family="Liberation Sans, sans-serif" font-size="10.3" fill="#222" text-anchor="end">0%</text>
<line x1="391" y1="174.4" x2="394" y2="174.4" stroke="#111" stroke-width="1.1"/>
<text x="389" y="178.1" font-family="Liberation Sans, sans-serif" font-size="10.3" fill="#222" text-anchor="end">30%</text>
<line x1="391" y1="134.1" x2="394" y2="134.1" stroke="#111" stroke-width="1.1"/>
<text x="389" y="137.8" font-family="Liberation Sans, sans-serif" font-size="10.3" fill="#222" text-anchor="end">60%</text>
<line x1="419.6" y1="218.4" x2="419.6" y2="221.4" stroke="#111" stroke-width="1.1"/>
<text x="419.6" y="232.2" font-family="Liberation Sans, sans-serif" font-size="10.3" fill="#111" text-anchor="middle">Negative</text>
<line x1="462.9" y1="218.4" x2="462.9" y2="221.4" stroke="#111" stroke-width="1.1"/>
<text x="462.9" y="232.2" font-family="Liberation Sans, sans-serif" font-size="10.3" fill="#111" text-anchor="middle">Positve</text>
<defs><linearGradient id="sgb" x1="0" y1="0" x2="0" y2="1"><stop offset="0" stop-color="#385b87"/><stop offset="0.13" stop-color="#4b729e"/><stop offset="0.3" stop-color="#7eb0d0"/><stop offset="0.5" stop-color="#c7b6a8"/><stop offset="0.7" stop-color="#f0a466"/><stop offset="0.85" stop-color="#c6713f"/><stop offset="1" stop-color="#8e3f28"/></linearGradient></defs>
<rect x="603" y="75" width="19" height="95.69999999999999" fill="url(#sgb)"/>
<path d="M603,98.9h3M619,98.9h3" stroke="#fff" stroke-width="0.8" opacity="0.8"/>
<path d="M603,122.8h3M619,122.8h3" stroke="#fff" stroke-width="0.8" opacity="0.8"/>
<path d="M603,146.8h3M619,146.8h3" stroke="#fff" stroke-width="0.8" opacity="0.8"/>
<text x="629.6" y="78.6" font-family="Liberation Sans, sans-serif" font-size="10" fill="#1a1a1a">1.0</text>
<text x="629.6" y="102.5" font-family="Liberation Sans, sans-serif" font-size="10" fill="#1a1a1a">0.5</text>
<text x="629.6" y="126.4" font-family="Liberation Sans, sans-serif" font-size="10" fill="#1a1a1a">0.0</text>
<text x="629.6" y="150.4" font-family="Liberation Sans, sans-serif" font-size="10" fill="#1a1a1a">-0.5</text>
<text x="629.6" y="174.3" font-family="Liberation Sans, sans-serif" font-size="10" fill="#1a1a1a">-1.0</text>
<text x="597.4" y="66.8" font-family="Liberation Sans, sans-serif" font-size="13.5" fill="#1a1a1a">slope</text>
<text x="354.6" y="14" font-family="Liberation Sans, sans-serif" font-size="19" fill="#000">b)</text>
<g transform="translate(470.4,385.4)">
<defs><clipPath id="mcd"><circle r="101.8"/></clipPath></defs>
<g clip-path="url(#mcd)">
<path fill="#e6e6e6" d="M-97.0,-36.0L-95.8,-39.6L-88.0,-43.0L-80.0,-46.0L-74.0,-45.0L-68.0,-44.4L-57.0,-43.0L-48.0,-44.0L-41.0,-43.0L-31.5,-47.3L-26.3,-54.3L-21.0,-61.3L-17.0,-64.5L-15.8,-64.8L-14.0,-59.6L-8.8,-56.1L-3.5,-54.3L-1.0,-52.0L-3.5,-49.0L-8.8,-46.4L-13.1,-44.7L-12.3,-39.4L-15.8,-35.0L-21.0,-31.5L-26.3,-26.3L-28.9,-22.8L-33.3,-19.3L-36.8,-14.0L-40.3,-8.8L-43.8,-3.5L-49.0,1.8L-50.8,7.0L-50.8,20.0L-110.0,20.0L-110.0,-36.0Z"/>
<path fill="#e6e6e6" d="M1.0,-52.0L5.3,-52.6L14.0,-52.6L15.7,-58.5L20.5,-62.5L28.5,-66.5L39.7,-68.1L47.8,-68.1L54.2,-69.7L59.0,-71.3L63.8,-68.9L70.3,-64.9L73.5,-63.3L75.1,-58.5L81.5,-52.0L87.9,-52.0L95.0,-50.0L110.0,-50.0L110.0,110.0L18.0,110.0L18.0,18.0L30.0,17.0L43.4,14.2L38.4,7.6L31.8,0.9L28.0,-5.0L26.8,-12.3L24.5,-17.5L21.8,-25.6L16.6,-27.3L14.0,-33.3L12.3,-38.5L8.8,-40.3L5.3,-47.3L1.8,-50.8L1.0,-52.0Z"/>
<path fill="#fff" stroke="#000" stroke-width="0.7" d="M16.0,-50.0L20.0,-56.0L26.0,-62.0L30.0,-65.5L36.0,-66.8L42.0,-66.0L44.5,-60.0L43.0,-53.0L40.0,-48.5L32.0,-47.5L25.0,-50.0Z"/>
<path fill="#fff" stroke="#000" stroke-width="0.7" d="M47.8,-67.3L49.3,-67.7L51.4,-68.6L52.3,-69.2L53.7,-69.7L55.4,-69.6L58.0,-69.8L59.0,-70.5L60.3,-69.9L62.1,-69.3L62.7,-68.0L64.8,-68.2L65.5,-67.5L68.0,-66.8L69.0,-65.0L70.3,-64.9L70.1,-63.2L71.1,-60.8L71.1,-59.8L71.9,-57.7L70.0,-58.1L68.9,-57.0L67.0,-57.8L65.7,-56.8L63.8,-56.9L62.4,-57.2L61.0,-57.0L59.1,-57.2L57.1,-57.4L56.2,-57.3L54.0,-57.2L52.6,-57.7L51.4,-59.3L49.0,-60.2L47.8,-60.9L47.2,-62.2L48.0,-64.0L48.4,-65.9L47.8,-67.3Z"/>
<ellipse cx="23" cy="-57" rx="8.5" ry="2.2" transform="rotate(-52 23 -57)" fill="#e6e6e6" stroke="#000" stroke-width="0.6"/>
<path fill="#fff" stroke="#000" stroke-width="0.8" d="M39.1,66.0L40.0,65.4L41.2,65.0L42.7,63.5L44.0,63.0L46.1,63.1L47.6,62.5L48.0,61.7L50.0,61.5L51.1,62.1L52.2,62.2L54.0,61.6L56.0,62.0L56.5,63.8L56.5,65.0L55.0,65.8L53.6,66.5L52.0,67.0L50.1,67.2L48.7,68.1L47.9,68.1L47.0,69.0L45.9,71.0L44.9,72.1L45.4,72.3L44.0,74.0L43.2,73.8L41.6,74.1L40.0,75.0L39.2,73.7L38.8,72.9L38.5,71.0L38.9,68.6L39.0,67.0L39.1,66.0Z"/>
<path fill="#fff" stroke="#000" stroke-width="0.8" d="M22.8,78.7L24.2,78.7L26.1,78.1L26.7,78.6L28.4,77.9L29.6,77.7L30.7,78.1L33.2,78.0L34.0,77.6L35.5,78.1L36.4,78.6L38.2,79.6L39.1,80.7L40.1,81.0L41.6,80.6L43.4,79.8L44.8,78.4L46.0,78.5L47.6,77.7L48.4,77.1L49.1,77.1L50.3,76.8L52.4,76.6L53.7,76.0L53.7,73.2L54.5,72.5L54.8,73.2L55.0,75.4L56.2,75.9L56.5,77.8L56.8,78.7L57.5,80.7L57.0,82.0L55.6,82.0L54.8,83.5L53.4,83.8L52.7,84.3L50.2,85.0L49.4,85.8L48.7,85.6L47.1,87.1L45.9,86.7L43.9,87.7L43.0,87.9L40.8,87.9L40.0,88.0L38.9,88.1L36.5,89.5L35.6,89.3L34.0,89.9L32.6,89.8L30.8,89.8L29.6,90.1L29.0,91.7L27.1,90.6L25.8,90.9L24.0,91.1L22.8,92.0L22.8,90.0L22.4,88.9L22.7,88.7L22.9,87.1L23.2,85.4L22.1,83.3L22.2,82.7L22.5,82.0L22.3,79.4L22.8,78.7Z"/>
<path fill="#fff" stroke="#000" stroke-width="0.8" d="M72.9,64.5L75.0,63.1L76.4,62.4L77.0,62.0L78.6,62.4L80.1,61.5L82.0,61.3L81.0,63.5L79.2,64.9L79.3,64.2L76.6,65.3L76.0,66.0L73.5,66.4L72.9,64.5Z"/>
<path fill="#fff" stroke="#000" stroke-width="0.8" d="M-66.0,-2.0L-64.9,-3.1L-62.9,-3.5L-63.1,-3.9L-61.9,-5.5L-60.0,-5.8L-59.3,-5.5L-56.8,-5.4L-56.4,-4.8L-54.1,-5.5L-53.7,-4.9L-52.0,-5.0L-50.2,-3.1L-49.4,-2.2L-49.4,-1.1L-48.0,0.0L-48.3,1.6L-48.4,2.2L-47.9,3.3L-48.9,5.1L-48.1,6.1L-49.0,8.0L-50.2,8.7L-51.4,8.7L-53.1,7.9L-54.4,7.8L-55.8,7.3L-56.1,8.4L-57.9,8.1L-59.9,7.6L-60.0,8.5L-62.1,8.4L-62.7,7.3L-64.9,7.8L-66.0,8.0L-66.3,6.6L-66.3,4.5L-65.4,3.6L-65.5,1.7L-66.3,0.8L-66.7,-0.7L-66.0,-2.0Z"/>
<path fill="none" stroke="#000" stroke-width="0.9" d="M22.5,44.0L24.1,44.5L23.7,45.2L24.5,47.0L26.1,47.2L25.9,49.2L26.0,50.0L27.0,50.8L26.7,51.8L27.5,53.0L26.9,53.6L27.7,55.6L28.5,56.0L27.9,56.1L26.5,57.7L27.0,59.0L27.1,58.6L24.9,60.9L24.0,61.0"/>
<clipPath id="dcd"><path d="M59.7,-45.4L60.9,-45.2L64.2,-46.0L65.2,-45.5L68.0,-46.5L71.0,-46.2L72.5,-46.6L73.4,-46.0L76.9,-45.4L78.8,-45.1L81.1,-43.2L81.4,-42.3L83.8,-39.7L86.5,-37.7L87.5,-36.6L86.7,-36.0L89.3,-35.2L90.7,-32.8L92.9,-31.5L91.8,-28.7L92.7,-26.8L94.5,-26.1L95.2,-24.6L95.8,-24.1L97.6,-21.3L98.9,-20.1L99.1,-18.2L100.0,-14.5L99.8,-13.0L99.7,-11.1L99.9,-9.8L98.9,-8.0L100.8,-6.8L101.0,-3.1L99.7,-2.6L99.8,-0.6L99.9,1.6L100.4,3.2L97.1,4.4L98.2,8.6L96.8,9.2L96.2,11.8L95.3,13.1L93.2,14.8L92.7,16.2L90.3,16.4L89.4,19.7L88.4,20.0L86.4,21.2L84.7,20.8L82.4,23.6L82.6,23.4L80.3,24.6L80.6,26.9L80.9,29.5L79.4,31.4L80.6,32.2L79.2,33.8L79.7,35.6L78.0,36.8L78.8,38.4L76.2,42.0L76.9,43.0L77.2,44.8L76.9,45.5L74.9,47.9L74.9,49.4L74.6,52.1L71.8,52.8L72.2,55.7L70.1,55.5L67.7,56.7L65.5,58.8L64.6,59.2L63.0,59.5L59.8,58.8L60.0,60.3L58.1,59.8L55.0,59.7L54.1,59.0L51.3,58.9L49.3,59.5L48.2,56.7L49.1,53.6L49.1,54.2L47.6,51.5L49.5,50.3L49.3,47.6L50.0,45.0L50.1,44.8L51.9,40.7L50.2,38.7L50.6,37.6L51.4,36.7L52.8,33.8L53.8,31.0L54.2,29.8L54.7,27.7L54.5,25.8L55.6,25.4L56.7,21.9L57.8,22.2L58.6,20.2L58.5,17.7L57.9,15.8L58.7,14.8L59.6,12.9L60.4,11.1L61.2,7.6L62.1,6.5L64.1,4.6L63.7,3.5L64.3,1.6L65.2,-1.3L64.1,-2.0L64.2,-2.7L62.9,-5.2L63.2,-7.4L61.8,-8.6L63.9,-11.6L62.0,-11.8L61.2,-16.0L62.0,-16.7L59.9,-17.4L60.7,-19.9L59.4,-22.5L58.5,-23.0L57.2,-24.7L56.2,-25.9L57.1,-28.3L57.3,-29.5L59.0,-30.5L60.8,-32.8L61.2,-34.0L59.8,-37.1L59.2,-38.2L59.0,-40.0L59.6,-40.6L58.4,-43.7L59.7,-45.4Z"/><path d="M44.0,-63.0L48.0,-63.5L52.0,-57.0L58.0,-51.0L63.0,-46.5L59.7,-45.4L54.0,-47.0L48.0,-53.0L44.0,-59.0Z"/><path d="M80.0,27.0L88.0,27.0L88.5,38.0L81.0,38.0Z"/><path d="M55.0,62.0L62.0,62.0L62.0,68.0L55.0,68.0Z"/><path d="M28.4,68.9L34.0,68.9L34.0,74.0L28.4,74.0Z"/><path d="M31.0,16.0L36.0,16.0L36.0,22.5L31.0,22.5Z"/><path d="M-87.0,-49.0L-80.0,-50.0L-68.0,-47.0L-68.0,-40.0L-80.0,-38.0L-87.0,-40.0Z"/><path d="M-94.5,-42.0L-88.0,-42.0L-89.0,-29.0L-93.5,-29.0Z"/><path d="M-19.0,-68.0L-14.0,-68.0L-14.0,-62.5L-19.0,-62.5Z"/></clipPath>
<filter id="nzd0" x="-100" y="-80" width="200" height="160" filterUnits="userSpaceOnUse" color-interpolation-filters="sRGB"><feTurbulence type="fractalNoise" baseFrequency="0.2 0.12" numOctaves="2" seed="20"/><feColorMatrix type="matrix" values="1 0 0 0 0 1 0 0 0 0 1 0 0 0 0 0 0 0 0 1"/><feComponentTransfer><feFuncR type="table" tableValues="0.482 0.482 0.482 0.482 0.482 0.482 0.482 0.482 0.357 0.357 0.357 0.357 0.549 0.549 0.549 0.549 0.549 0.780 0.780 0.780 0.780 0.780 0.780 0.780 0.780"/><feFuncG type="table" tableValues="0.490 0.490 0.490 0.490 0.490 0.490 0.490 0.490 0.545 0.545 0.545 0.545 0.729 0.729 0.729 0.729 0.729 0.706 0.706 0.706 0.706 0.706 0.706 0.706 0.706"/><feFuncB type="table" tableValues="0.510 0.510 0.510 0.510 0.510 0.510 0.510 0.510 0.733 0.733 0.733 0.733 0.847 0.847 0.847 0.847 0.847 0.647 0.647 0.647 0.647 0.647 0.647 0.647 0.647"/></feComponentTransfer></filter>
<clipPath id="zcd0"><path d="M65.9,-46.5L57.6,-45.0L57.5,-43.5L57.3,-42.0L57.1,-40.5L57.3,-39.0L57.6,-37.5L58.0,-36.0L58.4,-34.5L58.8,-33.0L57.9,-31.5L56.9,-30.0L55.9,-28.5L54.9,-27.0L54.5,-25.5L55.4,-24.0L56.3,-22.5L57.3,-21.0L58.2,-19.5L59.2,-18.0L60.0,-16.5L60.2,-15.0L60.4,-13.5L60.6,-12.0L60.8,-10.5L61.0,-9.0L61.2,-7.5L61.3,-6.0L61.5,-4.5L61.7,-3.0L61.9,-1.5L62.1,0.0L62.3,1.5L61.8,3.0L61.3,4.5L60.7,6.0L60.2,7.5L59.6,9.0L59.1,10.5L58.5,12.0L58.0,13.5L57.5,15.0L56.9,16.5L56.4,18.0L55.9,19.5L55.3,21.0L54.8,22.5L54.3,24.0L53.7,25.5L53.2,27.0L52.7,28.5L52.1,30.0L51.6,31.5L51.1,33.0L50.6,34.5L50.2,36.0L49.9,37.5L49.5,39.0L49.1,40.5L48.7,42.0L48.3,43.5L48.0,45.0L47.6,46.5L47.3,48.0L47.1,49.5L46.9,51.0L46.7,52.5L46.5,54.0L46.3,55.5L46.3,57.0L46.9,58.5L47.3,59.5L52.0,59.5L52.1,58.5L52.1,57.0L52.6,55.5L53.2,54.0L53.8,52.5L54.1,51.0L54.3,49.5L54.5,48.0L54.9,46.5L55.2,45.0L55.6,43.5L56.0,42.0L56.4,40.5L56.8,39.0L57.1,37.5L57.5,36.0L57.9,34.5L58.3,33.0L58.8,31.5L59.2,30.0L59.7,28.5L60.2,27.0L60.6,25.5L61.3,24.0L62.2,22.5L63.2,21.0L64.1,19.5L64.8,18.0L65.5,16.5L66.3,15.0L67.0,13.5L67.6,12.0L68.1,10.5L68.7,9.0L69.2,7.5L69.8,6.0L70.3,4.5L70.9,3.0L71.4,1.5L71.3,0.0L71.1,-1.5L71.0,-3.0L70.8,-4.5L70.7,-6.0L70.5,-7.5L70.4,-9.0L70.2,-10.5L70.0,-12.0L69.8,-13.5L69.5,-15.0L69.3,-16.5L68.6,-18.0L67.8,-19.5L67.0,-21.0L66.1,-22.5L65.1,-24.0L64.2,-25.5L64.4,-27.0L65.0,-28.5L65.6,-30.0L66.2,-31.5L66.7,-33.0L66.1,-34.5L65.5,-36.0L64.9,-37.5L64.3,-39.0L63.8,-40.5L63.6,-42.0L63.4,-43.5L63.2,-45.0L68.0,-46.5Z"/></clipPath>
<g clip-path="url(#dcd)"><g clip-path="url(#zcd0)"><rect x="40" y="-75" width="62" height="150" filter="url(#nzd0)"/></g></g>
<filter id="nzd1" x="-100" y="-80" width="200" height="160" filterUnits="userSpaceOnUse" color-interpolation-filters="sRGB"><feTurbulence type="fractalNoise" baseFrequency="0.2 0.12" numOctaves="2" seed="20"/><feColorMatrix type="matrix" values="1 0 0 0 0 1 0 0 0 0 1 0 0 0 0 0 0 0 0 1"/><feComponentTransfer><feFuncR type="table" tableValues="0.482 0.482 0.482 0.482 0.482 0.482 0.482 0.482 0.482 0.482 0.482 0.482 0.357 0.357 0.357 0.549 0.780 0.780 0.780 0.780 0.780 0.780 0.780 0.780 0.780"/><feFuncG type="table" tableValues="0.490 0.490 0.490 0.490 0.490 0.490 0.490 0.490 0.490 0.490 0.490 0.490 0.545 0.545 0.545 0.729 0.706 0.706 0.706 0.706 0.706 0.706 0.706 0.706 0.706"/><feFuncB type="table" tableValues="0.510 0.510 0.510 0.510 0.510 0.510 0.510 0.510 0.510 0.510 0.510 0.510 0.733 0.733 0.733 0.847 0.647 0.647 0.647 0.647 0.647 0.647 0.647 0.647 0.647"/></feComponentTransfer></filter>
<clipPath id="zcd1"><path d="M68.0,-46.5L63.2,-45.0L63.4,-43.5L63.6,-42.0L63.8,-40.5L64.3,-39.0L64.9,-37.5L65.5,-36.0L66.1,-34.5L66.7,-33.0L66.2,-31.5L65.6,-30.0L65.0,-28.5L64.4,-27.0L64.2,-25.5L65.1,-24.0L66.1,-22.5L67.0,-21.0L67.8,-19.5L68.6,-18.0L69.3,-16.5L69.5,-15.0L69.8,-13.5L70.0,-12.0L70.2,-10.5L70.4,-9.0L70.5,-7.5L70.7,-6.0L70.8,-4.5L71.0,-3.0L71.1,-1.5L71.3,0.0L71.4,1.5L70.9,3.0L70.3,4.5L69.8,6.0L69.2,7.5L68.7,9.0L68.1,10.5L67.6,12.0L67.0,13.5L66.3,15.0L65.5,16.5L64.8,18.0L64.1,19.5L63.2,21.0L62.2,22.5L61.3,24.0L60.6,25.5L60.2,27.0L59.7,28.5L59.2,30.0L58.8,31.5L58.3,33.0L57.9,34.5L57.5,36.0L57.1,37.5L56.8,39.0L56.4,40.5L56.0,42.0L55.6,43.5L55.2,45.0L54.9,46.5L54.5,48.0L54.3,49.5L54.1,51.0L53.8,52.5L53.2,54.0L52.6,55.5L52.1,57.0L52.1,58.5L52.0,59.5L56.8,59.5L57.6,58.5L58.7,57.0L60.0,55.5L61.3,54.0L62.6,52.5L63.2,51.0L63.5,49.5L63.8,48.0L64.1,46.5L64.5,45.0L64.9,43.5L65.3,42.0L65.6,40.5L66.0,39.0L66.4,37.5L66.8,36.0L67.1,34.5L67.5,33.0L67.8,31.5L68.2,30.0L68.5,28.5L68.8,27.0L69.2,25.5L70.1,24.0L71.7,22.5L73.4,21.0L74.9,19.5L76.0,18.0L77.1,16.5L78.1,15.0L79.2,13.5L79.9,12.0L80.5,10.5L81.0,9.0L81.6,7.5L82.2,6.0L82.8,4.5L83.3,3.0L83.9,1.5L83.8,0.0L83.7,-1.5L83.6,-3.0L83.5,-4.5L83.5,-6.0L83.4,-7.5L83.3,-9.0L83.1,-10.5L82.9,-12.0L82.6,-13.5L82.4,-15.0L82.1,-16.5L81.6,-18.0L81.0,-19.5L80.4,-21.0L79.5,-22.5L78.6,-24.0L77.7,-25.5L77.4,-27.0L77.4,-28.5L77.3,-30.0L77.3,-31.5L77.1,-33.0L76.1,-34.5L75.1,-36.0L74.1,-37.5L73.1,-39.0L72.1,-40.5L71.2,-42.0L70.3,-43.5L69.4,-45.0L68.0,-46.5Z"/></clipPath>
<g clip-path="url(#dcd)"><g clip-path="url(#zcd1)"><rect x="40" y="-75" width="62" height="150" filter="url(#nzd1)"/></g></g>
<filter id="nzd2" x="-100" y="-80" width="200" height="160" filterUnits="userSpaceOnUse" color-interpolation-filters="sRGB"><feTurbulence type="fractalNoise" baseFrequency="0.2 0.12" numOctaves="2" seed="20"/><feColorMatrix type="matrix" values="1 0 0 0 0 1 0 0 0 0 1 0 0 0 0 0 0 0 0 1"/><feComponentTransfer><feFuncR type="table" tableValues="0.482 0.482 0.482 0.482 0.482 0.482 0.482 0.482 0.357 0.549 0.549 0.780 0.780 0.780 0.780 0.780 0.780 0.780 0.780 0.780 0.780 0.780 0.780 0.780 0.780"/><feFuncG type="table" tableValues="0.490 0.490 0.490 0.490 0.490 0.490 0.490 0.490 0.545 0.729 0.729 0.706 0.706 0.706 0.706 0.706 0.706 0.706 0.706 0.706 0.706 0.706 0.706 0.706 0.706"/><feFuncB type="table" tableValues="0.510 0.510 0.510 0.510 0.510 0.510 0.510 0.510 0.733 0.847 0.847 0.647 0.647 0.647 0.647 0.647 0.647 0.647 0.647 0.647 0.647 0.647 0.647 0.647 0.647"/></feComponentTransfer></filter>
<clipPath id="zcd2"><path d="M68.0,-46.5L69.4,-45.0L70.3,-43.5L71.2,-42.0L72.1,-40.5L73.1,-39.0L74.1,-37.5L75.1,-36.0L76.1,-34.5L77.1,-33.0L77.3,-31.5L77.3,-30.0L77.4,-28.5L77.4,-27.0L77.7,-25.5L78.6,-24.0L79.5,-22.5L80.4,-21.0L81.0,-19.5L81.6,-18.0L82.1,-16.5L82.4,-15.0L82.6,-13.5L82.9,-12.0L83.1,-10.5L83.3,-9.0L83.4,-7.5L83.5,-6.0L83.5,-4.5L83.6,-3.0L83.7,-1.5L83.8,0.0L83.9,1.5L83.3,3.0L82.8,4.5L82.2,6.0L81.6,7.5L81.0,9.0L80.5,10.5L79.9,12.0L79.2,13.5L78.1,15.0L77.1,16.5L76.0,18.0L74.9,19.5L73.4,21.0L71.7,22.5L70.1,24.0L69.2,25.5L68.8,27.0L68.5,28.5L68.2,30.0L67.8,31.5L67.5,33.0L67.1,34.5L66.8,36.0L66.4,37.5L66.0,39.0L65.6,40.5L65.3,42.0L64.9,43.5L64.5,45.0L64.1,46.5L63.8,48.0L63.5,49.5L63.2,51.0L62.6,52.5L61.3,54.0L60.0,55.5L58.7,57.0L57.6,58.5L56.8,59.5L65.0,59.5L66.7,58.5L69.2,57.0L71.5,55.5L73.7,54.0L76.0,52.5L76.9,51.0L77.3,49.5L77.6,48.0L78.0,46.5L78.4,45.0L78.8,43.5L79.1,42.0L79.5,40.5L79.9,39.0L80.3,37.5L80.6,36.0L81.0,34.5L81.3,33.0L81.5,31.5L81.7,30.0L81.8,28.5L82.0,27.0L82.2,25.5L83.3,24.0L86.0,22.5L88.6,21.0L90.9,19.5L92.4,18.0L93.9,16.5L95.4,15.0L96.9,13.5L97.7,12.0L98.3,10.5L98.9,9.0L99.5,7.5L100.1,6.0L100.7,4.5L101.3,3.0L101.9,1.5L101.9,0.0L101.9,-1.5L101.9,-3.0L101.9,-4.5L101.9,-6.0L101.9,-7.5L101.9,-9.0L101.8,-10.5L101.5,-12.0L101.2,-13.5L100.9,-15.0L100.6,-16.5L100.3,-18.0L100.0,-19.5L99.7,-21.0L98.9,-22.5L98.0,-24.0L97.1,-25.5L96.2,-27.0L95.3,-28.5L94.4,-30.0L93.5,-31.5L92.5,-33.0L91.0,-34.5L89.5,-36.0L88.0,-37.5L86.5,-39.0L84.8,-40.5L83.0,-42.0L81.2,-43.5L79.4,-45.0L70.1,-46.5Z"/></clipPath>
<g clip-path="url(#dcd)"><g clip-path="url(#zcd2)"><rect x="40" y="-75" width="62" height="150" filter="url(#nzd2)"/></g></g>
<filter id="spd0" x="-100" y="-80" width="200" height="160" filterUnits="userSpaceOnUse" color-interpolation-filters="sRGB"><feTurbulence type="fractalNoise" baseFrequency="0.25" numOctaves="2" seed="70"/><feColorMatrix type="matrix" values="0 0 0 0 0.902 0 0 0 0 0.902 0 0 0 0 0.902 1 0 0 0 0"/><feComponentTransfer><feFuncA type="discrete" tableValues="0 0 0 0 0 0 0 0 0 0 0 0 0 0 0 0 0 0 0 0 0 0 0 0 0 0 0 0 0 0 1 1 1 1 1 1 1 1 1 1"/></feComponentTransfer></filter>
<g clip-path="url(#dcd)"><rect x="40" y="-75" width="62" height="150" filter="url(#spd0)"/></g>
<filter id="nzdx" x="-100" y="-80" width="200" height="160" filterUnits="userSpaceOnUse" color-interpolation-filters="sRGB"><feTurbulence type="fractalNoise" baseFrequency="0.2 0.12" numOctaves="2" seed="29"/><feColorMatrix type="matrix" values="1 0 0 0 0 1 0 0 0 0 1 0 0 0 0 0 0 0 0 1"/><feComponentTransfer><feFuncR type="table" tableValues="0.482 0.482 0.482 0.482 0.482 0.482 0.482 0.482 0.482 0.482 0.482 0.482 0.357 0.357 0.357 0.549 0.780 0.780 0.780 0.780 0.780 0.780 0.780 0.780 0.780"/><feFuncG type="table" tableValues="0.490 0.490 0.490 0.490 0.490 0.490 0.490 0.490 0.490 0.490 0.490 0.490 0.545 0.545 0.545 0.729 0.706 0.706 0.706 0.706 0.706 0.706 0.706 0.706 0.706"/><feFuncB type="table" tableValues="0.510 0.510 0.510 0.510 0.510 0.510 0.510 0.510 0.510 0.510 0.510 0.510 0.733 0.733 0.733 0.847 0.647 0.647 0.647 0.647 0.647 0.647 0.647 0.647 0.647"/></feComponentTransfer></filter>
<clipPath id="xcd"><path d="M44.0,-63.0L46.1,-63.6L48.0,-63.5L48.0,-61.9L49.1,-61.3L50.2,-59.3L52.1,-58.4L52.0,-57.0L54.1,-54.9L53.9,-55.4L55.0,-52.8L57.0,-51.4L58.0,-51.0L60.1,-49.6L60.6,-49.5L60.9,-47.1L63.0,-46.5L61.7,-45.5L59.7,-45.4L57.9,-45.6L56.1,-45.8L54.0,-47.0L52.1,-48.2L51.3,-48.8L51.1,-51.0L48.4,-52.3L48.0,-53.0L46.7,-54.0L45.8,-55.6L44.6,-57.5L44.0,-59.0L43.4,-60.7L44.0,-63.0Z"/><path d="M80.0,27.0L80.7,26.3L83.0,27.3L84.1,26.3L85.9,27.5L88.0,27.0L87.4,29.0L88.4,29.5L88.3,31.6L88.1,34.2L87.6,34.0L89.2,36.3L88.5,38.0L86.5,37.7L85.3,38.8L83.5,37.5L82.7,38.1L81.0,38.0L81.7,37.0L80.5,34.3L81.2,34.2L79.6,32.1L80.9,30.4L79.6,29.1L80.0,27.0Z"/><path d="M55.0,62.0L56.0,61.5L58.1,62.7L60.2,62.4L62.0,62.0L61.3,63.5L62.6,65.0L62.8,67.2L62.0,68.0L60.0,67.1L59.0,67.3L55.9,68.4L55.0,68.0L55.6,67.1L55.8,64.5L54.2,62.8L55.0,62.0Z"/><path d="M28.4,68.9L30.4,69.1L32.7,68.5L34.0,68.9L34.3,71.3L34.7,71.7L34.0,74.0L32.4,74.2L30.3,74.8L28.4,74.0L28.5,72.2L29.2,70.8L28.4,68.9Z"/><path d="M31.0,16.0L32.7,16.2L35.0,16.7L36.0,16.0L36.7,17.4L36.8,19.1L35.7,20.1L36.0,22.5L34.4,21.9L32.3,22.7L31.0,22.5L31.5,21.3L30.3,18.5L30.6,17.7L31.0,16.0Z"/><path d="M-87.0,-49.0L-85.2,-48.8L-83.1,-48.8L-82.1,-48.9L-80.0,-50.0L-78.4,-49.2L-76.5,-48.5L-75.9,-49.1L-73.6,-48.3L-72.0,-48.4L-70.2,-48.6L-69.1,-47.6L-68.0,-47.0L-68.9,-44.9L-68.8,-44.0L-68.3,-42.4L-68.0,-40.0L-70.1,-40.5L-70.4,-40.3L-73.1,-40.0L-73.3,-38.9L-74.9,-37.9L-77.0,-38.7L-78.7,-38.7L-80.0,-38.0L-81.6,-37.7L-83.5,-38.5L-84.5,-38.9L-87.0,-40.0L-86.7,-41.4L-87.7,-43.2L-86.4,-44.6L-86.7,-46.4L-86.9,-48.0L-87.0,-49.0Z"/><path d="M-94.5,-42.0L-93.2,-41.1L-90.4,-41.2L-89.1,-41.3L-88.0,-42.0L-89.0,-40.1L-88.7,-38.3L-88.5,-37.0L-88.4,-35.4L-88.0,-33.0L-89.0,-31.7L-88.2,-30.8L-89.0,-29.0L-91.2,-29.0L-91.5,-29.0L-93.5,-29.0L-94.2,-30.3L-94.1,-31.6L-94.5,-33.7L-94.2,-34.6L-94.8,-36.4L-94.4,-39.0L-94.9,-40.4L-94.5,-42.0Z"/><path d="M-19.0,-68.0L-17.0,-68.7L-15.5,-67.4L-14.0,-68.0L-13.4,-66.1L-13.8,-64.6L-14.0,-62.5L-15.6,-63.2L-17.0,-62.3L-19.0,-62.5L-19.4,-64.6L-18.6,-66.3L-19.0,-68.0Z"/></clipPath>
<g clip-path="url(#xcd)"><rect x="-100" y="-75" width="200" height="150" filter="url(#nzdx)"/></g>
<path fill="#ebebeb" d="M74.9,-31.9L76.4,-32.3L77.8,-31.2L80.0,-31.9L80.7,-30.1L81.3,-29.0L82.2,-27.2L82.8,-25.5L83.5,-24.3L83.6,-22.7L83.8,-21.8L85.4,-20.3L86.0,-18.1L85.8,-16.4L86.5,-14.8L88.5,-14.4L88.7,-12.5L89.2,-10.4L88.4,-8.8L88.6,-6.7L89.7,-4.9L88.8,-4.3L89.7,-2.3L89.7,-0.5L88.8,1.6L89.7,2.2L88.3,4.4L88.7,5.8L87.2,7.2L86.0,8.0L85.4,6.3L84.1,4.3L84.2,3.7L83.6,2.2L83.3,0.9L82.9,-1.6L81.5,-3.5L81.5,-4.4L80.4,-5.3L81.3,-7.0L79.7,-8.7L79.4,-9.9L79.9,-11.6L79.4,-13.7L79.4,-14.3L78.5,-16.6L77.6,-18.2L78.0,-19.2L77.0,-21.1L77.5,-22.8L75.8,-23.6L75.5,-24.7L75.4,-26.8L75.0,-27.8L74.9,-29.6L74.9,-31.9Z"/>
<path stroke="#000" stroke-width="0.8" fill="none" stroke-linejoin="round" d="M-97.0,-36.0L-96.5,-37.7L-95.8,-39.6L-93.4,-40.3L-92.7,-40.8L-91.8,-41.6L-89.3,-41.7L-88.0,-43.0L-87.2,-44.0L-85.6,-43.6L-82.8,-45.7L-80.6,-44.5L-80.0,-46.0L-77.7,-45.4L-76.7,-46.3L-74.0,-45.0L-71.9,-45.7L-70.6,-45.1L-68.0,-44.4L-67.1,-44.2L-64.5,-43.2L-62.5,-43.4L-60.7,-43.1L-58.9,-43.7L-57.0,-43.0L-54.2,-42.2L-52.7,-43.0L-52.0,-44.1L-50.2,-44.7L-48.0,-44.0L-45.7,-43.9L-43.8,-43.7L-41.8,-42.6L-41.0,-43.0L-40.4,-44.3L-37.0,-44.5L-35.3,-45.4L-35.5,-45.6L-32.5,-47.0L-31.5,-47.3L-31.3,-49.0L-28.5,-49.6L-29.1,-52.0L-28.1,-53.8L-26.3,-54.3L-24.6,-56.3L-24.1,-57.2L-23.7,-58.0L-22.8,-59.6L-21.0,-61.3L-20.4,-62.5L-18.9,-63.9L-17.0,-64.5L-15.8,-64.8L-14.3,-62.5L-15.0,-60.6L-14.0,-59.6L-12.8,-58.6L-9.8,-57.0L-8.8,-56.1L-7.8,-54.5L-5.8,-55.4L-3.5,-54.3L-1.7,-53.5L-1.0,-52.0"/>
<path stroke="#000" stroke-width="1.3" fill="none" d="M-88.0,-43.0L-86.1,-44.4L-85.5,-44.4L-84.0,-45.1L-83.2,-44.1L-82.3,-43.9L-82.5,-45.6L-80.6,-46.1L-80.0,-46.0L-79.5,-46.4L-77.3,-44.9L-76.4,-46.1L-75.2,-45.3L-75.5,-45.3L-74.0,-45.0L-73.2,-45.7L-71.9,-45.1L-70.9,-43.8L-69.7,-44.8L-68.3,-43.5L-68.0,-44.4L-67.0,-43.4L-67.0,-44.9L-65.7,-43.1L-63.6,-43.5L-63.4,-43.8L-61.2,-44.4L-61.8,-44.4L-60.1,-42.7L-58.9,-43.5L-58.0,-43.8L-57.0,-43.0L-55.1,-43.4L-55.5,-43.6L-53.4,-43.7L-52.2,-43.8L-52.1,-44.4L-50.2,-43.1L-50.1,-44.5L-49.0,-44.1L-48.0,-44.0L-46.3,-43.0L-45.5,-44.1L-45.9,-42.8L-43.1,-44.1L-43.0,-43.3L-41.0,-44.1L-41.0,-43.0L-40.9,-42.7L-39.0,-43.9L-37.6,-44.1L-36.8,-45.2L-37.1,-46.1L-35.6,-45.3L-34.6,-46.3L-33.2,-46.0L-32.3,-47.2L-31.5,-47.3"/>
<path stroke="#000" stroke-width="1.0" fill="none" d="M-95.8,-39.0L-96.3,-37.4L-96.5,-35.9L-96.8,-34.0L-97.3,-32.4L-97.2,-31.0L-98.2,-29.5L-98.0,-28.0L-97.8,-26.0L-98.4,-24.0L-98.2,-21.8L-99.1,-20.2L-98.5,-19.0L-99.8,-17.7L-99.3,-16.0L-99.3,-14.5L-100.0,-12.8L-100.1,-10.3L-99.9,-9.0L-100.2,-7.4L-99.9,-4.9L-100.5,-4.4L-100.3,-2.0L-99.7,0.3L-100.0,1.7L-100.9,3.1L-100.6,5.4"/>
<path stroke="#000" stroke-width="0.8" fill="none" stroke-linejoin="round" d="M-1.0,-52.0L-2.3,-50.2L-3.5,-49.0L-5.0,-48.8L-7.9,-47.5L-8.8,-46.4L-11.4,-45.0L-13.1,-44.7L-12.5,-42.8L-12.5,-40.9L-12.3,-39.4L-14.1,-38.0L-15.2,-35.7L-15.8,-35.0L-18.3,-33.3L-20.0,-32.3L-21.0,-31.5L-22.6,-30.4L-23.0,-29.8L-25.8,-26.9L-26.3,-26.3L-27.6,-25.3L-28.9,-22.8L-29.5,-20.8L-32.5,-20.6L-33.3,-19.3L-35.1,-17.9L-35.4,-16.4L-36.8,-14.0L-37.6,-13.1L-39.7,-10.0L-40.3,-8.8L-41.6,-7.2L-42.5,-5.3L-43.8,-3.5L-45.3,-3.0L-46.0,-0.0L-46.8,0.8L-49.0,1.8L-49.9,3.3L-49.9,5.6L-50.8,7.0"/>
<path stroke="#000" stroke-width="0.8" fill="none" stroke-linejoin="round" d="M1.0,-52.0L2.7,-51.9L5.3,-52.6L7.4,-51.9L8.2,-53.1L9.8,-53.1L12.7,-53.3L14.0,-52.6L14.5,-54.6L14.4,-55.7L16.0,-56.8L15.7,-58.5L15.9,-59.9L17.4,-59.8L19.9,-60.9L20.5,-62.5L22.8,-62.8L24.6,-63.5L24.8,-64.2L26.9,-65.2L28.5,-66.5L30.2,-66.9L31.4,-67.1L32.9,-68.0L35.5,-66.8L37.5,-67.3L38.2,-67.4L39.7,-68.1L40.6,-67.7L42.8,-68.7L44.0,-68.1L45.7,-68.2L47.8,-68.1L49.6,-68.7L50.3,-68.9L52.1,-69.8L54.2,-69.7L55.2,-70.5L56.5,-70.5L59.0,-71.3L61.5,-70.7L62.6,-68.8L63.8,-68.9L64.2,-68.8L67.0,-66.6L68.0,-67.2L68.8,-65.0L70.3,-64.9L72.7,-63.5L73.5,-63.3L73.4,-61.0L74.3,-59.7L75.1,-58.5L75.4,-56.5L77.4,-55.9L77.7,-55.0L79.5,-54.0L80.2,-52.6L81.5,-52.0L82.8,-52.4L84.0,-51.6L85.5,-52.5L87.9,-52.0L88.8,-51.2L91.6,-50.9L92.3,-50.6L95.0,-50.0"/>
<path stroke="#000" stroke-width="0.8" fill="none" stroke-linejoin="round" d="M30.0,17.0L30.9,17.1L33.7,17.2L34.6,15.5L37.2,15.9L38.0,15.6L39.8,15.5L41.0,14.0L43.4,14.2L43.2,12.6L40.9,12.2L40.7,9.5L39.5,9.2L38.4,7.6L36.4,6.6L35.0,4.6L33.6,3.0L34.1,2.0L31.8,0.9L31.8,-0.7L30.1,-1.3L29.3,-4.3L28.0,-5.0L27.9,-6.6L26.8,-9.5L27.8,-10.4L26.8,-12.3L25.4,-14.1L24.7,-15.2L24.5,-17.5L24.0,-19.9L24.1,-21.6L22.4,-23.3L22.8,-24.8L21.8,-25.6L20.1,-27.0L18.3,-26.4L16.6,-27.3L16.0,-28.9L15.3,-30.4L14.8,-32.6L14.0,-33.3L13.4,-35.6L13.6,-35.9L12.3,-38.5L9.7,-40.1L8.8,-40.3L8.3,-41.9L6.1,-43.4L7.1,-45.7L5.3,-47.3L3.8,-48.3L3.8,-50.1L1.8,-50.8L1.0,-52.0"/>
<path fill="#e6e6e6" stroke="#000" stroke-width="0.6" d="M-23.8,-19.8L-24.9,-19.2L-26.5,-18.8L-28.4,-18.9L-28.5,-19.6L-28.2,-20.7L-26.6,-21.8L-24.8,-20.9ZM-27.7,-16.5L-28.2,-15.5L-29.5,-16.0L-30.2,-16.4L-29.5,-17.3L-28.3,-17.2ZM-28.4,-17.3L-29.2,-15.8L-30.3,-16.0L-31.3,-16.7L-32.3,-16.7L-31.8,-17.8L-31.2,-18.6L-30.1,-18.7L-29.4,-18.3ZM-21.3,-11.1L-21.8,-7.3L-23.1,-8.5L-26.5,-8.5L-25.6,-9.7L-26.6,-11.2L-25.7,-11.9L-23.0,-14.2L-21.5,-12.4ZM-42.2,4.0L-43.0,5.3L-44.0,5.6L-45.1,6.4L-47.1,4.2L-46.5,3.7L-45.0,1.8L-44.5,1.2L-42.8,3.2ZM-22.1,-0.5L-22.0,1.3L-24.1,0.9L-25.4,0.9L-24.7,-1.3L-23.9,-2.3L-21.9,-2.3ZM-33.2,1.3L-33.1,1.9L-34.1,2.7L-35.3,2.3L-34.8,1.6L-35.4,1.0L-34.4,0.1L-33.7,0.5L-32.5,0.6ZM-28.3,-17.7L-29.5,-15.5L-30.9,-14.7L-33.4,-15.2L-34.3,-17.0L-32.5,-18.2L-32.5,-19.9L-30.1,-18.6ZM-14.3,-16.6L-15.5,-14.8L-17.5,-13.6L-19.2,-16.3L-18.4,-19.1L-15.0,-17.8ZM-31.9,-16.9L-32.3,-16.1L-33.1,-16.0L-33.4,-16.5L-33.5,-17.2L-32.9,-17.8L-32.2,-17.3ZM-23.7,-8.9L-23.6,-6.4L-25.3,-7.6L-26.0,-7.6L-27.0,-8.6L-26.5,-9.2L-25.8,-10.6L-25.2,-10.0L-24.2,-9.6ZM-39.9,-2.3L-40.4,-2.2L-40.8,-1.4L-41.7,-1.7L-42.0,-2.6L-42.9,-2.8L-42.2,-3.7L-40.6,-4.4L-39.6,-3.5ZM-28.8,-7.4L-29.0,-6.2L-30.1,-5.5L-30.9,-6.4L-31.5,-7.0L-30.7,-7.9L-29.9,-8.0L-29.3,-7.8ZM-33.9,-13.2L-34.7,-11.4L-36.0,-10.4L-38.0,-12.0L-39.4,-13.4L-38.9,-15.9L-36.8,-14.5L-34.8,-15.9ZM-38.8,5.7L-40.7,8.0L-42.2,10.0L-44.9,7.5L-44.0,6.3L-42.5,4.0L-40.9,5.1ZM-35.9,-3.3L-37.1,-2.1L-38.1,-2.1L-38.6,-3.2L-38.2,-4.5L-36.8,-3.8ZM-24.2,-17.5L-25.5,-16.0L-27.5,-14.7L-29.5,-15.6L-28.7,-17.3L-29.0,-18.3L-28.8,-20.2L-26.7,-19.3L-24.8,-19.2ZM-29.3,-3.0L-29.4,-2.3L-30.1,-2.0L-30.5,-1.8L-31.1,-2.7L-30.7,-3.0L-30.6,-3.4L-30.0,-3.7L-28.9,-3.4ZM-28.7,-8.1L-29.3,-7.5L-31.0,-6.4L-32.1,-9.1L-30.8,-9.2L-29.6,-9.4ZM-26.8,-3.5L-27.5,-3.2L-28.6,-2.7L-29.1,-3.5L-28.2,-4.5L-27.3,-4.5ZM-23.3,3.8L-22.9,5.2L-24.9,4.9L-25.9,4.9L-25.9,3.8L-25.7,2.9L-25.1,2.7L-23.3,3.6ZM-42.2,5.1L-43.1,6.0L-43.8,6.5L-44.9,5.3L-45.3,4.6L-44.1,4.3L-42.2,4.3ZM-31.2,-18.2L-31.6,-17.0L-32.9,-16.6L-33.4,-18.1L-33.0,-19.1L-31.9,-19.2ZM-21.1,2.5L-21.3,3.8L-22.3,3.7L-23.8,3.0L-23.8,2.3L-22.5,1.7L-21.7,2.2ZM-13.8,-19.3L-14.4,-18.1L-16.7,-15.4L-18.1,-16.7L-18.6,-17.5L-18.8,-19.2L-18.8,-21.0L-16.8,-21.2L-15.1,-20.7ZM-25.6,-20.6L-25.5,-19.6L-26.5,-19.5L-26.7,-19.3L-27.6,-19.9L-27.3,-20.8L-27.6,-21.3L-26.2,-22.0L-25.2,-21.1ZM-27.5,4.9L-27.5,5.5L-29.0,5.8L-29.0,4.6L-28.5,4.0L-27.6,4.1ZM-34.0,5.6L-35.1,6.4L-35.5,6.7L-36.6,6.4L-36.2,5.3L-35.7,4.9L-34.9,5.4ZM-42.4,-4.1L-43.3,-3.6L-43.5,-2.3L-45.8,-3.5L-45.7,-4.1L-44.8,-5.4L-44.2,-6.3L-43.0,-6.2ZM-19.3,0.9L-19.9,1.7L-20.9,2.3L-22.8,1.5L-22.7,0.5L-22.3,-0.6L-20.5,-1.6L-20.2,-1.5ZM-37.0,-6.1L-37.8,-5.2L-39.8,-5.2L-42.2,-6.1L-40.3,-7.4L-37.5,-7.9ZM-30.9,-20.8L-31.7,-20.6L-32.6,-19.9L-33.1,-20.4L-33.2,-21.3L-32.5,-21.8L-31.7,-21.4ZM-26.8,-2.9L-27.7,-2.6L-28.7,-2.2L-29.5,-3.3L-28.7,-4.2L-27.3,-4.8ZM-21.2,4.1L-22.3,4.8L-24.2,5.6L-25.2,3.3L-24.3,3.0L-22.6,1.7ZM-42.0,-4.2L-42.9,-3.1L-44.2,-2.4L-45.1,-2.3L-44.2,-4.4L-44.0,-6.0L-42.5,-4.7ZM-37.4,-10.6L-37.6,-9.3L-38.3,-6.9L-40.0,-7.5L-42.1,-9.0L-41.8,-11.3L-40.8,-12.1L-39.0,-12.8L-38.2,-11.2ZM-28.3,-14.7L-29.4,-14.4L-31.3,-12.8L-31.7,-13.4L-33.9,-14.3L-34.2,-16.7L-31.8,-16.0L-30.6,-17.0L-29.4,-17.2ZM-19.8,0.5L-19.3,2.5L-22.3,2.3L-23.3,1.3L-23.4,0.5L-22.3,-0.6L-19.5,-0.5ZM-20.7,-18.2L-20.8,-17.1L-22.5,-16.0L-23.6,-17.6L-24.1,-18.4L-24.2,-20.1L-22.7,-20.2L-20.2,-20.1ZM-22.3,-15.6L-22.3,-14.9L-22.9,-14.5L-24.4,-14.5L-24.5,-15.2L-24.5,-15.9L-24.2,-17.0L-23.7,-16.6L-22.3,-17.2ZM-41.6,2.0L-43.0,2.3L-43.5,3.0L-45.5,3.0L-46.2,2.2L-47.1,0.8L-45.9,-0.4L-44.6,-1.7L-42.1,0.5ZM-32.2,-9.1L-33.3,-8.4L-36.1,-6.3L-37.9,-9.8L-35.9,-11.8L-33.6,-11.1ZM-13.5,-16.5L-15.9,-14.1L-17.8,-13.5L-20.5,-15.4L-17.8,-18.8L-15.7,-17.1ZM-44.0,5.9L-44.5,6.2L-44.9,6.7L-46.6,6.2L-46.7,5.9L-45.9,5.3L-45.0,4.6L-44.1,4.5ZM-22.3,-1.5L-22.4,0.5L-24.1,-0.1L-24.2,-0.7L-24.7,-1.7L-24.0,-2.2L-22.3,-2.2ZM-31.7,0.4L-31.5,1.4L-33.2,1.6L-33.8,0.2L-33.9,-0.8L-32.2,-0.9Z"/>
<path fill="none" stroke="#000" stroke-width="0.7" d="M-39.7,5.6L-40.4,4.7L-39.8,4.7L-41.0,5.1L-42.2,6.0M-29.3,1.7L-28.9,1.2L-29.2,0.9L-28.0,-0.3L-26.8,-1.7M-24.4,-5.5L-24.7,-4.3L-25.5,-4.4L-25.4,-3.7L-24.7,-3.2M-37.6,-9.8L-38.7,-8.8L-38.2,-8.1L-39.2,-8.3L-38.4,-8.0M-43.0,-6.4L-41.8,-7.2L-42.7,-7.8L-42.1,-6.8L-43.2,-7.8M-40.1,-9.8L-40.0,-10.9L-40.5,-11.8L-39.1,-11.1L-40.3,-9.7M-22.4,1.9L-21.7,1.7L-22.6,2.1L-23.8,1.2L-24.1,-0.2M-36.4,1.8L-35.8,1.8L-35.4,1.7L-36.5,2.0L-36.8,2.7M-24.2,-7.2L-24.0,-6.5L-24.2,-7.3L-23.6,-6.2L-22.7,-5.6M-25.5,-1.0L-25.1,-1.1L-25.7,-0.8L-26.9,-1.0L-26.0,-0.4M-30.9,-11.7L-31.1,-11.9L-30.8,-12.2L-30.2,-10.9L-31.2,-10.4M-27.3,-8.3L-27.4,-6.9L-28.7,-6.7L-29.8,-5.9L-28.4,-5.8M-43.6,-3.6L-43.5,-3.0L-43.4,-2.6L-42.4,-2.5L-42.7,-1.2M-41.0,-0.9L-41.3,-0.1L-42.4,1.4L-42.8,0.0L-43.5,-0.3M-35.9,-0.5L-36.4,-1.2L-37.2,-0.5L-35.9,-0.4L-36.7,0.5M-36.6,-12.7L-37.7,-11.9L-36.8,-11.5L-36.9,-11.3L-37.7,-9.9M-37.5,-2.0L-36.6,-1.1L-36.7,-1.7L-36.5,-2.8L-35.5,-3.3M-25.6,-11.3L-26.0,-12.1L-26.2,-13.0L-27.7,-12.3L-28.3,-13.1M-38.8,-6.0L-39.0,-5.6L-38.5,-6.0L-37.2,-4.9L-38.5,-4.0M-24.3,1.6L-25.3,2.6L-24.9,1.1L-26.4,2.5L-25.9,1.7M-40.4,1.4L-40.9,0.4L-39.6,1.2L-40.6,2.4L-40.3,3.3M-30.0,4.3L-29.1,5.4L-30.0,5.9L-29.9,6.7L-30.1,7.8M-32.7,-11.4L-33.5,-12.5L-33.5,-13.8L-33.6,-14.9L-33.6,-14.9M-33.1,3.6L-34.5,4.6L-34.6,4.8L-34.1,5.8L-34.5,5.6M-22.9,-16.1L-22.5,-15.7L-23.9,-15.4L-23.4,-14.1L-23.9,-12.6M-33.7,-5.9L-32.6,-7.3L-31.9,-6.9L-32.4,-5.8L-32.8,-5.9"/>
<path fill="none" stroke="#000" stroke-width="1.0" d="M30.5,18.0l0.4,1.6M30.4,20.4l-0.1,1.6M30.7,22.8l0.1,1.6M31.3,25.2l-0.3,1.6M31.4,27.6l-0.2,1.6M31.3,30.0l-0.4,1.6M31.4,32.4l0.8,1.6M31.7,34.8l0.5,1.6M31.5,37.2l-0.3,1.6"/>
<path fill="none" stroke="#000" stroke-width="0.5" d="M31.7,15.5L32.1,16.4L30.7,17.0L31.9,17.2L30.5,16.6M26.1,1.6L27.4,2.0L27.9,2.8L29.1,3.2L29.4,3.6M39.2,15.9L39.8,15.0L40.3,14.9L41.1,13.7L40.1,12.3M40.7,27.0L41.2,26.6L42.2,27.5L42.3,26.7L41.7,26.5M32.1,10.1L32.5,11.4L31.1,11.6L29.8,10.4L30.7,10.7M43.5,10.6L42.0,10.3L42.3,11.6L43.7,11.5L43.5,10.3M38.2,2.4L37.2,1.0L35.7,1.5L34.6,2.9L33.3,4.0M28.5,-4.4L29.1,-5.2L29.8,-6.1L28.5,-5.3L29.1,-4.2M39.9,-2.0L40.3,-1.4L40.1,-0.1L39.4,1.3L40.0,-0.2M26.3,17.8L27.2,16.5L26.7,17.2L25.7,18.3L25.6,17.0M33.0,15.1L32.8,15.7L31.7,16.5L31.3,17.0L31.7,16.7M33.3,22.5L34.7,23.4L34.9,22.7L33.5,24.2L34.2,25.2M32.3,16.2L33.7,17.2L34.0,16.6L33.8,17.8L33.5,18.3M37.4,26.4L38.4,25.7L36.9,25.0L36.6,25.3L37.6,26.4M26.8,24.2L27.7,25.3L28.0,24.6L29.0,25.5L29.6,26.7M32.6,-2.0L32.8,-1.1L31.9,-0.4L33.1,-1.2L33.5,-0.6M34.8,2.2L34.1,3.0L35.0,2.9L33.7,3.8L34.6,3.0M37.0,26.4L38.2,26.5L38.1,26.7L37.2,25.8L36.2,26.4M32.9,14.8L32.6,14.8L31.5,13.4L33.0,13.1L31.9,13.5M41.0,0.5L41.3,0.0L41.3,-1.4L39.9,0.0L41.0,-0.0M36.8,4.2L37.6,3.9L39.0,4.7L39.9,6.1L39.2,4.7M29.8,1.3L28.6,-0.0L28.7,1.1L28.6,2.4L29.8,1.1M37.4,8.9L36.2,10.3L35.5,10.5L35.9,11.8L36.4,11.5M34.5,0.6L35.9,2.1L35.1,0.7L34.3,0.2L35.6,1.5M41.9,-3.4L42.8,-2.7L43.2,-1.3L41.9,-2.3L42.6,-1.0"/>
</g>
<g fill="none" stroke="#555" stroke-width="0.6" stroke-dasharray="3,2.6">
<circle r="97.6"/><circle r="57"/>
<path d="M-45,-52 Q0,-86 45,-52"/>
<line x1="0.0" y1="-19.0" x2="0.0" y2="-101.8"/>
<line x1="16.5" y1="-9.5" x2="88.2" y2="-50.9"/>
<line x1="16.5" y1="9.5" x2="88.2" y2="50.9"/>
<line x1="0.0" y1="19.0" x2="0.0" y2="101.8"/>
<line x1="-16.5" y1="9.5" x2="-88.2" y2="50.9"/>
<line x1="-16.5" y1="-9.5" x2="-88.2" y2="-50.9"/>
</g>
<circle r="19" fill="#fff" stroke="#555" stroke-width="0.6"/>
<circle r="101.8" fill="none" stroke="#444" stroke-width="0.8"/>
</g>
<rect x="352" y="390.8" width="141.39999999999998" height="117.19999999999999" fill="#fff"/>
<rect x="405.8" y="427.6" width="21.5" height="55.799999999999955" fill="#8c3d27"/>
<rect x="449.2" y="402.4" width="21.400000000000034" height="81.0" fill="#355f89"/>
<path d="M390,397.3V487.8H485.7" fill="none" stroke="#111" stroke-width="1.3"/>
<line x1="387" y1="483.4" x2="390" y2="483.4" stroke="#111" stroke-width="1.1"/>
<text x="385" y="487.1" font-family="Liberation Sans, sans-serif" font-size="10.3" fill="#222" text-anchor="end">0%</text>
<line x1="387" y1="442.4" x2="390" y2="442.4" stroke="#111" stroke-width="1.1"/>
<text x="385" y="446.1" font-family="Liberation Sans, sans-serif" font-size="10.3" fill="#222" text-anchor="end">30%</text>
<line x1="387" y1="401.3" x2="390" y2="401.3" stroke="#111" stroke-width="1.1"/>
<text x="385" y="405.0" font-family="Liberation Sans, sans-serif" font-size="10.3" fill="#222" text-anchor="end">60%</text>
<line x1="416.3" y1="487.8" x2="416.3" y2="490.8" stroke="#111" stroke-width="1.1"/>
<text x="416.3" y="502" font-family="Liberation Sans, sans-serif" font-size="10.3" fill="#111" text-anchor="middle">Negative</text>
<line x1="459.7" y1="487.8" x2="459.7" y2="490.8" stroke="#111" stroke-width="1.1"/>
<text x="459.7" y="502" font-family="Liberation Sans, sans-serif" font-size="10.3" fill="#111" text-anchor="middle">Positve</text>
<defs><linearGradient id="sgd" x1="0" y1="0" x2="0" y2="1"><stop offset="0" stop-color="#385b87"/><stop offset="0.13" stop-color="#4b729e"/><stop offset="0.3" stop-color="#7eb0d0"/><stop offset="0.5" stop-color="#c7b6a8"/><stop offset="0.7" stop-color="#f0a466"/><stop offset="0.85" stop-color="#c6713f"/><stop offset="1" stop-color="#8e3f28"/></linearGradient></defs>
<rect x="599.3" y="344.3" width="19.100000000000023" height="95.69999999999999" fill="url(#sgd)"/>
<path d="M599.3,368.2h3M615.4,368.2h3" stroke="#fff" stroke-width="0.8" opacity="0.8"/>
<path d="M599.3,392.1h3M615.4,392.1h3" stroke="#fff" stroke-width="0.8" opacity="0.8"/>
<path d="M599.3,416.1h3M615.4,416.1h3" stroke="#fff" stroke-width="0.8" opacity="0.8"/>
<text x="626.1" y="347.9" font-family="Liberation Sans, sans-serif" font-size="10" fill="#1a1a1a">1.0</text>
<text x="626.1" y="371.8" font-family="Liberation Sans, sans-serif" font-size="10" fill="#1a1a1a">0.5</text>
<text x="626.1" y="395.8" font-family="Liberation Sans, sans-serif" font-size="10" fill="#1a1a1a">0.0</text>
<text x="626.1" y="419.7" font-family="Liberation Sans, sans-serif" font-size="10" fill="#1a1a1a">-0.5</text>
<text x="626.1" y="443.6" font-family="Liberation Sans, sans-serif" font-size="10" fill="#1a1a1a">-1.0</text>
<text x="599.3" y="336.8" font-family="Liberation Sans, sans-serif" font-size="13.5" fill="#1a1a1a">slope</text>
<text x="354" y="274" font-family="Liberation Sans, sans-serif" font-size="19" fill="#000">d)</text>
<g transform="translate(471.3,647.1)">
<defs><clipPath id="mcf"><circle r="101.8"/></clipPath></defs>
<g clip-path="url(#mcf)">
<path fill="#e6e6e6" d="M-97.0,-36.0L-95.8,-39.6L-88.0,-43.0L-80.0,-46.0L-74.0,-45.0L-68.0,-44.4L-57.0,-43.0L-48.0,-44.0L-41.0,-43.0L-31.5,-47.3L-26.3,-54.3L-21.0,-61.3L-17.0,-64.5L-15.8,-64.8L-14.0,-59.6L-8.8,-56.1L-3.5,-54.3L-1.0,-52.0L-3.5,-49.0L-8.8,-46.4L-13.1,-44.7L-12.3,-39.4L-15.8,-35.0L-21.0,-31.5L-26.3,-26.3L-28.9,-22.8L-33.3,-19.3L-36.8,-14.0L-40.3,-8.8L-43.8,-3.5L-49.0,1.8L-50.8,7.0L-50.8,20.0L-110.0,20.0L-110.0,-36.0Z"/>
<path fill="#e6e6e6" d="M1.0,-52.0L5.3,-52.6L14.0,-52.6L15.7,-58.5L20.5,-62.5L28.5,-66.5L39.7,-68.1L47.8,-68.1L54.2,-69.7L59.0,-71.3L63.8,-68.9L70.3,-64.9L73.5,-63.3L75.1,-58.5L81.5,-52.0L87.9,-52.0L95.0,-50.0L110.0,-50.0L110.0,110.0L18.0,110.0L18.0,18.0L30.0,17.0L43.4,14.2L38.4,7.6L31.8,0.9L28.0,-5.0L26.8,-12.3L24.5,-17.5L21.8,-25.6L16.6,-27.3L14.0,-33.3L12.3,-38.5L8.8,-40.3L5.3,-47.3L1.8,-50.8L1.0,-52.0Z"/>
<path fill="#fff" stroke="#000" stroke-width="0.7" d="M16.0,-50.0L20.0,-56.0L26.0,-62.0L30.0,-65.5L36.0,-66.8L42.0,-66.0L44.5,-60.0L43.0,-53.0L40.0,-48.5L32.0,-47.5L25.0,-50.0Z"/>
<path fill="#fff" stroke="#000" stroke-width="0.7" d="M47.8,-67.3L49.3,-67.7L51.4,-68.6L52.3,-69.2L53.7,-69.7L55.4,-69.6L58.0,-69.8L59.0,-70.5L60.3,-69.9L62.1,-69.3L62.7,-68.0L64.8,-68.2L65.5,-67.5L68.0,-66.8L69.0,-65.0L70.3,-64.9L70.1,-63.2L71.1,-60.8L71.1,-59.8L71.9,-57.7L70.0,-58.1L68.9,-57.0L67.0,-57.8L65.7,-56.8L63.8,-56.9L62.4,-57.2L61.0,-57.0L59.1,-57.2L57.1,-57.4L56.2,-57.3L54.0,-57.2L52.6,-57.7L51.4,-59.3L49.0,-60.2L47.8,-60.9L47.2,-62.2L48.0,-64.0L48.4,-65.9L47.8,-67.3Z"/>
<ellipse cx="23" cy="-57" rx="8.5" ry="2.2" transform="rotate(-52 23 -57)" fill="#e6e6e6" stroke="#000" stroke-width="0.6"/>
<path fill="#fff" stroke="#000" stroke-width="0.8" d="M39.1,66.0L40.0,65.4L41.2,65.0L42.7,63.5L44.0,63.0L46.1,63.1L47.6,62.5L48.0,61.7L50.0,61.5L51.1,62.1L52.2,62.2L54.0,61.6L56.0,62.0L56.5,63.8L56.5,65.0L55.0,65.8L53.6,66.5L52.0,67.0L50.1,67.2L48.7,68.1L47.9,68.1L47.0,69.0L45.9,71.0L44.9,72.1L45.4,72.3L44.0,74.0L43.2,73.8L41.6,74.1L40.0,75.0L39.2,73.7L38.8,72.9L38.5,71.0L38.9,68.6L39.0,67.0L39.1,66.0Z"/>
<path fill="#fff" stroke="#000" stroke-width="0.8" d="M22.8,78.7L24.2,78.7L26.1,78.1L26.7,78.6L28.4,77.9L29.6,77.7L30.7,78.1L33.2,78.0L34.0,77.6L35.5,78.1L36.4,78.6L38.2,79.6L39.1,80.7L40.1,81.0L41.6,80.6L43.4,79.8L44.8,78.4L46.0,78.5L47.6,77.7L48.4,77.1L49.1,77.1L50.3,76.8L52.4,76.6L53.7,76.0L53.7,73.2L54.5,72.5L54.8,73.2L55.0,75.4L56.2,75.9L56.5,77.8L56.8,78.7L57.5,80.7L57.0,82.0L55.6,82.0L54.8,83.5L53.4,83.8L52.7,84.3L50.2,85.0L49.4,85.8L48.7,85.6L47.1,87.1L45.9,86.7L43.9,87.7L43.0,87.9L40.8,87.9L40.0,88.0L38.9,88.1L36.5,89.5L35.6,89.3L34.0,89.9L32.6,89.8L30.8,89.8L29.6,90.1L29.0,91.7L27.1,90.6L25.8,90.9L24.0,91.1L22.8,92.0L22.8,90.0L22.4,88.9L22.7,88.7L22.9,87.1L23.2,85.4L22.1,83.3L22.2,82.7L22.5,82.0L22.3,79.4L22.8,78.7Z"/>
<path fill="#fff" stroke="#000" stroke-width="0.8" d="M72.9,64.5L75.0,63.1L76.4,62.4L77.0,62.0L78.6,62.4L80.1,61.5L82.0,61.3L81.0,63.5L79.2,64.9L79.3,64.2L76.6,65.3L76.0,66.0L73.5,66.4L72.9,64.5Z"/>
<path fill="#fff" stroke="#000" stroke-width="0.8" d="M-66.0,-2.0L-64.9,-3.1L-62.9,-3.5L-63.1,-3.9L-61.9,-5.5L-60.0,-5.8L-59.3,-5.5L-56.8,-5.4L-56.4,-4.8L-54.1,-5.5L-53.7,-4.9L-52.0,-5.0L-50.2,-3.1L-49.4,-2.2L-49.4,-1.1L-48.0,0.0L-48.3,1.6L-48.4,2.2L-47.9,3.3L-48.9,5.1L-48.1,6.1L-49.0,8.0L-50.2,8.7L-51.4,8.7L-53.1,7.9L-54.4,7.8L-55.8,7.3L-56.1,8.4L-57.9,8.1L-59.9,7.6L-60.0,8.5L-62.1,8.4L-62.7,7.3L-64.9,7.8L-66.0,8.0L-66.3,6.6L-66.3,4.5L-65.4,3.6L-65.5,1.7L-66.3,0.8L-66.7,-0.7L-66.0,-2.0Z"/>
<path fill="none" stroke="#000" stroke-width="0.9" d="M22.5,44.0L24.1,44.5L23.7,45.2L24.5,47.0L26.1,47.2L25.9,49.2L26.0,50.0L27.0,50.8L26.7,51.8L27.5,53.0L26.9,53.6L27.7,55.6L28.5,56.0L27.9,56.1L26.5,57.7L27.0,59.0L27.1,58.6L24.9,60.9L24.0,61.0"/>
<clipPath id="dcf"><path d="M59.7,-45.4L60.9,-45.2L64.2,-46.0L65.2,-45.5L68.0,-46.5L71.0,-46.2L72.5,-46.6L73.4,-46.0L76.9,-45.4L78.8,-45.1L81.1,-43.2L81.4,-42.3L83.8,-39.7L86.5,-37.7L87.5,-36.6L86.7,-36.0L89.3,-35.2L90.7,-32.8L92.9,-31.5L91.8,-28.7L92.7,-26.8L94.5,-26.1L95.2,-24.6L95.8,-24.1L97.6,-21.3L98.9,-20.1L99.1,-18.2L100.0,-14.5L99.8,-13.0L99.7,-11.1L99.9,-9.8L98.9,-8.0L100.8,-6.8L101.0,-3.1L99.7,-2.6L99.8,-0.6L99.9,1.6L100.4,3.2L97.1,4.4L98.2,8.6L96.8,9.2L96.2,11.8L95.3,13.1L93.2,14.8L92.7,16.2L90.3,16.4L89.4,19.7L88.4,20.0L86.4,21.2L84.7,20.8L82.4,23.6L82.6,23.4L80.3,24.6L80.6,26.9L80.9,29.5L79.4,31.4L80.6,32.2L79.2,33.8L79.7,35.6L78.0,36.8L78.8,38.4L76.2,42.0L76.9,43.0L77.2,44.8L76.9,45.5L74.9,47.9L74.9,49.4L74.6,52.1L71.8,52.8L72.2,55.7L70.1,55.5L67.7,56.7L65.5,58.8L64.6,59.2L63.0,59.5L59.8,58.8L60.0,60.3L58.1,59.8L55.0,59.7L54.1,59.0L51.3,58.9L49.3,59.5L48.2,56.7L49.1,53.6L49.1,54.2L47.6,51.5L49.5,50.3L49.3,47.6L50.0,45.0L50.1,44.8L51.9,40.7L50.2,38.7L50.6,37.6L51.4,36.7L52.8,33.8L53.8,31.0L54.2,29.8L54.7,27.7L54.5,25.8L55.6,25.4L56.7,21.9L57.8,22.2L58.6,20.2L58.5,17.7L57.9,15.8L58.7,14.8L59.6,12.9L60.4,11.1L61.2,7.6L62.1,6.5L64.1,4.6L63.7,3.5L64.3,1.6L65.2,-1.3L64.1,-2.0L64.2,-2.7L62.9,-5.2L63.2,-7.4L61.8,-8.6L63.9,-11.6L62.0,-11.8L61.2,-16.0L62.0,-16.7L59.9,-17.4L60.7,-19.9L59.4,-22.5L58.5,-23.0L57.2,-24.7L56.2,-25.9L57.1,-28.3L57.3,-29.5L59.0,-30.5L60.8,-32.8L61.2,-34.0L59.8,-37.1L59.2,-38.2L59.0,-40.0L59.6,-40.6L58.4,-43.7L59.7,-45.4Z"/><path d="M44.0,-63.0L48.0,-63.5L52.0,-57.0L58.0,-51.0L63.0,-46.5L59.7,-45.4L54.0,-47.0L48.0,-53.0L44.0,-59.0Z"/><path d="M80.0,27.0L88.0,27.0L88.5,38.0L81.0,38.0Z"/><path d="M55.0,62.0L62.0,62.0L62.0,68.0L55.0,68.0Z"/><path d="M28.4,68.9L34.0,68.9L34.0,74.0L28.4,74.0Z"/><path d="M31.0,16.0L36.0,16.0L36.0,22.5L31.0,22.5Z"/><path d="M-87.0,-49.0L-80.0,-50.0L-68.0,-47.0L-68.0,-40.0L-80.0,-38.0L-87.0,-40.0Z"/><path d="M-94.5,-42.0L-88.0,-42.0L-89.0,-29.0L-93.5,-29.0Z"/><path d="M-19.0,-68.0L-14.0,-68.0L-14.0,-62.5L-19.0,-62.5Z"/></clipPath>
<filter id="nzf0" x="-100" y="-80" width="200" height="160" filterUnits="userSpaceOnUse" color-interpolation-filters="sRGB"><feTurbulence type="fractalNoise" baseFrequency="0.2 0.12" numOctaves="2" seed="30"/><feColorMatrix type="matrix" values="1 0 0 0 0 1 0 0 0 0 1 0 0 0 0 0 0 0 0 1"/><feComponentTransfer><feFuncR type="table" tableValues="0.302 0.302 0.302 0.302 0.302 0.302 0.302 0.302 0.302 0.404 0.404 0.404 0.404 0.573 0.573 0.573 0.573 0.765 0.765 0.765 0.765 0.765 0.765 0.765 0.765"/><feFuncG type="table" tableValues="0.486 0.486 0.486 0.486 0.486 0.486 0.486 0.486 0.486 0.592 0.592 0.592 0.592 0.745 0.745 0.745 0.745 0.725 0.725 0.725 0.725 0.725 0.725 0.725 0.725"/><feFuncB type="table" tableValues="0.678 0.678 0.678 0.678 0.678 0.678 0.678 0.678 0.678 0.776 0.776 0.776 0.776 0.859 0.859 0.859 0.859 0.702 0.702 0.702 0.702 0.702 0.702 0.702 0.702"/></feComponentTransfer></filter>
<clipPath id="zcf0"><path d="M65.9,-46.5L57.6,-45.0L57.5,-43.5L57.3,-42.0L57.1,-40.5L57.3,-39.0L57.6,-37.5L58.0,-36.0L58.4,-34.5L58.8,-33.0L57.9,-31.5L56.9,-30.0L55.9,-28.5L54.9,-27.0L54.5,-25.5L55.4,-24.0L56.3,-22.5L57.3,-21.0L58.2,-19.5L59.2,-18.0L60.0,-16.5L60.2,-15.0L60.4,-13.5L60.6,-12.0L60.8,-10.5L61.0,-9.0L61.2,-7.5L61.3,-6.0L61.5,-4.5L61.7,-3.0L61.9,-1.5L62.1,0.0L62.3,1.5L61.8,3.0L61.3,4.5L60.7,6.0L60.2,7.5L59.6,9.0L59.1,10.5L58.5,12.0L58.0,13.5L57.5,15.0L56.9,16.5L56.4,18.0L55.9,19.5L55.3,21.0L54.8,22.5L54.3,24.0L53.7,25.5L53.2,27.0L52.7,28.5L52.1,30.0L51.6,31.5L51.1,33.0L50.6,34.5L50.2,36.0L49.9,37.5L49.5,39.0L49.1,40.5L48.7,42.0L48.3,43.5L48.0,45.0L47.6,46.5L47.3,48.0L47.1,49.5L46.9,51.0L46.7,52.5L46.5,54.0L46.3,55.5L46.3,57.0L46.9,58.5L47.3,59.5L51.8,59.5L51.7,58.5L51.7,57.0L52.1,55.5L52.7,54.0L53.3,52.5L53.6,51.0L53.8,49.5L54.0,48.0L54.3,46.5L54.7,45.0L55.1,43.5L55.5,42.0L55.9,40.5L56.2,39.0L56.6,37.5L57.0,36.0L57.4,34.5L57.8,33.0L58.3,31.5L58.7,30.0L59.2,28.5L59.7,27.0L60.1,25.5L60.8,24.0L61.7,22.5L62.6,21.0L63.4,19.5L64.2,18.0L64.9,16.5L65.6,15.0L66.3,13.5L66.9,12.0L67.4,10.5L68.0,9.0L68.5,7.5L69.1,6.0L69.6,4.5L70.2,3.0L70.7,1.5L70.5,0.0L70.4,-1.5L70.2,-3.0L70.1,-4.5L69.9,-6.0L69.8,-7.5L69.6,-9.0L69.4,-10.5L69.2,-12.0L69.0,-13.5L68.8,-15.0L68.6,-16.5L67.9,-18.0L67.0,-19.5L66.2,-21.0L65.3,-22.5L64.3,-24.0L63.4,-25.5L63.6,-27.0L64.3,-28.5L64.9,-30.0L65.6,-31.5L66.1,-33.0L65.5,-34.5L65.0,-36.0L64.4,-37.5L63.8,-39.0L63.3,-40.5L63.2,-42.0L63.0,-43.5L62.8,-45.0L68.0,-46.5Z"/></clipPath>
<g clip-path="url(#dcf)"><g clip-path="url(#zcf0)"><rect x="40" y="-75" width="62" height="150" filter="url(#nzf0)"/></g></g>
<filter id="nzf1" x="-100" y="-80" width="200" height="160" filterUnits="userSpaceOnUse" color-interpolation-filters="sRGB"><feTurbulence type="fractalNoise" baseFrequency="0.2 0.12" numOctaves="2" seed="30"/><feColorMatrix type="matrix" values="1 0 0 0 0 1 0 0 0 0 1 0 0 0 0 0 0 0 0 1"/><feComponentTransfer><feFuncR type="table" tableValues="0.302 0.302 0.302 0.302 0.302 0.302 0.302 0.302 0.302 0.302 0.404 0.404 0.404 0.573 0.573 0.573 0.765 0.765 0.765 0.765 0.765 0.765 0.765 0.765 0.765"/><feFuncG type="table" tableValues="0.486 0.486 0.486 0.486 0.486 0.486 0.486 0.486 0.486 0.486 0.592 0.592 0.592 0.745 0.745 0.745 0.725 0.725 0.725 0.725 0.725 0.725 0.725 0.725 0.725"/><feFuncB type="table" tableValues="0.678 0.678 0.678 0.678 0.678 0.678 0.678 0.678 0.678 0.678 0.776 0.776 0.776 0.859 0.859 0.859 0.702 0.702 0.702 0.702 0.702 0.702 0.702 0.702 0.702"/></feComponentTransfer></filter>
<clipPath id="zcf1"><path d="M68.0,-46.5L62.8,-45.0L63.0,-43.5L63.2,-42.0L63.3,-40.5L63.8,-39.0L64.4,-37.5L65.0,-36.0L65.5,-34.5L66.1,-33.0L65.6,-31.5L64.9,-30.0L64.3,-28.5L63.6,-27.0L63.4,-25.5L64.3,-24.0L65.3,-22.5L66.2,-21.0L67.0,-19.5L67.9,-18.0L68.6,-16.5L68.8,-15.0L69.0,-13.5L69.2,-12.0L69.4,-10.5L69.6,-9.0L69.8,-7.5L69.9,-6.0L70.1,-4.5L70.2,-3.0L70.4,-1.5L70.5,0.0L70.7,1.5L70.2,3.0L69.6,4.5L69.1,6.0L68.5,7.5L68.0,9.0L67.4,10.5L66.9,12.0L66.3,13.5L65.6,15.0L64.9,16.5L64.2,18.0L63.4,19.5L62.6,21.0L61.7,22.5L60.8,24.0L60.1,25.5L59.7,27.0L59.2,28.5L58.7,30.0L58.3,31.5L57.8,33.0L57.4,34.5L57.0,36.0L56.6,37.5L56.2,39.0L55.9,40.5L55.5,42.0L55.1,43.5L54.7,45.0L54.3,46.5L54.0,48.0L53.8,49.5L53.6,51.0L53.3,52.5L52.7,54.0L52.1,55.5L51.7,57.0L51.7,58.5L51.8,59.5L56.8,59.5L57.6,58.5L58.7,57.0L60.0,55.5L61.3,54.0L62.6,52.5L63.2,51.0L63.5,49.5L63.8,48.0L64.1,46.5L64.5,45.0L64.9,43.5L65.3,42.0L65.6,40.5L66.0,39.0L66.4,37.5L66.8,36.0L67.1,34.5L67.5,33.0L67.8,31.5L68.2,30.0L68.5,28.5L68.8,27.0L69.2,25.5L70.1,24.0L71.7,22.5L73.4,21.0L74.9,19.5L76.0,18.0L77.1,16.5L78.1,15.0L79.2,13.5L79.9,12.0L80.5,10.5L81.0,9.0L81.6,7.5L82.2,6.0L82.8,4.5L83.3,3.0L83.9,1.5L83.8,0.0L83.7,-1.5L83.6,-3.0L83.5,-4.5L83.5,-6.0L83.4,-7.5L83.3,-9.0L83.1,-10.5L82.9,-12.0L82.6,-13.5L82.4,-15.0L82.1,-16.5L81.6,-18.0L81.0,-19.5L80.4,-21.0L79.5,-22.5L78.6,-24.0L77.7,-25.5L77.4,-27.0L77.4,-28.5L77.3,-30.0L77.3,-31.5L77.1,-33.0L76.1,-34.5L75.1,-36.0L74.1,-37.5L73.1,-39.0L72.1,-40.5L71.2,-42.0L70.3,-43.5L69.4,-45.0L68.0,-46.5Z"/></clipPath>
<g clip-path="url(#dcf)"><g clip-path="url(#zcf1)"><rect x="40" y="-75" width="62" height="150" filter="url(#nzf1)"/></g></g>
<filter id="nzf2" x="-100" y="-80" width="200" height="160" filterUnits="userSpaceOnUse" color-interpolation-filters="sRGB"><feTurbulence type="fractalNoise" baseFrequency="0.2 0.12" numOctaves="2" seed="30"/><feColorMatrix type="matrix" values="1 0 0 0 0 1 0 0 0 0 1 0 0 0 0 0 0 0 0 1"/><feComponentTransfer><feFuncR type="table" tableValues="0.302 0.302 0.302 0.302 0.302 0.302 0.302 0.404 0.404 0.404 0.573 0.573 0.573 0.765 0.765 0.765 0.765 0.765 0.765 0.765 0.765 0.765 0.765 0.765 0.765"/><feFuncG type="table" tableValues="0.486 0.486 0.486 0.486 0.486 0.486 0.486 0.592 0.592 0.592 0.745 0.745 0.745 0.725 0.725 0.725 0.725 0.725 0.725 0.725 0.725 0.725 0.725 0.725 0.725"/><feFuncB type="table" tableValues="0.678 0.678 0.678 0.678 0.678 0.678 0.678 0.776 0.776 0.776 0.859 0.859 0.859 0.702 0.702 0.702 0.702 0.702 0.702 0.702 0.702 0.702 0.702 0.702 0.702"/></feComponentTransfer></filter>
<clipPath id="zcf2"><path d="M68.0,-46.5L69.4,-45.0L70.3,-43.5L71.2,-42.0L72.1,-40.5L73.1,-39.0L74.1,-37.5L75.1,-36.0L76.1,-34.5L77.1,-33.0L77.3,-31.5L77.3,-30.0L77.4,-28.5L77.4,-27.0L77.7,-25.5L78.6,-24.0L79.5,-22.5L80.4,-21.0L81.0,-19.5L81.6,-18.0L82.1,-16.5L82.4,-15.0L82.6,-13.5L82.9,-12.0L83.1,-10.5L83.3,-9.0L83.4,-7.5L83.5,-6.0L83.5,-4.5L83.6,-3.0L83.7,-1.5L83.8,0.0L83.9,1.5L83.3,3.0L82.8,4.5L82.2,6.0L81.6,7.5L81.0,9.0L80.5,10.5L79.9,12.0L79.2,13.5L78.1,15.0L77.1,16.5L76.0,18.0L74.9,19.5L73.4,21.0L71.7,22.5L70.1,24.0L69.2,25.5L68.8,27.0L68.5,28.5L68.2,30.0L67.8,31.5L67.5,33.0L67.1,34.5L66.8,36.0L66.4,37.5L66.0,39.0L65.6,40.5L65.3,42.0L64.9,43.5L64.5,45.0L64.1,46.5L63.8,48.0L63.5,49.5L63.2,51.0L62.6,52.5L61.3,54.0L60.0,55.5L58.7,57.0L57.6,58.5L56.8,59.5L65.0,59.5L66.7,58.5L69.2,57.0L71.5,55.5L73.7,54.0L76.0,52.5L76.9,51.0L77.3,49.5L77.6,48.0L78.0,46.5L78.4,45.0L78.8,43.5L79.1,42.0L79.5,40.5L79.9,39.0L80.3,37.5L80.6,36.0L81.0,34.5L81.3,33.0L81.5,31.5L81.7,30.0L81.8,28.5L82.0,27.0L82.2,25.5L83.3,24.0L86.0,22.5L88.6,21.0L90.9,19.5L92.4,18.0L93.9,16.5L95.4,15.0L96.9,13.5L97.7,12.0L98.3,10.5L98.9,9.0L99.5,7.5L100.1,6.0L100.7,4.5L101.3,3.0L101.9,1.5L101.9,0.0L101.9,-1.5L101.9,-3.0L101.9,-4.5L101.9,-6.0L101.9,-7.5L101.9,-9.0L101.8,-10.5L101.5,-12.0L101.2,-13.5L100.9,-15.0L100.6,-16.5L100.3,-18.0L100.0,-19.5L99.7,-21.0L98.9,-22.5L98.0,-24.0L97.1,-25.5L96.2,-27.0L95.3,-28.5L94.4,-30.0L93.5,-31.5L92.5,-33.0L91.0,-34.5L89.5,-36.0L88.0,-37.5L86.5,-39.0L84.8,-40.5L83.0,-42.0L81.2,-43.5L79.4,-45.0L70.1,-46.5Z"/></clipPath>
<g clip-path="url(#dcf)"><g clip-path="url(#zcf2)"><rect x="40" y="-75" width="62" height="150" filter="url(#nzf2)"/></g></g>
<filter id="spf0" x="-100" y="-80" width="200" height="160" filterUnits="userSpaceOnUse" color-interpolation-filters="sRGB"><feTurbulence type="fractalNoise" baseFrequency="0.25" numOctaves="2" seed="80"/><feColorMatrix type="matrix" values="0 0 0 0 0.902 0 0 0 0 0.902 0 0 0 0 0.902 1 0 0 0 0"/><feComponentTransfer><feFuncA type="discrete" tableValues="0 0 0 0 0 0 0 0 0 0 0 0 0 0 0 0 0 0 0 0 0 0 0 0 0 0 0 0 0 1 1 1 1 1 1 1 1 1 1 1"/></feComponentTransfer></filter>
<g clip-path="url(#dcf)"><rect x="40" y="-75" width="62" height="150" filter="url(#spf0)"/></g>
<filter id="nzfx" x="-100" y="-80" width="200" height="160" filterUnits="userSpaceOnUse" color-interpolation-filters="sRGB"><feTurbulence type="fractalNoise" baseFrequency="0.2 0.12" numOctaves="2" seed="39"/><feColorMatrix type="matrix" values="1 0 0 0 0 1 0 0 0 0 1 0 0 0 0 0 0 0 0 1"/><feComponentTransfer><feFuncR type="table" tableValues="0.302 0.302 0.302 0.302 0.302 0.302 0.302 0.302 0.302 0.302 0.404 0.404 0.404 0.573 0.573 0.573 0.765 0.765 0.765 0.765 0.765 0.765 0.765 0.765 0.765"/><feFuncG type="table" tableValues="0.486 0.486 0.486 0.486 0.486 0.486 0.486 0.486 0.486 0.486 0.592 0.592 0.592 0.745 0.745 0.745 0.725 0.725 0.725 0.725 0.725 0.725 0.725 0.725 0.725"/><feFuncB type="table" tableValues="0.678 0.678 0.678 0.678 0.678 0.678 0.678 0.678 0.678 0.678 0.776 0.776 0.776 0.859 0.859 0.859 0.702 0.702 0.702 0.702 0.702 0.702 0.702 0.702 0.702"/></feComponentTransfer></filter>
<clipPath id="xcf"><path d="M44.0,-63.0L46.1,-63.6L48.0,-63.5L48.0,-61.9L49.1,-61.3L50.2,-59.3L52.1,-58.4L52.0,-57.0L54.1,-54.9L53.9,-55.4L55.0,-52.8L57.0,-51.4L58.0,-51.0L60.1,-49.6L60.6,-49.5L60.9,-47.1L63.0,-46.5L61.7,-45.5L59.7,-45.4L57.9,-45.6L56.1,-45.8L54.0,-47.0L52.1,-48.2L51.3,-48.8L51.1,-51.0L48.4,-52.3L48.0,-53.0L46.7,-54.0L45.8,-55.6L44.6,-57.5L44.0,-59.0L43.4,-60.7L44.0,-63.0Z"/><path d="M80.0,27.0L80.7,26.3L83.0,27.3L84.1,26.3L85.9,27.5L88.0,27.0L87.4,29.0L88.4,29.5L88.3,31.6L88.1,34.2L87.6,34.0L89.2,36.3L88.5,38.0L86.5,37.7L85.3,38.8L83.5,37.5L82.7,38.1L81.0,38.0L81.7,37.0L80.5,34.3L81.2,34.2L79.6,32.1L80.9,30.4L79.6,29.1L80.0,27.0Z"/><path d="M55.0,62.0L56.0,61.5L58.1,62.7L60.2,62.4L62.0,62.0L61.3,63.5L62.6,65.0L62.8,67.2L62.0,68.0L60.0,67.1L59.0,67.3L55.9,68.4L55.0,68.0L55.6,67.1L55.8,64.5L54.2,62.8L55.0,62.0Z"/><path d="M28.4,68.9L30.4,69.1L32.7,68.5L34.0,68.9L34.3,71.3L34.7,71.7L34.0,74.0L32.4,74.2L30.3,74.8L28.4,74.0L28.5,72.2L29.2,70.8L28.4,68.9Z"/><path d="M31.0,16.0L32.7,16.2L35.0,16.7L36.0,16.0L36.7,17.4L36.8,19.1L35.7,20.1L36.0,22.5L34.4,21.9L32.3,22.7L31.0,22.5L31.5,21.3L30.3,18.5L30.6,17.7L31.0,16.0Z"/><path d="M-87.0,-49.0L-85.2,-48.8L-83.1,-48.8L-82.1,-48.9L-80.0,-50.0L-78.4,-49.2L-76.5,-48.5L-75.9,-49.1L-73.6,-48.3L-72.0,-48.4L-70.2,-48.6L-69.1,-47.6L-68.0,-47.0L-68.9,-44.9L-68.8,-44.0L-68.3,-42.4L-68.0,-40.0L-70.1,-40.5L-70.4,-40.3L-73.1,-40.0L-73.3,-38.9L-74.9,-37.9L-77.0,-38.7L-78.7,-38.7L-80.0,-38.0L-81.6,-37.7L-83.5,-38.5L-84.5,-38.9L-87.0,-40.0L-86.7,-41.4L-87.7,-43.2L-86.4,-44.6L-86.7,-46.4L-86.9,-48.0L-87.0,-49.0Z"/><path d="M-94.5,-42.0L-93.2,-41.1L-90.4,-41.2L-89.1,-41.3L-88.0,-42.0L-89.0,-40.1L-88.7,-38.3L-88.5,-37.0L-88.4,-35.4L-88.0,-33.0L-89.0,-31.7L-88.2,-30.8L-89.0,-29.0L-91.2,-29.0L-91.5,-29.0L-93.5,-29.0L-94.2,-30.3L-94.1,-31.6L-94.5,-33.7L-94.2,-34.6L-94.8,-36.4L-94.4,-39.0L-94.9,-40.4L-94.5,-42.0Z"/><path d="M-19.0,-68.0L-17.0,-68.7L-15.5,-67.4L-14.0,-68.0L-13.4,-66.1L-13.8,-64.6L-14.0,-62.5L-15.6,-63.2L-17.0,-62.3L-19.0,-62.5L-19.4,-64.6L-18.6,-66.3L-19.0,-68.0Z"/></clipPath>
<g clip-path="url(#xcf)"><rect x="-100" y="-75" width="200" height="150" filter="url(#nzfx)"/></g>
<path fill="#ebebeb" d="M74.9,-31.9L76.4,-32.3L77.8,-31.2L80.0,-31.9L80.7,-30.1L81.3,-29.0L82.2,-27.2L82.8,-25.5L83.5,-24.3L83.6,-22.7L83.8,-21.8L85.4,-20.3L86.0,-18.1L85.8,-16.4L86.5,-14.8L88.5,-14.4L88.7,-12.5L89.2,-10.4L88.4,-8.8L88.6,-6.7L89.7,-4.9L88.8,-4.3L89.7,-2.3L89.7,-0.5L88.8,1.6L89.7,2.2L88.3,4.4L88.7,5.8L87.2,7.2L86.0,8.0L85.4,6.3L84.1,4.3L84.2,3.7L83.6,2.2L83.3,0.9L82.9,-1.6L81.5,-3.5L81.5,-4.4L80.4,-5.3L81.3,-7.0L79.7,-8.7L79.4,-9.9L79.9,-11.6L79.4,-13.7L79.4,-14.3L78.5,-16.6L77.6,-18.2L78.0,-19.2L77.0,-21.1L77.5,-22.8L75.8,-23.6L75.5,-24.7L75.4,-26.8L75.0,-27.8L74.9,-29.6L74.9,-31.9Z"/>
<path stroke="#000" stroke-width="0.8" fill="none" stroke-linejoin="round" d="M-97.0,-36.0L-96.5,-37.7L-95.8,-39.6L-93.4,-40.3L-92.7,-40.8L-91.8,-41.6L-89.3,-41.7L-88.0,-43.0L-87.2,-44.0L-85.6,-43.6L-82.8,-45.7L-80.6,-44.5L-80.0,-46.0L-77.7,-45.4L-76.7,-46.3L-74.0,-45.0L-71.9,-45.7L-70.6,-45.1L-68.0,-44.4L-67.1,-44.2L-64.5,-43.2L-62.5,-43.4L-60.7,-43.1L-58.9,-43.7L-57.0,-43.0L-54.2,-42.2L-52.7,-43.0L-52.0,-44.1L-50.2,-44.7L-48.0,-44.0L-45.7,-43.9L-43.8,-43.7L-41.8,-42.6L-41.0,-43.0L-40.4,-44.3L-37.0,-44.5L-35.3,-45.4L-35.5,-45.6L-32.5,-47.0L-31.5,-47.3L-31.3,-49.0L-28.5,-49.6L-29.1,-52.0L-28.1,-53.8L-26.3,-54.3L-24.6,-56.3L-24.1,-57.2L-23.7,-58.0L-22.8,-59.6L-21.0,-61.3L-20.4,-62.5L-18.9,-63.9L-17.0,-64.5L-15.8,-64.8L-14.3,-62.5L-15.0,-60.6L-14.0,-59.6L-12.8,-58.6L-9.8,-57.0L-8.8,-56.1L-7.8,-54.5L-5.8,-55.4L-3.5,-54.3L-1.7,-53.5L-1.0,-52.0"/>
<path stroke="#000" stroke-width="1.3" fill="none" d="M-88.0,-43.0L-86.1,-44.4L-85.5,-44.4L-84.0,-45.1L-83.2,-44.1L-82.3,-43.9L-82.5,-45.6L-80.6,-46.1L-80.0,-46.0L-79.5,-46.4L-77.3,-44.9L-76.4,-46.1L-75.2,-45.3L-75.5,-45.3L-74.0,-45.0L-73.2,-45.7L-71.9,-45.1L-70.9,-43.8L-69.7,-44.8L-68.3,-43.5L-68.0,-44.4L-67.0,-43.4L-67.0,-44.9L-65.7,-43.1L-63.6,-43.5L-63.4,-43.8L-61.2,-44.4L-61.8,-44.4L-60.1,-42.7L-58.9,-43.5L-58.0,-43.8L-57.0,-43.0L-55.1,-43.4L-55.5,-43.6L-53.4,-43.7L-52.2,-43.8L-52.1,-44.4L-50.2,-43.1L-50.1,-44.5L-49.0,-44.1L-48.0,-44.0L-46.3,-43.0L-45.5,-44.1L-45.9,-42.8L-43.1,-44.1L-43.0,-43.3L-41.0,-44.1L-41.0,-43.0L-40.9,-42.7L-39.0,-43.9L-37.6,-44.1L-36.8,-45.2L-37.1,-46.1L-35.6,-45.3L-34.6,-46.3L-33.2,-46.0L-32.3,-47.2L-31.5,-47.3"/>
<path stroke="#000" stroke-width="1.0" fill="none" d="M-95.8,-39.0L-96.3,-37.4L-96.5,-35.9L-96.8,-34.0L-97.3,-32.4L-97.2,-31.0L-98.2,-29.5L-98.0,-28.0L-97.8,-26.0L-98.4,-24.0L-98.2,-21.8L-99.1,-20.2L-98.5,-19.0L-99.8,-17.7L-99.3,-16.0L-99.3,-14.5L-100.0,-12.8L-100.1,-10.3L-99.9,-9.0L-100.2,-7.4L-99.9,-4.9L-100.5,-4.4L-100.3,-2.0L-99.7,0.3L-100.0,1.7L-100.9,3.1L-100.6,5.4"/>
<path stroke="#000" stroke-width="0.8" fill="none" stroke-linejoin="round" d="M-1.0,-52.0L-2.3,-50.2L-3.5,-49.0L-5.0,-48.8L-7.9,-47.5L-8.8,-46.4L-11.4,-45.0L-13.1,-44.7L-12.5,-42.8L-12.5,-40.9L-12.3,-39.4L-14.1,-38.0L-15.2,-35.7L-15.8,-35.0L-18.3,-33.3L-20.0,-32.3L-21.0,-31.5L-22.6,-30.4L-23.0,-29.8L-25.8,-26.9L-26.3,-26.3L-27.6,-25.3L-28.9,-22.8L-29.5,-20.8L-32.5,-20.6L-33.3,-19.3L-35.1,-17.9L-35.4,-16.4L-36.8,-14.0L-37.6,-13.1L-39.7,-10.0L-40.3,-8.8L-41.6,-7.2L-42.5,-5.3L-43.8,-3.5L-45.3,-3.0L-46.0,-0.0L-46.8,0.8L-49.0,1.8L-49.9,3.3L-49.9,5.6L-50.8,7.0"/>
<path stroke="#000" stroke-width="0.8" fill="none" stroke-linejoin="round" d="M1.0,-52.0L2.7,-51.9L5.3,-52.6L7.4,-51.9L8.2,-53.1L9.8,-53.1L12.7,-53.3L14.0,-52.6L14.5,-54.6L14.4,-55.7L16.0,-56.8L15.7,-58.5L15.9,-59.9L17.4,-59.8L19.9,-60.9L20.5,-62.5L22.8,-62.8L24.6,-63.5L24.8,-64.2L26.9,-65.2L28.5,-66.5L30.2,-66.9L31.4,-67.1L32.9,-68.0L35.5,-66.8L37.5,-67.3L38.2,-67.4L39.7,-68.1L40.6,-67.7L42.8,-68.7L44.0,-68.1L45.7,-68.2L47.8,-68.1L49.6,-68.7L50.3,-68.9L52.1,-69.8L54.2,-69.7L55.2,-70.5L56.5,-70.5L59.0,-71.3L61.5,-70.7L62.6,-68.8L63.8,-68.9L64.2,-68.8L67.0,-66.6L68.0,-67.2L68.8,-65.0L70.3,-64.9L72.7,-63.5L73.5,-63.3L73.4,-61.0L74.3,-59.7L75.1,-58.5L75.4,-56.5L77.4,-55.9L77.7,-55.0L79.5,-54.0L80.2,-52.6L81.5,-52.0L82.8,-52.4L84.0,-51.6L85.5,-52.5L87.9,-52.0L88.8,-51.2L91.6,-50.9L92.3,-50.6L95.0,-50.0"/>
<path stroke="#000" stroke-width="0.8" fill="none" stroke-linejoin="round" d="M30.0,17.0L30.9,17.1L33.7,17.2L34.6,15.5L37.2,15.9L38.0,15.6L39.8,15.5L41.0,14.0L43.4,14.2L43.2,12.6L40.9,12.2L40.7,9.5L39.5,9.2L38.4,7.6L36.4,6.6L35.0,4.6L33.6,3.0L34.1,2.0L31.8,0.9L31.8,-0.7L30.1,-1.3L29.3,-4.3L28.0,-5.0L27.9,-6.6L26.8,-9.5L27.8,-10.4L26.8,-12.3L25.4,-14.1L24.7,-15.2L24.5,-17.5L24.0,-19.9L24.1,-21.6L22.4,-23.3L22.8,-24.8L21.8,-25.6L20.1,-27.0L18.3,-26.4L16.6,-27.3L16.0,-28.9L15.3,-30.4L14.8,-32.6L14.0,-33.3L13.4,-35.6L13.6,-35.9L12.3,-38.5L9.7,-40.1L8.8,-40.3L8.3,-41.9L6.1,-43.4L7.1,-45.7L5.3,-47.3L3.8,-48.3L3.8,-50.1L1.8,-50.8L1.0,-52.0"/>
<path fill="#e6e6e6" stroke="#000" stroke-width="0.6" d="M-23.8,-19.8L-24.9,-19.2L-26.5,-18.8L-28.4,-18.9L-28.5,-19.6L-28.2,-20.7L-26.6,-21.8L-24.8,-20.9ZM-27.7,-16.5L-28.2,-15.5L-29.5,-16.0L-30.2,-16.4L-29.5,-17.3L-28.3,-17.2ZM-28.4,-17.3L-29.2,-15.8L-30.3,-16.0L-31.3,-16.7L-32.3,-16.7L-31.8,-17.8L-31.2,-18.6L-30.1,-18.7L-29.4,-18.3ZM-21.3,-11.1L-21.8,-7.3L-23.1,-8.5L-26.5,-8.5L-25.6,-9.7L-26.6,-11.2L-25.7,-11.9L-23.0,-14.2L-21.5,-12.4ZM-42.2,4.0L-43.0,5.3L-44.0,5.6L-45.1,6.4L-47.1,4.2L-46.5,3.7L-45.0,1.8L-44.5,1.2L-42.8,3.2ZM-22.1,-0.5L-22.0,1.3L-24.1,0.9L-25.4,0.9L-24.7,-1.3L-23.9,-2.3L-21.9,-2.3ZM-33.2,1.3L-33.1,1.9L-34.1,2.7L-35.3,2.3L-34.8,1.6L-35.4,1.0L-34.4,0.1L-33.7,0.5L-32.5,0.6ZM-28.3,-17.7L-29.5,-15.5L-30.9,-14.7L-33.4,-15.2L-34.3,-17.0L-32.5,-18.2L-32.5,-19.9L-30.1,-18.6ZM-14.3,-16.6L-15.5,-14.8L-17.5,-13.6L-19.2,-16.3L-18.4,-19.1L-15.0,-17.8ZM-31.9,-16.9L-32.3,-16.1L-33.1,-16.0L-33.4,-16.5L-33.5,-17.2L-32.9,-17.8L-32.2,-17.3ZM-23.7,-8.9L-23.6,-6.4L-25.3,-7.6L-26.0,-7.6L-27.0,-8.6L-26.5,-9.2L-25.8,-10.6L-25.2,-10.0L-24.2,-9.6ZM-39.9,-2.3L-40.4,-2.2L-40.8,-1.4L-41.7,-1.7L-42.0,-2.6L-42.9,-2.8L-42.2,-3.7L-40.6,-4.4L-39.6,-3.5ZM-28.8,-7.4L-29.0,-6.2L-30.1,-5.5L-30.9,-6.4L-31.5,-7.0L-30.7,-7.9L-29.9,-8.0L-29.3,-7.8ZM-33.9,-13.2L-34.7,-11.4L-36.0,-10.4L-38.0,-12.0L-39.4,-13.4L-38.9,-15.9L-36.8,-14.5L-34.8,-15.9ZM-38.8,5.7L-40.7,8.0L-42.2,10.0L-44.9,7.5L-44.0,6.3L-42.5,4.0L-40.9,5.1ZM-35.9,-3.3L-37.1,-2.1L-38.1,-2.1L-38.6,-3.2L-38.2,-4.5L-36.8,-3.8ZM-24.2,-17.5L-25.5,-16.0L-27.5,-14.7L-29.5,-15.6L-28.7,-17.3L-29.0,-18.3L-28.8,-20.2L-26.7,-19.3L-24.8,-19.2ZM-29.3,-3.0L-29.4,-2.3L-30.1,-2.0L-30.5,-1.8L-31.1,-2.7L-30.7,-3.0L-30.6,-3.4L-30.0,-3.7L-28.9,-3.4ZM-28.7,-8.1L-29.3,-7.5L-31.0,-6.4L-32.1,-9.1L-30.8,-9.2L-29.6,-9.4ZM-26.8,-3.5L-27.5,-3.2L-28.6,-2.7L-29.1,-3.5L-28.2,-4.5L-27.3,-4.5ZM-23.3,3.8L-22.9,5.2L-24.9,4.9L-25.9,4.9L-25.9,3.8L-25.7,2.9L-25.1,2.7L-23.3,3.6ZM-42.2,5.1L-43.1,6.0L-43.8,6.5L-44.9,5.3L-45.3,4.6L-44.1,4.3L-42.2,4.3ZM-31.2,-18.2L-31.6,-17.0L-32.9,-16.6L-33.4,-18.1L-33.0,-19.1L-31.9,-19.2ZM-21.1,2.5L-21.3,3.8L-22.3,3.7L-23.8,3.0L-23.8,2.3L-22.5,1.7L-21.7,2.2ZM-13.8,-19.3L-14.4,-18.1L-16.7,-15.4L-18.1,-16.7L-18.6,-17.5L-18.8,-19.2L-18.8,-21.0L-16.8,-21.2L-15.1,-20.7ZM-25.6,-20.6L-25.5,-19.6L-26.5,-19.5L-26.7,-19.3L-27.6,-19.9L-27.3,-20.8L-27.6,-21.3L-26.2,-22.0L-25.2,-21.1ZM-27.5,4.9L-27.5,5.5L-29.0,5.8L-29.0,4.6L-28.5,4.0L-27.6,4.1ZM-34.0,5.6L-35.1,6.4L-35.5,6.7L-36.6,6.4L-36.2,5.3L-35.7,4.9L-34.9,5.4ZM-42.4,-4.1L-43.3,-3.6L-43.5,-2.3L-45.8,-3.5L-45.7,-4.1L-44.8,-5.4L-44.2,-6.3L-43.0,-6.2ZM-19.3,0.9L-19.9,1.7L-20.9,2.3L-22.8,1.5L-22.7,0.5L-22.3,-0.6L-20.5,-1.6L-20.2,-1.5ZM-37.0,-6.1L-37.8,-5.2L-39.8,-5.2L-42.2,-6.1L-40.3,-7.4L-37.5,-7.9ZM-30.9,-20.8L-31.7,-20.6L-32.6,-19.9L-33.1,-20.4L-33.2,-21.3L-32.5,-21.8L-31.7,-21.4ZM-26.8,-2.9L-27.7,-2.6L-28.7,-2.2L-29.5,-3.3L-28.7,-4.2L-27.3,-4.8ZM-21.2,4.1L-22.3,4.8L-24.2,5.6L-25.2,3.3L-24.3,3.0L-22.6,1.7ZM-42.0,-4.2L-42.9,-3.1L-44.2,-2.4L-45.1,-2.3L-44.2,-4.4L-44.0,-6.0L-42.5,-4.7ZM-37.4,-10.6L-37.6,-9.3L-38.3,-6.9L-40.0,-7.5L-42.1,-9.0L-41.8,-11.3L-40.8,-12.1L-39.0,-12.8L-38.2,-11.2ZM-28.3,-14.7L-29.4,-14.4L-31.3,-12.8L-31.7,-13.4L-33.9,-14.3L-34.2,-16.7L-31.8,-16.0L-30.6,-17.0L-29.4,-17.2ZM-19.8,0.5L-19.3,2.5L-22.3,2.3L-23.3,1.3L-23.4,0.5L-22.3,-0.6L-19.5,-0.5ZM-20.7,-18.2L-20.8,-17.1L-22.5,-16.0L-23.6,-17.6L-24.1,-18.4L-24.2,-20.1L-22.7,-20.2L-20.2,-20.1ZM-22.3,-15.6L-22.3,-14.9L-22.9,-14.5L-24.4,-14.5L-24.5,-15.2L-24.5,-15.9L-24.2,-17.0L-23.7,-16.6L-22.3,-17.2ZM-41.6,2.0L-43.0,2.3L-43.5,3.0L-45.5,3.0L-46.2,2.2L-47.1,0.8L-45.9,-0.4L-44.6,-1.7L-42.1,0.5ZM-32.2,-9.1L-33.3,-8.4L-36.1,-6.3L-37.9,-9.8L-35.9,-11.8L-33.6,-11.1ZM-13.5,-16.5L-15.9,-14.1L-17.8,-13.5L-20.5,-15.4L-17.8,-18.8L-15.7,-17.1ZM-44.0,5.9L-44.5,6.2L-44.9,6.7L-46.6,6.2L-46.7,5.9L-45.9,5.3L-45.0,4.6L-44.1,4.5ZM-22.3,-1.5L-22.4,0.5L-24.1,-0.1L-24.2,-0.7L-24.7,-1.7L-24.0,-2.2L-22.3,-2.2ZM-31.7,0.4L-31.5,1.4L-33.2,1.6L-33.8,0.2L-33.9,-0.8L-32.2,-0.9Z"/>
<path fill="none" stroke="#000" stroke-width="0.7" d="M-39.7,5.6L-40.4,4.7L-39.8,4.7L-41.0,5.1L-42.2,6.0M-29.3,1.7L-28.9,1.2L-29.2,0.9L-28.0,-0.3L-26.8,-1.7M-24.4,-5.5L-24.7,-4.3L-25.5,-4.4L-25.4,-3.7L-24.7,-3.2M-37.6,-9.8L-38.7,-8.8L-38.2,-8.1L-39.2,-8.3L-38.4,-8.0M-43.0,-6.4L-41.8,-7.2L-42.7,-7.8L-42.1,-6.8L-43.2,-7.8M-40.1,-9.8L-40.0,-10.9L-40.5,-11.8L-39.1,-11.1L-40.3,-9.7M-22.4,1.9L-21.7,1.7L-22.6,2.1L-23.8,1.2L-24.1,-0.2M-36.4,1.8L-35.8,1.8L-35.4,1.7L-36.5,2.0L-36.8,2.7M-24.2,-7.2L-24.0,-6.5L-24.2,-7.3L-23.6,-6.2L-22.7,-5.6M-25.5,-1.0L-25.1,-1.1L-25.7,-0.8L-26.9,-1.0L-26.0,-0.4M-30.9,-11.7L-31.1,-11.9L-30.8,-12.2L-30.2,-10.9L-31.2,-10.4M-27.3,-8.3L-27.4,-6.9L-28.7,-6.7L-29.8,-5.9L-28.4,-5.8M-43.6,-3.6L-43.5,-3.0L-43.4,-2.6L-42.4,-2.5L-42.7,-1.2M-41.0,-0.9L-41.3,-0.1L-42.4,1.4L-42.8,0.0L-43.5,-0.3M-35.9,-0.5L-36.4,-1.2L-37.2,-0.5L-35.9,-0.4L-36.7,0.5M-36.6,-12.7L-37.7,-11.9L-36.8,-11.5L-36.9,-11.3L-37.7,-9.9M-37.5,-2.0L-36.6,-1.1L-36.7,-1.7L-36.5,-2.8L-35.5,-3.3M-25.6,-11.3L-26.0,-12.1L-26.2,-13.0L-27.7,-12.3L-28.3,-13.1M-38.8,-6.0L-39.0,-5.6L-38.5,-6.0L-37.2,-4.9L-38.5,-4.0M-24.3,1.6L-25.3,2.6L-24.9,1.1L-26.4,2.5L-25.9,1.7M-40.4,1.4L-40.9,0.4L-39.6,1.2L-40.6,2.4L-40.3,3.3M-30.0,4.3L-29.1,5.4L-30.0,5.9L-29.9,6.7L-30.1,7.8M-32.7,-11.4L-33.5,-12.5L-33.5,-13.8L-33.6,-14.9L-33.6,-14.9M-33.1,3.6L-34.5,4.6L-34.6,4.8L-34.1,5.8L-34.5,5.6M-22.9,-16.1L-22.5,-15.7L-23.9,-15.4L-23.4,-14.1L-23.9,-12.6M-33.7,-5.9L-32.6,-7.3L-31.9,-6.9L-32.4,-5.8L-32.8,-5.9"/>
<path fill="none" stroke="#000" stroke-width="1.0" d="M30.5,18.0l0.4,1.6M30.4,20.4l-0.1,1.6M30.7,22.8l0.1,1.6M31.3,25.2l-0.3,1.6M31.4,27.6l-0.2,1.6M31.3,30.0l-0.4,1.6M31.4,32.4l0.8,1.6M31.7,34.8l0.5,1.6M31.5,37.2l-0.3,1.6"/>
<path fill="none" stroke="#000" stroke-width="0.5" d="M31.7,15.5L32.1,16.4L30.7,17.0L31.9,17.2L30.5,16.6M26.1,1.6L27.4,2.0L27.9,2.8L29.1,3.2L29.4,3.6M39.2,15.9L39.8,15.0L40.3,14.9L41.1,13.7L40.1,12.3M40.7,27.0L41.2,26.6L42.2,27.5L42.3,26.7L41.7,26.5M32.1,10.1L32.5,11.4L31.1,11.6L29.8,10.4L30.7,10.7M43.5,10.6L42.0,10.3L42.3,11.6L43.7,11.5L43.5,10.3M38.2,2.4L37.2,1.0L35.7,1.5L34.6,2.9L33.3,4.0M28.5,-4.4L29.1,-5.2L29.8,-6.1L28.5,-5.3L29.1,-4.2M39.9,-2.0L40.3,-1.4L40.1,-0.1L39.4,1.3L40.0,-0.2M26.3,17.8L27.2,16.5L26.7,17.2L25.7,18.3L25.6,17.0M33.0,15.1L32.8,15.7L31.7,16.5L31.3,17.0L31.7,16.7M33.3,22.5L34.7,23.4L34.9,22.7L33.5,24.2L34.2,25.2M32.3,16.2L33.7,17.2L34.0,16.6L33.8,17.8L33.5,18.3M37.4,26.4L38.4,25.7L36.9,25.0L36.6,25.3L37.6,26.4M26.8,24.2L27.7,25.3L28.0,24.6L29.0,25.5L29.6,26.7M32.6,-2.0L32.8,-1.1L31.9,-0.4L33.1,-1.2L33.5,-0.6M34.8,2.2L34.1,3.0L35.0,2.9L33.7,3.8L34.6,3.0M37.0,26.4L38.2,26.5L38.1,26.7L37.2,25.8L36.2,26.4M32.9,14.8L32.6,14.8L31.5,13.4L33.0,13.1L31.9,13.5M41.0,0.5L41.3,0.0L41.3,-1.4L39.9,0.0L41.0,-0.0M36.8,4.2L37.6,3.9L39.0,4.7L39.9,6.1L39.2,4.7M29.8,1.3L28.6,-0.0L28.7,1.1L28.6,2.4L29.8,1.1M37.4,8.9L36.2,10.3L35.5,10.5L35.9,11.8L36.4,11.5M34.5,0.6L35.9,2.1L35.1,0.7L34.3,0.2L35.6,1.5M41.9,-3.4L42.8,-2.7L43.2,-1.3L41.9,-2.3L42.6,-1.0"/>
</g>
<g fill="none" stroke="#555" stroke-width="0.6" stroke-dasharray="3,2.6">
<circle r="97.6"/><circle r="57"/>
<path d="M-45,-52 Q0,-86 45,-52"/>
<line x1="0.0" y1="-19.0" x2="0.0" y2="-101.8"/>
<line x1="16.5" y1="-9.5" x2="88.2" y2="-50.9"/>
<line x1="16.5" y1="9.5" x2="88.2" y2="50.9"/>
<line x1="0.0" y1="19.0" x2="0.0" y2="101.8"/>
<line x1="-16.5" y1="9.5" x2="-88.2" y2="50.9"/>
<line x1="-16.5" y1="-9.5" x2="-88.2" y2="-50.9"/>
</g>
<circle r="19" fill="#fff" stroke="#555" stroke-width="0.6"/>
<circle r="101.8" fill="none" stroke="#444" stroke-width="0.8"/>
</g>
<rect x="352" y="655.3" width="142" height="117.30000000000007" fill="#fff"/>
<rect x="406.5" y="691.9" width="21.399999999999977" height="56.5" fill="#8c3d27"/>
<rect x="449.8" y="667.4" width="21.5" height="81.0" fill="#355f89"/>
<path d="M391.1,661.2V752.3H486.4" fill="none" stroke="#111" stroke-width="1.3"/>
<line x1="388.1" y1="748.4" x2="391.1" y2="748.4" stroke="#111" stroke-width="1.1"/>
<text x="386.1" y="752.1" font-family="Liberation Sans, sans-serif" font-size="10.3" fill="#222" text-anchor="end">0%</text>
<line x1="388.1" y1="706.8" x2="391.1" y2="706.8" stroke="#111" stroke-width="1.1"/>
<text x="386.1" y="710.5" font-family="Liberation Sans, sans-serif" font-size="10.3" fill="#222" text-anchor="end">30%</text>
<line x1="388.1" y1="665.2" x2="391.1" y2="665.2" stroke="#111" stroke-width="1.1"/>
<text x="386.1" y="668.9" font-family="Liberation Sans, sans-serif" font-size="10.3" fill="#222" text-anchor="end">60%</text>
<line x1="417.2" y1="752.3" x2="417.2" y2="755.3" stroke="#111" stroke-width="1.1"/>
<text x="417.2" y="766.6" font-family="Liberation Sans, sans-serif" font-size="10.3" fill="#111" text-anchor="middle">Negative</text>
<line x1="460.5" y1="752.3" x2="460.5" y2="755.3" stroke="#111" stroke-width="1.1"/>
<text x="460.5" y="766.6" font-family="Liberation Sans, sans-serif" font-size="10.3" fill="#111" text-anchor="middle">Positve</text>
<defs><linearGradient id="sgf" x1="0" y1="0" x2="0" y2="1"><stop offset="0" stop-color="#385b87"/><stop offset="0.13" stop-color="#4b729e"/><stop offset="0.3" stop-color="#7eb0d0"/><stop offset="0.5" stop-color="#c7b6a8"/><stop offset="0.7" stop-color="#f0a466"/><stop offset="0.85" stop-color="#c6713f"/><stop offset="1" stop-color="#8e3f28"/></linearGradient></defs>
<rect x="600.2" y="609.3" width="19.399999999999977" height="95.5" fill="url(#sgf)"/>
<path d="M600.2,633.2h3M616.6,633.2h3" stroke="#fff" stroke-width="0.8" opacity="0.8"/>
<path d="M600.2,657.0h3M616.6,657.0h3" stroke="#fff" stroke-width="0.8" opacity="0.8"/>
<path d="M600.2,680.9h3M616.6,680.9h3" stroke="#fff" stroke-width="0.8" opacity="0.8"/>
<text x="627" y="612.9" font-family="Liberation Sans, sans-serif" font-size="10" fill="#1a1a1a">1.0</text>
<text x="627" y="636.8" font-family="Liberation Sans, sans-serif" font-size="10" fill="#1a1a1a">0.5</text>
<text x="627" y="660.6" font-family="Liberation Sans, sans-serif" font-size="10" fill="#1a1a1a">0.0</text>
<text x="627" y="684.5" font-family="Liberation Sans, sans-serif" font-size="10" fill="#1a1a1a">-0.5</text>
<text x="627" y="708.4" font-family="Liberation Sans, sans-serif" font-size="10" fill="#1a1a1a">-1.0</text>
<text x="600.2" y="598.6" font-family="Liberation Sans, sans-serif" font-size="13.5" fill="#1a1a1a">slope</text>
<text x="354" y="522.5" font-family="Liberation Sans, sans-serif" font-size="19" fill="#000">f)</text>
</svg></body></html>
